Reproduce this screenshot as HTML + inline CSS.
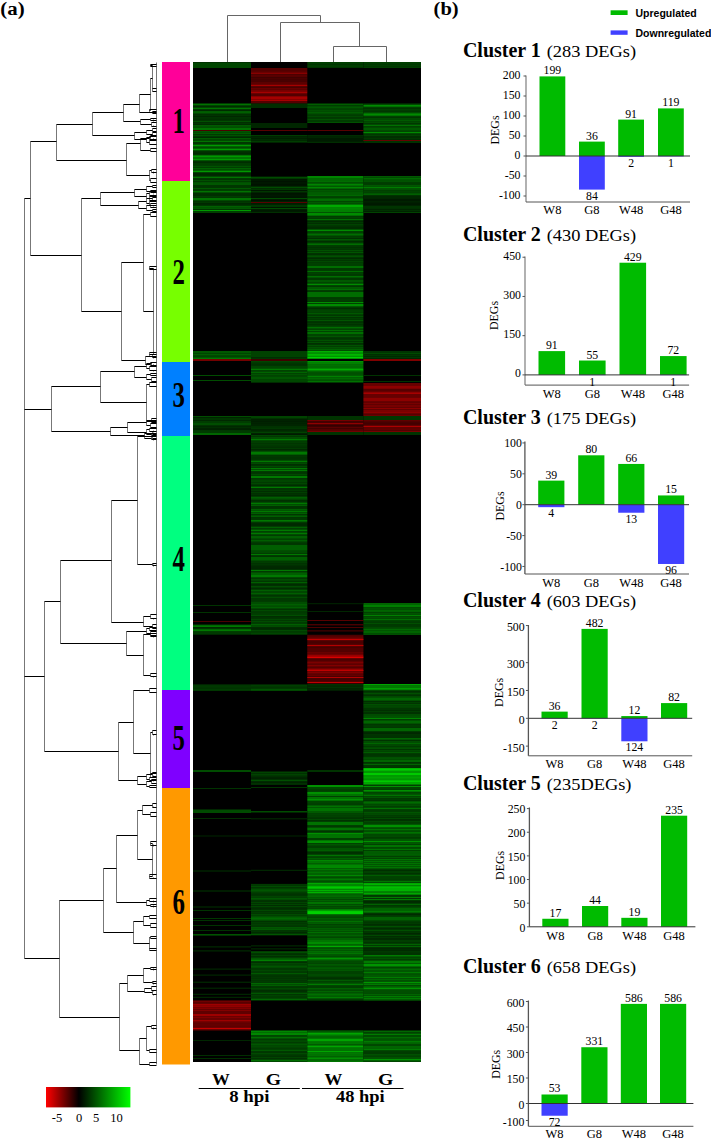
<!DOCTYPE html>
<html><head><meta charset="utf-8"><title>Figure</title>
<style>html,body{margin:0;padding:0;background:#fff;}svg{display:block;}</style></head>
<body><svg width="711" height="1141" viewBox="0 0 711 1141">
<rect width="711" height="1141" fill="#fff"/>
<text transform="translate(433.6 14.6) scale(1.08 1)" font-family="'Liberation Serif', serif" font-weight="bold" font-size="19">(b)</text>
<text transform="translate(0.3 14.6) scale(1.1 1)" font-family="'Liberation Serif', serif" font-weight="bold" font-size="19">(a)</text>
<path d="M227.5 62V15.5H320.5V22.5 M280.5 62V22.5H359.5V46.5 M333.5 62V46.5H386.5V62" stroke="#666" stroke-width="1" fill="none"/>
<rect x="193" y="62" width="228" height="1000" fill="#000"/>
<rect x="193" y="62.00" width="58" height="1.00" fill="rgb(0,50,0)"/>
<rect x="193" y="63.00" width="58" height="1.00" fill="rgb(0,70,0)"/>
<rect x="193" y="64.00" width="58" height="2.00" fill="rgb(0,70,0)"/>
<rect x="193" y="66.00" width="58" height="2.00" fill="rgb(0,70,0)"/>
<rect x="193" y="103.50" width="58" height="2.00" fill="rgb(0,115,0)"/>
<rect x="193" y="105.50" width="58" height="1.00" fill="rgb(0,78,0)"/>
<rect x="193" y="106.50" width="58" height="1.00" fill="rgb(0,51,0)"/>
<rect x="193" y="107.50" width="58" height="2.00" fill="rgb(0,115,0)"/>
<rect x="193" y="109.50" width="58" height="1.00" fill="rgb(0,59,0)"/>
<rect x="193" y="110.50" width="58" height="1.00" fill="rgb(0,56,0)"/>
<rect x="193" y="111.50" width="58" height="1.00" fill="rgb(0,153,0)"/>
<rect x="193" y="112.50" width="58" height="1.00" fill="rgb(0,115,0)"/>
<rect x="193" y="113.50" width="58" height="1.00" fill="rgb(0,85,0)"/>
<rect x="193" y="114.50" width="58" height="2.00" fill="rgb(0,52,0)"/>
<rect x="193" y="116.50" width="58" height="2.00" fill="rgb(0,53,0)"/>
<rect x="193" y="118.50" width="58" height="1.00" fill="rgb(0,77,0)"/>
<rect x="193" y="119.50" width="58" height="1.00" fill="rgb(0,57,0)"/>
<rect x="193" y="120.50" width="58" height="2.00" fill="rgb(0,81,0)"/>
<rect x="193" y="122.50" width="58" height="2.00" fill="rgb(0,55,0)"/>
<rect x="193" y="124.50" width="58" height="1.00" fill="rgb(0,60,0)"/>
<rect x="193" y="125.50" width="58" height="1.00" fill="rgb(0,153,0)"/>
<rect x="193" y="126.50" width="58" height="1.00" fill="rgb(0,90,0)"/>
<rect x="193" y="127.50" width="58" height="1.50" fill="rgb(0,115,0)"/>
<rect x="193" y="129.00" width="58" height="1.00" fill="rgb(0,115,0)"/>
<rect x="193" y="130.00" width="58" height="1.50" fill="rgb(0,115,0)"/>
<rect x="193" y="131.50" width="58" height="1.00" fill="rgb(0,115,0)"/>
<rect x="193" y="132.50" width="58" height="1.50" fill="rgb(0,91,0)"/>
<rect x="193" y="134.00" width="58" height="1.00" fill="rgb(0,58,0)"/>
<rect x="193" y="135.00" width="58" height="1.00" fill="rgb(0,82,0)"/>
<rect x="193" y="136.00" width="58" height="1.50" fill="rgb(0,57,0)"/>
<rect x="193" y="137.50" width="58" height="1.00" fill="rgb(0,57,0)"/>
<rect x="193" y="138.50" width="58" height="1.00" fill="rgb(0,153,0)"/>
<rect x="193" y="139.50" width="58" height="1.00" fill="rgb(0,65,0)"/>
<rect x="193" y="140.50" width="58" height="1.50" fill="rgb(0,115,0)"/>
<rect x="193" y="142.00" width="58" height="1.50" fill="rgb(0,55,0)"/>
<rect x="193" y="143.50" width="58" height="1.50" fill="rgb(0,86,0)"/>
<rect x="193" y="145.00" width="58" height="1.50" fill="rgb(0,153,0)"/>
<rect x="193" y="146.50" width="58" height="1.00" fill="rgb(0,115,0)"/>
<rect x="193" y="147.50" width="58" height="1.00" fill="rgb(0,91,0)"/>
<rect x="193" y="148.50" width="58" height="1.50" fill="rgb(0,153,0)"/>
<rect x="193" y="150.00" width="58" height="1.50" fill="rgb(0,81,0)"/>
<rect x="193" y="151.50" width="58" height="1.00" fill="rgb(0,63,0)"/>
<rect x="193" y="152.50" width="58" height="1.00" fill="rgb(0,65,0)"/>
<rect x="193" y="153.50" width="58" height="1.50" fill="rgb(0,52,0)"/>
<rect x="193" y="155.00" width="58" height="1.00" fill="rgb(0,115,0)"/>
<rect x="193" y="156.00" width="58" height="1.00" fill="rgb(0,153,0)"/>
<rect x="193" y="157.00" width="58" height="2.00" fill="rgb(0,115,0)"/>
<rect x="193" y="159.00" width="58" height="1.00" fill="rgb(0,153,0)"/>
<rect x="193" y="160.00" width="58" height="1.50" fill="rgb(0,86,0)"/>
<rect x="193" y="161.50" width="58" height="1.00" fill="rgb(0,60,0)"/>
<rect x="193" y="162.50" width="58" height="2.00" fill="rgb(0,60,0)"/>
<rect x="193" y="164.50" width="58" height="1.00" fill="rgb(0,90,0)"/>
<rect x="193" y="165.50" width="58" height="2.00" fill="rgb(0,83,0)"/>
<rect x="193" y="167.50" width="58" height="1.00" fill="rgb(0,83,0)"/>
<rect x="193" y="168.50" width="58" height="1.00" fill="rgb(0,153,0)"/>
<rect x="193" y="169.50" width="58" height="1.00" fill="rgb(0,78,0)"/>
<rect x="193" y="170.50" width="58" height="2.00" fill="rgb(0,153,0)"/>
<rect x="193" y="172.50" width="58" height="1.00" fill="rgb(0,58,0)"/>
<rect x="193" y="173.50" width="58" height="1.00" fill="rgb(0,51,0)"/>
<rect x="193" y="174.50" width="58" height="1.00" fill="rgb(0,52,0)"/>
<rect x="193" y="175.50" width="58" height="1.00" fill="rgb(0,59,0)"/>
<rect x="193" y="176.50" width="58" height="1.50" fill="rgb(0,115,0)"/>
<rect x="193" y="178.00" width="58" height="1.50" fill="rgb(0,57,0)"/>
<rect x="193" y="179.50" width="58" height="1.50" fill="rgb(0,79,0)"/>
<rect x="193" y="181.00" width="58" height="1.00" fill="rgb(0,57,0)"/>
<rect x="193" y="182.00" width="58" height="1.00" fill="rgb(0,80,0)"/>
<rect x="193" y="183.00" width="58" height="2.00" fill="rgb(0,87,0)"/>
<rect x="193" y="185.00" width="58" height="1.00" fill="rgb(0,54,0)"/>
<rect x="193" y="186.00" width="58" height="1.00" fill="rgb(0,54,0)"/>
<rect x="193" y="187.00" width="58" height="1.00" fill="rgb(0,55,0)"/>
<rect x="193" y="188.00" width="58" height="1.00" fill="rgb(0,88,0)"/>
<rect x="193" y="189.00" width="58" height="1.00" fill="rgb(0,59,0)"/>
<rect x="193" y="190.00" width="58" height="1.00" fill="rgb(0,62,0)"/>
<rect x="193" y="191.00" width="58" height="1.00" fill="rgb(0,115,0)"/>
<rect x="193" y="192.00" width="58" height="1.50" fill="rgb(0,77,0)"/>
<rect x="193" y="193.50" width="58" height="1.00" fill="rgb(0,57,0)"/>
<rect x="193" y="194.50" width="58" height="1.00" fill="rgb(0,64,0)"/>
<rect x="193" y="195.50" width="58" height="1.50" fill="rgb(0,61,0)"/>
<rect x="193" y="197.00" width="58" height="1.00" fill="rgb(0,55,0)"/>
<rect x="193" y="198.00" width="58" height="1.00" fill="rgb(0,115,0)"/>
<rect x="193" y="199.00" width="58" height="1.50" fill="rgb(0,115,0)"/>
<rect x="193" y="200.50" width="58" height="1.00" fill="rgb(0,92,0)"/>
<rect x="193" y="201.50" width="58" height="2.00" fill="rgb(0,57,0)"/>
<rect x="193" y="203.50" width="58" height="1.00" fill="rgb(0,51,0)"/>
<rect x="193" y="204.50" width="58" height="1.00" fill="rgb(0,62,0)"/>
<rect x="193" y="205.50" width="58" height="1.00" fill="rgb(0,79,0)"/>
<rect x="193" y="206.50" width="58" height="1.00" fill="rgb(0,153,0)"/>
<rect x="193" y="207.50" width="58" height="1.50" fill="rgb(0,88,0)"/>
<rect x="193" y="209.00" width="58" height="1.00" fill="rgb(0,52,0)"/>
<rect x="193" y="210.00" width="58" height="1.00" fill="rgb(0,153,0)"/>
<rect x="193" y="211.00" width="58" height="2.00" fill="rgb(0,62,0)"/>
<rect x="193" y="351.00" width="58" height="1.00" fill="rgb(0,88,0)"/>
<rect x="193" y="352.00" width="58" height="1.50" fill="rgb(0,87,0)"/>
<rect x="193" y="353.50" width="58" height="2.00" fill="rgb(0,94,0)"/>
<rect x="193" y="355.50" width="58" height="1.00" fill="rgb(0,99,0)"/>
<rect x="193" y="356.50" width="58" height="1.50" fill="rgb(0,86,0)"/>
<rect x="193" y="358.00" width="58" height="1.00" fill="rgb(0,120,0)"/>
<rect x="193" y="359" width="58" height="2.00" fill="rgb(115,0,0)"/>
<rect x="193" y="416.00" width="58" height="1.00" fill="rgb(0,77,0)"/>
<rect x="193" y="417.00" width="58" height="1.00" fill="rgb(0,36,0)"/>
<rect x="193" y="418.00" width="58" height="2.00" fill="rgb(0,52,0)"/>
<rect x="193" y="420.00" width="58" height="1.00" fill="rgb(0,40,0)"/>
<rect x="193" y="421.00" width="58" height="2.00" fill="rgb(0,60,0)"/>
<rect x="193" y="423.00" width="58" height="2.00" fill="rgb(0,77,0)"/>
<rect x="193" y="425.00" width="58" height="1.00" fill="rgb(0,51,0)"/>
<rect x="193" y="426.00" width="58" height="1.50" fill="rgb(0,39,0)"/>
<rect x="193" y="427.50" width="58" height="1.00" fill="rgb(0,77,0)"/>
<rect x="193" y="428.50" width="58" height="1.50" fill="rgb(0,34,0)"/>
<rect x="193" y="430.00" width="58" height="1.00" fill="rgb(0,56,0)"/>
<rect x="193" y="431.00" width="58" height="2.00" fill="rgb(0,59,0)"/>
<rect x="193" y="433.00" width="58" height="2.00" fill="rgb(0,102,0)"/>
<rect x="193" y="624.50" width="58" height="1.00" fill="rgb(0,74,0)"/>
<rect x="193" y="625.50" width="58" height="1.00" fill="rgb(0,64,0)"/>
<rect x="193" y="626.50" width="58" height="1.00" fill="rgb(0,64,0)"/>
<rect x="193" y="627.50" width="58" height="2.00" fill="rgb(0,53,0)"/>
<rect x="193" y="629.50" width="58" height="1.00" fill="rgb(0,64,0)"/>
<rect x="193" y="630.50" width="58" height="1.50" fill="rgb(0,62,0)"/>
<rect x="193" y="632.00" width="58" height="2.00" fill="rgb(0,57,0)"/>
<rect x="193" y="634.00" width="58" height="0.70" fill="rgb(0,57,0)"/>
<rect x="193" y="684.50" width="58" height="1.00" fill="rgb(0,66,0)"/>
<rect x="193" y="685.50" width="58" height="1.00" fill="rgb(0,76,0)"/>
<rect x="193" y="686.50" width="58" height="1.00" fill="rgb(0,75,0)"/>
<rect x="193" y="687.50" width="58" height="1.00" fill="rgb(0,70,0)"/>
<rect x="193" y="688.50" width="58" height="1.00" fill="rgb(0,68,0)"/>
<rect x="193" y="689.50" width="58" height="1.00" fill="rgb(0,87,0)"/>
<rect x="193" y="690.50" width="58" height="0.50" fill="rgb(0,66,0)"/>
<rect x="193" y="770" width="58" height="2.00" fill="rgb(0,76,0)"/>
<rect x="193" y="809.5" width="58" height="3.50" fill="rgb(0,76,0)"/>
<rect x="193" y="1000.50" width="58" height="1.00" fill="rgb(127,0,0)"/>
<rect x="193" y="1001.50" width="58" height="1.00" fill="rgb(158,0,0)"/>
<rect x="193" y="1002.50" width="58" height="1.50" fill="rgb(99,0,0)"/>
<rect x="193" y="1004.00" width="58" height="1.50" fill="rgb(158,0,0)"/>
<rect x="193" y="1005.50" width="58" height="1.00" fill="rgb(196,0,0)"/>
<rect x="193" y="1006.50" width="58" height="1.00" fill="rgb(196,0,0)"/>
<rect x="193" y="1007.50" width="58" height="2.00" fill="rgb(131,0,0)"/>
<rect x="193" y="1009.50" width="58" height="1.50" fill="rgb(129,0,0)"/>
<rect x="193" y="1011.00" width="58" height="2.00" fill="rgb(95,0,0)"/>
<rect x="193" y="1013.00" width="58" height="1.00" fill="rgb(95,0,0)"/>
<rect x="193" y="1014.00" width="58" height="1.00" fill="rgb(158,0,0)"/>
<rect x="193" y="1015.00" width="58" height="1.00" fill="rgb(158,0,0)"/>
<rect x="193" y="1016.00" width="58" height="1.00" fill="rgb(106,0,0)"/>
<rect x="193" y="1017.00" width="58" height="1.00" fill="rgb(128,0,0)"/>
<rect x="193" y="1018.00" width="58" height="2.00" fill="rgb(104,0,0)"/>
<rect x="193" y="1020.00" width="58" height="1.00" fill="rgb(158,0,0)"/>
<rect x="193" y="1021.00" width="58" height="1.00" fill="rgb(121,0,0)"/>
<rect x="193" y="1022.00" width="58" height="1.00" fill="rgb(105,0,0)"/>
<rect x="193" y="1023.00" width="58" height="1.00" fill="rgb(96,0,0)"/>
<rect x="193" y="1024.00" width="58" height="1.00" fill="rgb(100,0,0)"/>
<rect x="193" y="1025.00" width="58" height="1.00" fill="rgb(99,0,0)"/>
<rect x="193" y="1026.00" width="58" height="1.00" fill="rgb(94,0,0)"/>
<rect x="193" y="1027.00" width="58" height="1.00" fill="rgb(108,0,0)"/>
<rect x="193" y="1028.00" width="58" height="1.00" fill="rgb(196,0,0)"/>
<rect x="193" y="1029.00" width="58" height="1.00" fill="rgb(103,0,0)"/>
<rect x="193" y="1030.00" width="58" height="0.50" fill="rgb(98,0,0)"/>
<rect x="251" y="68.00" width="56.30000000000001" height="2.00" fill="rgb(85,0,0)"/>
<rect x="251" y="70.00" width="56.30000000000001" height="1.00" fill="rgb(83,0,0)"/>
<rect x="251" y="71.00" width="56.30000000000001" height="1.00" fill="rgb(89,0,0)"/>
<rect x="251" y="72.00" width="56.30000000000001" height="1.00" fill="rgb(107,0,0)"/>
<rect x="251" y="73.00" width="56.30000000000001" height="1.50" fill="rgb(134,0,0)"/>
<rect x="251" y="74.50" width="56.30000000000001" height="1.50" fill="rgb(89,0,0)"/>
<rect x="251" y="76.00" width="56.30000000000001" height="1.50" fill="rgb(86,0,0)"/>
<rect x="251" y="77.50" width="56.30000000000001" height="1.00" fill="rgb(86,0,0)"/>
<rect x="251" y="78.50" width="56.30000000000001" height="1.00" fill="rgb(108,0,0)"/>
<rect x="251" y="79.50" width="56.30000000000001" height="1.00" fill="rgb(82,0,0)"/>
<rect x="251" y="80.50" width="56.30000000000001" height="1.00" fill="rgb(104,0,0)"/>
<rect x="251" y="81.50" width="56.30000000000001" height="1.50" fill="rgb(90,0,0)"/>
<rect x="251" y="83.00" width="56.30000000000001" height="1.00" fill="rgb(91,0,0)"/>
<rect x="251" y="84.00" width="56.30000000000001" height="1.00" fill="rgb(105,0,0)"/>
<rect x="251" y="85.00" width="56.30000000000001" height="1.50" fill="rgb(165,0,0)"/>
<rect x="251" y="86.50" width="56.30000000000001" height="1.00" fill="rgb(94,0,0)"/>
<rect x="251" y="87.50" width="56.30000000000001" height="2.00" fill="rgb(104,0,0)"/>
<rect x="251" y="89.50" width="56.30000000000001" height="1.00" fill="rgb(134,0,0)"/>
<rect x="251" y="90.50" width="56.30000000000001" height="1.00" fill="rgb(165,0,0)"/>
<rect x="251" y="91.50" width="56.30000000000001" height="1.50" fill="rgb(165,0,0)"/>
<rect x="251" y="93.00" width="56.30000000000001" height="1.00" fill="rgb(106,0,0)"/>
<rect x="251" y="94.00" width="56.30000000000001" height="2.00" fill="rgb(83,0,0)"/>
<rect x="251" y="96.00" width="56.30000000000001" height="1.00" fill="rgb(134,0,0)"/>
<rect x="251" y="97.00" width="56.30000000000001" height="2.00" fill="rgb(165,0,0)"/>
<rect x="251" y="99.00" width="56.30000000000001" height="1.00" fill="rgb(134,0,0)"/>
<rect x="251" y="100.00" width="56.30000000000001" height="1.00" fill="rgb(165,0,0)"/>
<rect x="251" y="101.00" width="56.30000000000001" height="2.00" fill="rgb(84,0,0)"/>
<rect x="251" y="103.00" width="56.30000000000001" height="0.50" fill="rgb(108,0,0)"/>
<rect x="251" y="103.5" width="56.30000000000001" height="4.50" fill="rgb(0,46,0)"/>
<rect x="251" y="123" width="56.30000000000001" height="5.00" fill="rgb(0,38,0)"/>
<rect x="251" y="135.00" width="56.30000000000001" height="1.50" fill="rgb(0,61,0)"/>
<rect x="251" y="136.50" width="56.30000000000001" height="2.00" fill="rgb(0,40,0)"/>
<rect x="251" y="138.50" width="56.30000000000001" height="2.00" fill="rgb(0,43,0)"/>
<rect x="251" y="140.50" width="56.30000000000001" height="2.00" fill="rgb(0,61,0)"/>
<rect x="251" y="142.50" width="56.30000000000001" height="0.50" fill="rgb(0,42,0)"/>
<rect x="251" y="176.00" width="56.30000000000001" height="1.00" fill="rgb(0,25,0)"/>
<rect x="251" y="177.00" width="56.30000000000001" height="1.00" fill="rgb(0,75,0)"/>
<rect x="251" y="178.00" width="56.30000000000001" height="1.00" fill="rgb(0,55,0)"/>
<rect x="251" y="179.00" width="56.30000000000001" height="1.00" fill="rgb(0,23,0)"/>
<rect x="251" y="180.00" width="56.30000000000001" height="1.50" fill="rgb(0,25,0)"/>
<rect x="251" y="181.50" width="56.30000000000001" height="2.00" fill="rgb(0,24,0)"/>
<rect x="251" y="183.50" width="56.30000000000001" height="1.00" fill="rgb(0,35,0)"/>
<rect x="251" y="184.50" width="56.30000000000001" height="2.00" fill="rgb(0,21,0)"/>
<rect x="251" y="186.50" width="56.30000000000001" height="2.00" fill="rgb(0,75,0)"/>
<rect x="251" y="188.50" width="56.30000000000001" height="1.50" fill="rgb(0,55,0)"/>
<rect x="251" y="190.00" width="56.30000000000001" height="1.00" fill="rgb(0,22,0)"/>
<rect x="251" y="191.00" width="56.30000000000001" height="1.00" fill="rgb(0,55,0)"/>
<rect x="251" y="192.00" width="56.30000000000001" height="1.50" fill="rgb(0,37,0)"/>
<rect x="251" y="193.50" width="56.30000000000001" height="1.50" fill="rgb(0,22,0)"/>
<rect x="251" y="195.00" width="56.30000000000001" height="1.00" fill="rgb(0,25,0)"/>
<rect x="251" y="196.00" width="56.30000000000001" height="1.00" fill="rgb(0,23,0)"/>
<rect x="251" y="197.00" width="56.30000000000001" height="1.00" fill="rgb(0,21,0)"/>
<rect x="251" y="198.00" width="56.30000000000001" height="1.50" fill="rgb(0,75,0)"/>
<rect x="251" y="199.50" width="56.30000000000001" height="1.00" fill="rgb(0,21,0)"/>
<rect x="251" y="200.50" width="56.30000000000001" height="1.00" fill="rgb(0,22,0)"/>
<rect x="251" y="201.50" width="56.30000000000001" height="2.00" fill="rgb(0,55,0)"/>
<rect x="251" y="203.50" width="56.30000000000001" height="1.50" fill="rgb(0,35,0)"/>
<rect x="251" y="205.00" width="56.30000000000001" height="2.00" fill="rgb(0,55,0)"/>
<rect x="251" y="207.00" width="56.30000000000001" height="1.00" fill="rgb(0,20,0)"/>
<rect x="251" y="208.00" width="56.30000000000001" height="1.50" fill="rgb(0,75,0)"/>
<rect x="251" y="209.50" width="56.30000000000001" height="2.00" fill="rgb(0,24,0)"/>
<rect x="251" y="211.50" width="56.30000000000001" height="1.00" fill="rgb(0,42,0)"/>
<rect x="251" y="212.50" width="56.30000000000001" height="0.50" fill="rgb(0,75,0)"/>
<rect x="251" y="351.00" width="56.30000000000001" height="1.00" fill="rgb(0,66,0)"/>
<rect x="251" y="352.00" width="56.30000000000001" height="2.00" fill="rgb(0,66,0)"/>
<rect x="251" y="354.00" width="56.30000000000001" height="1.00" fill="rgb(0,66,0)"/>
<rect x="251" y="355.00" width="56.30000000000001" height="2.00" fill="rgb(0,66,0)"/>
<rect x="251" y="357.00" width="56.30000000000001" height="1.00" fill="rgb(0,46,0)"/>
<rect x="251" y="358.00" width="56.30000000000001" height="1.00" fill="rgb(0,54,0)"/>
<rect x="251" y="359" width="56.30000000000001" height="2.00" fill="rgb(64,0,0)"/>
<rect x="251" y="361.00" width="56.30000000000001" height="1.50" fill="rgb(0,69,0)"/>
<rect x="251" y="362.50" width="56.30000000000001" height="1.00" fill="rgb(0,83,0)"/>
<rect x="251" y="363.50" width="56.30000000000001" height="1.00" fill="rgb(0,66,0)"/>
<rect x="251" y="364.50" width="56.30000000000001" height="1.00" fill="rgb(0,67,0)"/>
<rect x="251" y="365.50" width="56.30000000000001" height="1.00" fill="rgb(0,73,0)"/>
<rect x="251" y="366.50" width="56.30000000000001" height="1.00" fill="rgb(0,100,0)"/>
<rect x="251" y="367.50" width="56.30000000000001" height="1.00" fill="rgb(0,88,0)"/>
<rect x="251" y="368.50" width="56.30000000000001" height="2.00" fill="rgb(0,121,0)"/>
<rect x="251" y="370.50" width="56.30000000000001" height="1.50" fill="rgb(0,73,0)"/>
<rect x="251" y="372.00" width="56.30000000000001" height="1.00" fill="rgb(0,100,0)"/>
<rect x="251" y="373.00" width="56.30000000000001" height="1.00" fill="rgb(0,67,0)"/>
<rect x="251" y="374.00" width="56.30000000000001" height="1.00" fill="rgb(0,83,0)"/>
<rect x="251" y="375.00" width="56.30000000000001" height="1.00" fill="rgb(0,69,0)"/>
<rect x="251" y="376.00" width="56.30000000000001" height="1.00" fill="rgb(0,71,0)"/>
<rect x="251" y="377.00" width="56.30000000000001" height="2.00" fill="rgb(0,86,0)"/>
<rect x="251" y="379.00" width="56.30000000000001" height="1.00" fill="rgb(0,69,0)"/>
<rect x="251" y="380.00" width="56.30000000000001" height="2.00" fill="rgb(0,71,0)"/>
<rect x="251" y="382.00" width="56.30000000000001" height="0.50" fill="rgb(0,88,0)"/>
<rect x="251" y="416.00" width="56.30000000000001" height="2.00" fill="rgb(0,67,0)"/>
<rect x="251" y="418.00" width="56.30000000000001" height="1.50" fill="rgb(0,49,0)"/>
<rect x="251" y="419.50" width="56.30000000000001" height="1.00" fill="rgb(0,41,0)"/>
<rect x="251" y="420.50" width="56.30000000000001" height="1.00" fill="rgb(0,49,0)"/>
<rect x="251" y="421.50" width="56.30000000000001" height="1.50" fill="rgb(0,36,0)"/>
<rect x="251" y="423.00" width="56.30000000000001" height="1.00" fill="rgb(0,33,0)"/>
<rect x="251" y="424.00" width="56.30000000000001" height="2.00" fill="rgb(0,37,0)"/>
<rect x="251" y="426.00" width="56.30000000000001" height="1.00" fill="rgb(0,50,0)"/>
<rect x="251" y="427.00" width="56.30000000000001" height="1.50" fill="rgb(0,51,0)"/>
<rect x="251" y="428.50" width="56.30000000000001" height="1.00" fill="rgb(0,88,0)"/>
<rect x="251" y="429.50" width="56.30000000000001" height="1.00" fill="rgb(0,35,0)"/>
<rect x="251" y="430.50" width="56.30000000000001" height="1.00" fill="rgb(0,67,0)"/>
<rect x="251" y="431.50" width="56.30000000000001" height="2.00" fill="rgb(0,67,0)"/>
<rect x="251" y="433.50" width="56.30000000000001" height="1.00" fill="rgb(0,36,0)"/>
<rect x="251" y="434.50" width="56.30000000000001" height="0.50" fill="rgb(0,34,0)"/>
<rect x="251" y="435.00" width="56.30000000000001" height="1.00" fill="rgb(0,69,0)"/>
<rect x="251" y="436.00" width="56.30000000000001" height="1.00" fill="rgb(0,55,0)"/>
<rect x="251" y="437.00" width="56.30000000000001" height="2.00" fill="rgb(0,77,0)"/>
<rect x="251" y="439.00" width="56.30000000000001" height="1.00" fill="rgb(0,120,0)"/>
<rect x="251" y="440.00" width="56.30000000000001" height="1.00" fill="rgb(0,75,0)"/>
<rect x="251" y="441.00" width="56.30000000000001" height="1.50" fill="rgb(0,60,0)"/>
<rect x="251" y="442.50" width="56.30000000000001" height="1.00" fill="rgb(0,94,0)"/>
<rect x="251" y="443.50" width="56.30000000000001" height="1.50" fill="rgb(0,60,0)"/>
<rect x="251" y="445.00" width="56.30000000000001" height="1.50" fill="rgb(0,56,0)"/>
<rect x="251" y="446.50" width="56.30000000000001" height="1.00" fill="rgb(0,78,0)"/>
<rect x="251" y="447.50" width="56.30000000000001" height="2.00" fill="rgb(0,61,0)"/>
<rect x="251" y="449.50" width="56.30000000000001" height="1.00" fill="rgb(0,53,0)"/>
<rect x="251" y="450.50" width="56.30000000000001" height="1.00" fill="rgb(0,76,0)"/>
<rect x="251" y="451.50" width="56.30000000000001" height="1.50" fill="rgb(0,120,0)"/>
<rect x="251" y="453.00" width="56.30000000000001" height="1.00" fill="rgb(0,120,0)"/>
<rect x="251" y="454.00" width="56.30000000000001" height="1.00" fill="rgb(0,94,0)"/>
<rect x="251" y="455.00" width="56.30000000000001" height="1.00" fill="rgb(0,54,0)"/>
<rect x="251" y="456.00" width="56.30000000000001" height="1.00" fill="rgb(0,56,0)"/>
<rect x="251" y="457.00" width="56.30000000000001" height="1.50" fill="rgb(0,52,0)"/>
<rect x="251" y="458.50" width="56.30000000000001" height="1.00" fill="rgb(0,78,0)"/>
<rect x="251" y="459.50" width="56.30000000000001" height="1.00" fill="rgb(0,71,0)"/>
<rect x="251" y="460.50" width="56.30000000000001" height="2.00" fill="rgb(0,120,0)"/>
<rect x="251" y="462.50" width="56.30000000000001" height="2.00" fill="rgb(0,74,0)"/>
<rect x="251" y="464.50" width="56.30000000000001" height="1.00" fill="rgb(0,60,0)"/>
<rect x="251" y="465.50" width="56.30000000000001" height="1.50" fill="rgb(0,74,0)"/>
<rect x="251" y="467.00" width="56.30000000000001" height="1.00" fill="rgb(0,58,0)"/>
<rect x="251" y="468.00" width="56.30000000000001" height="1.00" fill="rgb(0,120,0)"/>
<rect x="251" y="469.00" width="56.30000000000001" height="1.00" fill="rgb(0,76,0)"/>
<rect x="251" y="470.00" width="56.30000000000001" height="1.50" fill="rgb(0,120,0)"/>
<rect x="251" y="471.50" width="56.30000000000001" height="1.00" fill="rgb(0,60,0)"/>
<rect x="251" y="472.50" width="56.30000000000001" height="1.00" fill="rgb(0,76,0)"/>
<rect x="251" y="473.50" width="56.30000000000001" height="1.50" fill="rgb(0,73,0)"/>
<rect x="251" y="475.00" width="56.30000000000001" height="1.00" fill="rgb(0,59,0)"/>
<rect x="251" y="476.00" width="56.30000000000001" height="2.00" fill="rgb(0,120,0)"/>
<rect x="251" y="478.00" width="56.30000000000001" height="1.50" fill="rgb(0,54,0)"/>
<rect x="251" y="479.50" width="56.30000000000001" height="1.00" fill="rgb(0,94,0)"/>
<rect x="251" y="480.50" width="56.30000000000001" height="1.00" fill="rgb(0,94,0)"/>
<rect x="251" y="481.50" width="56.30000000000001" height="1.00" fill="rgb(0,94,0)"/>
<rect x="251" y="482.50" width="56.30000000000001" height="2.00" fill="rgb(0,71,0)"/>
<rect x="251" y="484.50" width="56.30000000000001" height="1.00" fill="rgb(0,78,0)"/>
<rect x="251" y="485.50" width="56.30000000000001" height="1.00" fill="rgb(0,52,0)"/>
<rect x="251" y="486.50" width="56.30000000000001" height="1.50" fill="rgb(0,120,0)"/>
<rect x="251" y="488.00" width="56.30000000000001" height="1.00" fill="rgb(0,52,0)"/>
<rect x="251" y="489.00" width="56.30000000000001" height="1.00" fill="rgb(0,53,0)"/>
<rect x="251" y="490.00" width="56.30000000000001" height="1.50" fill="rgb(0,60,0)"/>
<rect x="251" y="491.50" width="56.30000000000001" height="1.00" fill="rgb(0,61,0)"/>
<rect x="251" y="492.50" width="56.30000000000001" height="1.00" fill="rgb(0,94,0)"/>
<rect x="251" y="493.50" width="56.30000000000001" height="2.00" fill="rgb(0,51,0)"/>
<rect x="251" y="495.50" width="56.30000000000001" height="1.50" fill="rgb(0,61,0)"/>
<rect x="251" y="497.00" width="56.30000000000001" height="1.50" fill="rgb(0,94,0)"/>
<rect x="251" y="498.50" width="56.30000000000001" height="1.00" fill="rgb(0,120,0)"/>
<rect x="251" y="499.50" width="56.30000000000001" height="1.00" fill="rgb(0,79,0)"/>
<rect x="251" y="500.50" width="56.30000000000001" height="1.00" fill="rgb(0,59,0)"/>
<rect x="251" y="501.50" width="56.30000000000001" height="1.50" fill="rgb(0,77,0)"/>
<rect x="251" y="503.00" width="56.30000000000001" height="1.50" fill="rgb(0,120,0)"/>
<rect x="251" y="504.50" width="56.30000000000001" height="1.50" fill="rgb(0,94,0)"/>
<rect x="251" y="506.00" width="56.30000000000001" height="2.00" fill="rgb(0,53,0)"/>
<rect x="251" y="508.00" width="56.30000000000001" height="1.00" fill="rgb(0,56,0)"/>
<rect x="251" y="509.00" width="56.30000000000001" height="1.50" fill="rgb(0,94,0)"/>
<rect x="251" y="510.50" width="56.30000000000001" height="1.50" fill="rgb(0,120,0)"/>
<rect x="251" y="512.00" width="56.30000000000001" height="1.00" fill="rgb(0,77,0)"/>
<rect x="251" y="513.00" width="56.30000000000001" height="1.00" fill="rgb(0,94,0)"/>
<rect x="251" y="514.00" width="56.30000000000001" height="1.00" fill="rgb(0,54,0)"/>
<rect x="251" y="515.00" width="56.30000000000001" height="1.00" fill="rgb(0,79,0)"/>
<rect x="251" y="516.00" width="56.30000000000001" height="1.00" fill="rgb(0,94,0)"/>
<rect x="251" y="517.00" width="56.30000000000001" height="1.00" fill="rgb(0,54,0)"/>
<rect x="251" y="518.00" width="56.30000000000001" height="2.00" fill="rgb(0,57,0)"/>
<rect x="251" y="520.00" width="56.30000000000001" height="1.00" fill="rgb(0,120,0)"/>
<rect x="251" y="521.00" width="56.30000000000001" height="1.00" fill="rgb(0,94,0)"/>
<rect x="251" y="522.00" width="56.30000000000001" height="1.50" fill="rgb(0,55,0)"/>
<rect x="251" y="523.50" width="56.30000000000001" height="1.00" fill="rgb(0,59,0)"/>
<rect x="251" y="524.50" width="56.30000000000001" height="1.00" fill="rgb(0,53,0)"/>
<rect x="251" y="525.50" width="56.30000000000001" height="1.00" fill="rgb(0,59,0)"/>
<rect x="251" y="526.50" width="56.30000000000001" height="2.00" fill="rgb(0,94,0)"/>
<rect x="251" y="528.50" width="56.30000000000001" height="1.00" fill="rgb(0,77,0)"/>
<rect x="251" y="529.50" width="56.30000000000001" height="2.00" fill="rgb(0,120,0)"/>
<rect x="251" y="531.50" width="56.30000000000001" height="1.00" fill="rgb(0,70,0)"/>
<rect x="251" y="532.50" width="56.30000000000001" height="1.50" fill="rgb(0,120,0)"/>
<rect x="251" y="534.00" width="56.30000000000001" height="1.00" fill="rgb(0,74,0)"/>
<rect x="251" y="535.00" width="56.30000000000001" height="1.00" fill="rgb(0,60,0)"/>
<rect x="251" y="536.00" width="56.30000000000001" height="1.00" fill="rgb(0,94,0)"/>
<rect x="251" y="537.00" width="56.30000000000001" height="1.00" fill="rgb(0,94,0)"/>
<rect x="251" y="538.00" width="56.30000000000001" height="1.50" fill="rgb(0,76,0)"/>
<rect x="251" y="539.50" width="56.30000000000001" height="1.50" fill="rgb(0,94,0)"/>
<rect x="251" y="541.00" width="56.30000000000001" height="1.00" fill="rgb(0,75,0)"/>
<rect x="251" y="542.00" width="56.30000000000001" height="1.00" fill="rgb(0,60,0)"/>
<rect x="251" y="543.00" width="56.30000000000001" height="1.00" fill="rgb(0,54,0)"/>
<rect x="251" y="544.00" width="56.30000000000001" height="1.00" fill="rgb(0,55,0)"/>
<rect x="251" y="545.00" width="56.30000000000001" height="1.00" fill="rgb(0,94,0)"/>
<rect x="251" y="546.00" width="56.30000000000001" height="1.00" fill="rgb(0,94,0)"/>
<rect x="251" y="547.00" width="56.30000000000001" height="1.00" fill="rgb(0,94,0)"/>
<rect x="251" y="548.00" width="56.30000000000001" height="2.00" fill="rgb(0,94,0)"/>
<rect x="251" y="550.00" width="56.30000000000001" height="1.00" fill="rgb(0,79,0)"/>
<rect x="251" y="551.00" width="56.30000000000001" height="2.00" fill="rgb(0,75,0)"/>
<rect x="251" y="553.00" width="56.30000000000001" height="1.00" fill="rgb(0,61,0)"/>
<rect x="251" y="554.00" width="56.30000000000001" height="1.00" fill="rgb(0,120,0)"/>
<rect x="251" y="555.00" width="56.30000000000001" height="1.00" fill="rgb(0,60,0)"/>
<rect x="251" y="556.00" width="56.30000000000001" height="1.00" fill="rgb(0,53,0)"/>
<rect x="251" y="557.00" width="56.30000000000001" height="1.00" fill="rgb(0,94,0)"/>
<rect x="251" y="558.00" width="56.30000000000001" height="2.00" fill="rgb(0,94,0)"/>
<rect x="251" y="560.00" width="56.30000000000001" height="1.00" fill="rgb(0,78,0)"/>
<rect x="251" y="561.00" width="56.30000000000001" height="1.50" fill="rgb(0,59,0)"/>
<rect x="251" y="562.50" width="56.30000000000001" height="1.00" fill="rgb(0,94,0)"/>
<rect x="251" y="563.50" width="56.30000000000001" height="2.00" fill="rgb(0,55,0)"/>
<rect x="251" y="565.50" width="56.30000000000001" height="1.00" fill="rgb(0,70,0)"/>
<rect x="251" y="566.50" width="56.30000000000001" height="1.00" fill="rgb(0,51,0)"/>
<rect x="251" y="567.50" width="56.30000000000001" height="1.00" fill="rgb(0,59,0)"/>
<rect x="251" y="568.50" width="56.30000000000001" height="1.50" fill="rgb(0,53,0)"/>
<rect x="251" y="570.00" width="56.30000000000001" height="1.00" fill="rgb(0,120,0)"/>
<rect x="251" y="571.00" width="56.30000000000001" height="1.00" fill="rgb(0,57,0)"/>
<rect x="251" y="572.00" width="56.30000000000001" height="1.00" fill="rgb(0,77,0)"/>
<rect x="251" y="573.00" width="56.30000000000001" height="2.00" fill="rgb(0,94,0)"/>
<rect x="251" y="575.00" width="56.30000000000001" height="2.00" fill="rgb(0,120,0)"/>
<rect x="251" y="577.00" width="56.30000000000001" height="1.00" fill="rgb(0,72,0)"/>
<rect x="251" y="578.00" width="56.30000000000001" height="1.00" fill="rgb(0,55,0)"/>
<rect x="251" y="579.00" width="56.30000000000001" height="1.00" fill="rgb(0,75,0)"/>
<rect x="251" y="580.00" width="56.30000000000001" height="1.00" fill="rgb(0,69,0)"/>
<rect x="251" y="581.00" width="56.30000000000001" height="1.00" fill="rgb(0,55,0)"/>
<rect x="251" y="582.00" width="56.30000000000001" height="1.50" fill="rgb(0,94,0)"/>
<rect x="251" y="583.50" width="56.30000000000001" height="1.00" fill="rgb(0,70,0)"/>
<rect x="251" y="584.50" width="56.30000000000001" height="1.00" fill="rgb(0,55,0)"/>
<rect x="251" y="585.50" width="56.30000000000001" height="1.00" fill="rgb(0,71,0)"/>
<rect x="251" y="586.50" width="56.30000000000001" height="1.00" fill="rgb(0,120,0)"/>
<rect x="251" y="587.50" width="56.30000000000001" height="1.00" fill="rgb(0,60,0)"/>
<rect x="251" y="588.50" width="56.30000000000001" height="1.00" fill="rgb(0,60,0)"/>
<rect x="251" y="589.50" width="56.30000000000001" height="2.00" fill="rgb(0,94,0)"/>
<rect x="251" y="591.50" width="56.30000000000001" height="1.00" fill="rgb(0,94,0)"/>
<rect x="251" y="592.50" width="56.30000000000001" height="2.00" fill="rgb(0,94,0)"/>
<rect x="251" y="594.50" width="56.30000000000001" height="1.00" fill="rgb(0,94,0)"/>
<rect x="251" y="595.50" width="56.30000000000001" height="1.50" fill="rgb(0,59,0)"/>
<rect x="251" y="597.00" width="56.30000000000001" height="1.00" fill="rgb(0,77,0)"/>
<rect x="251" y="598.00" width="56.30000000000001" height="1.00" fill="rgb(0,56,0)"/>
<rect x="251" y="599.00" width="56.30000000000001" height="1.00" fill="rgb(0,57,0)"/>
<rect x="251" y="600.00" width="56.30000000000001" height="1.00" fill="rgb(0,57,0)"/>
<rect x="251" y="601.00" width="56.30000000000001" height="1.00" fill="rgb(0,60,0)"/>
<rect x="251" y="602.00" width="56.30000000000001" height="2.00" fill="rgb(0,77,0)"/>
<rect x="251" y="604.00" width="56.30000000000001" height="1.50" fill="rgb(0,94,0)"/>
<rect x="251" y="605.50" width="56.30000000000001" height="1.00" fill="rgb(0,120,0)"/>
<rect x="251" y="606.50" width="56.30000000000001" height="2.00" fill="rgb(0,94,0)"/>
<rect x="251" y="608.50" width="56.30000000000001" height="1.00" fill="rgb(0,94,0)"/>
<rect x="251" y="609.50" width="56.30000000000001" height="1.00" fill="rgb(0,59,0)"/>
<rect x="251" y="610.50" width="56.30000000000001" height="1.00" fill="rgb(0,120,0)"/>
<rect x="251" y="611.50" width="56.30000000000001" height="2.00" fill="rgb(0,58,0)"/>
<rect x="251" y="613.50" width="56.30000000000001" height="1.00" fill="rgb(0,94,0)"/>
<rect x="251" y="614.50" width="56.30000000000001" height="2.00" fill="rgb(0,78,0)"/>
<rect x="251" y="616.50" width="56.30000000000001" height="1.00" fill="rgb(0,54,0)"/>
<rect x="251" y="617.50" width="56.30000000000001" height="1.00" fill="rgb(0,76,0)"/>
<rect x="251" y="618.50" width="56.30000000000001" height="1.50" fill="rgb(0,71,0)"/>
<rect x="251" y="620.00" width="56.30000000000001" height="1.00" fill="rgb(0,56,0)"/>
<rect x="251" y="621.00" width="56.30000000000001" height="1.00" fill="rgb(0,75,0)"/>
<rect x="251" y="622.00" width="56.30000000000001" height="1.50" fill="rgb(0,59,0)"/>
<rect x="251" y="623.50" width="56.30000000000001" height="1.50" fill="rgb(0,94,0)"/>
<rect x="251" y="625.00" width="56.30000000000001" height="1.00" fill="rgb(0,73,0)"/>
<rect x="251" y="626.00" width="56.30000000000001" height="1.50" fill="rgb(0,76,0)"/>
<rect x="251" y="627.50" width="56.30000000000001" height="1.00" fill="rgb(0,52,0)"/>
<rect x="251" y="628.50" width="56.30000000000001" height="1.00" fill="rgb(0,56,0)"/>
<rect x="251" y="629.50" width="56.30000000000001" height="1.00" fill="rgb(0,60,0)"/>
<rect x="251" y="630.50" width="56.30000000000001" height="1.00" fill="rgb(0,120,0)"/>
<rect x="251" y="631.50" width="56.30000000000001" height="1.00" fill="rgb(0,58,0)"/>
<rect x="251" y="632.50" width="56.30000000000001" height="1.00" fill="rgb(0,94,0)"/>
<rect x="251" y="633.50" width="56.30000000000001" height="1.00" fill="rgb(0,94,0)"/>
<rect x="251" y="684.50" width="56.30000000000001" height="1.00" fill="rgb(0,72,0)"/>
<rect x="251" y="685.50" width="56.30000000000001" height="1.00" fill="rgb(0,90,0)"/>
<rect x="251" y="686.50" width="56.30000000000001" height="1.00" fill="rgb(0,70,0)"/>
<rect x="251" y="687.50" width="56.30000000000001" height="1.00" fill="rgb(0,70,0)"/>
<rect x="251" y="688.50" width="56.30000000000001" height="1.50" fill="rgb(0,83,0)"/>
<rect x="251" y="690.00" width="56.30000000000001" height="1.00" fill="rgb(0,71,0)"/>
<rect x="251" y="771.50" width="56.30000000000001" height="2.00" fill="rgb(0,66,0)"/>
<rect x="251" y="773.50" width="56.30000000000001" height="2.00" fill="rgb(0,66,0)"/>
<rect x="251" y="775.50" width="56.30000000000001" height="1.00" fill="rgb(0,79,0)"/>
<rect x="251" y="776.50" width="56.30000000000001" height="1.00" fill="rgb(0,57,0)"/>
<rect x="251" y="777.50" width="56.30000000000001" height="1.00" fill="rgb(0,49,0)"/>
<rect x="251" y="778.50" width="56.30000000000001" height="1.00" fill="rgb(0,46,0)"/>
<rect x="251" y="779.50" width="56.30000000000001" height="2.00" fill="rgb(0,79,0)"/>
<rect x="251" y="781.50" width="56.30000000000001" height="1.00" fill="rgb(0,47,0)"/>
<rect x="251" y="782.50" width="56.30000000000001" height="2.00" fill="rgb(0,49,0)"/>
<rect x="251" y="784.50" width="56.30000000000001" height="0.50" fill="rgb(0,66,0)"/>
<rect x="251" y="883.90" width="56.30000000000001" height="2.00" fill="rgb(0,58,0)"/>
<rect x="251" y="885.90" width="56.30000000000001" height="1.00" fill="rgb(0,86,0)"/>
<rect x="251" y="886.90" width="56.30000000000001" height="1.00" fill="rgb(0,58,0)"/>
<rect x="251" y="887.90" width="56.30000000000001" height="1.00" fill="rgb(0,69,0)"/>
<rect x="251" y="888.90" width="56.30000000000001" height="1.00" fill="rgb(0,86,0)"/>
<rect x="251" y="889.90" width="56.30000000000001" height="2.00" fill="rgb(0,86,0)"/>
<rect x="251" y="891.90" width="56.30000000000001" height="2.00" fill="rgb(0,62,0)"/>
<rect x="251" y="893.90" width="56.30000000000001" height="1.00" fill="rgb(0,57,0)"/>
<rect x="251" y="894.90" width="56.30000000000001" height="1.00" fill="rgb(0,58,0)"/>
<rect x="251" y="895.90" width="56.30000000000001" height="2.00" fill="rgb(0,68,0)"/>
<rect x="251" y="897.90" width="56.30000000000001" height="1.50" fill="rgb(0,86,0)"/>
<rect x="251" y="899.40" width="56.30000000000001" height="1.00" fill="rgb(0,104,0)"/>
<rect x="251" y="900.40" width="56.30000000000001" height="1.00" fill="rgb(0,58,0)"/>
<rect x="251" y="901.40" width="56.30000000000001" height="2.00" fill="rgb(0,69,0)"/>
<rect x="251" y="903.40" width="56.30000000000001" height="2.00" fill="rgb(0,69,0)"/>
<rect x="251" y="905.40" width="56.30000000000001" height="1.00" fill="rgb(0,59,0)"/>
<rect x="251" y="906.40" width="56.30000000000001" height="1.00" fill="rgb(0,104,0)"/>
<rect x="251" y="907.40" width="56.30000000000001" height="1.00" fill="rgb(0,59,0)"/>
<rect x="251" y="908.40" width="56.30000000000001" height="1.00" fill="rgb(0,62,0)"/>
<rect x="251" y="909.40" width="56.30000000000001" height="1.00" fill="rgb(0,70,0)"/>
<rect x="251" y="910.40" width="56.30000000000001" height="1.00" fill="rgb(0,104,0)"/>
<rect x="251" y="911.40" width="56.30000000000001" height="2.00" fill="rgb(0,60,0)"/>
<rect x="251" y="913.40" width="56.30000000000001" height="2.00" fill="rgb(0,75,0)"/>
<rect x="251" y="915.40" width="56.30000000000001" height="1.50" fill="rgb(0,86,0)"/>
<rect x="251" y="916.90" width="56.30000000000001" height="1.00" fill="rgb(0,104,0)"/>
<rect x="251" y="917.90" width="56.30000000000001" height="2.00" fill="rgb(0,104,0)"/>
<rect x="251" y="919.90" width="56.30000000000001" height="1.00" fill="rgb(0,86,0)"/>
<rect x="251" y="920.90" width="56.30000000000001" height="1.00" fill="rgb(0,56,0)"/>
<rect x="251" y="921.90" width="56.30000000000001" height="2.00" fill="rgb(0,62,0)"/>
<rect x="251" y="923.90" width="56.30000000000001" height="1.00" fill="rgb(0,72,0)"/>
<rect x="251" y="924.90" width="56.30000000000001" height="2.00" fill="rgb(0,58,0)"/>
<rect x="251" y="926.90" width="56.30000000000001" height="2.00" fill="rgb(0,86,0)"/>
<rect x="251" y="928.90" width="56.30000000000001" height="1.00" fill="rgb(0,104,0)"/>
<rect x="251" y="929.90" width="56.30000000000001" height="1.00" fill="rgb(0,61,0)"/>
<rect x="251" y="930.90" width="56.30000000000001" height="1.50" fill="rgb(0,55,0)"/>
<rect x="251" y="932.40" width="56.30000000000001" height="1.50" fill="rgb(0,59,0)"/>
<rect x="251" y="933.90" width="56.30000000000001" height="1.40" fill="rgb(0,86,0)"/>
<rect x="251" y="951.40" width="56.30000000000001" height="1.00" fill="rgb(0,102,0)"/>
<rect x="251" y="952.40" width="56.30000000000001" height="1.00" fill="rgb(0,102,0)"/>
<rect x="251" y="953.40" width="56.30000000000001" height="1.00" fill="rgb(0,61,0)"/>
<rect x="251" y="954.40" width="56.30000000000001" height="2.00" fill="rgb(0,66,0)"/>
<rect x="251" y="956.40" width="56.30000000000001" height="2.00" fill="rgb(0,62,0)"/>
<rect x="251" y="958.40" width="56.30000000000001" height="1.00" fill="rgb(0,128,0)"/>
<rect x="251" y="959.40" width="56.30000000000001" height="2.00" fill="rgb(0,128,0)"/>
<rect x="251" y="961.40" width="56.30000000000001" height="1.00" fill="rgb(0,67,0)"/>
<rect x="251" y="962.40" width="56.30000000000001" height="1.00" fill="rgb(0,66,0)"/>
<rect x="251" y="963.40" width="56.30000000000001" height="1.00" fill="rgb(0,102,0)"/>
<rect x="251" y="964.40" width="56.30000000000001" height="1.50" fill="rgb(0,79,0)"/>
<rect x="251" y="965.90" width="56.30000000000001" height="2.00" fill="rgb(0,85,0)"/>
<rect x="251" y="967.90" width="56.30000000000001" height="1.00" fill="rgb(0,63,0)"/>
<rect x="251" y="968.90" width="56.30000000000001" height="1.00" fill="rgb(0,62,0)"/>
<rect x="251" y="969.90" width="56.30000000000001" height="1.00" fill="rgb(0,82,0)"/>
<rect x="251" y="970.90" width="56.30000000000001" height="2.00" fill="rgb(0,60,0)"/>
<rect x="251" y="972.90" width="56.30000000000001" height="1.00" fill="rgb(0,102,0)"/>
<rect x="251" y="973.90" width="56.30000000000001" height="2.00" fill="rgb(0,62,0)"/>
<rect x="251" y="975.90" width="56.30000000000001" height="1.00" fill="rgb(0,59,0)"/>
<rect x="251" y="976.90" width="56.30000000000001" height="1.00" fill="rgb(0,65,0)"/>
<rect x="251" y="977.90" width="56.30000000000001" height="1.00" fill="rgb(0,59,0)"/>
<rect x="251" y="978.90" width="56.30000000000001" height="2.00" fill="rgb(0,61,0)"/>
<rect x="251" y="980.90" width="56.30000000000001" height="2.00" fill="rgb(0,59,0)"/>
<rect x="251" y="982.90" width="56.30000000000001" height="1.50" fill="rgb(0,102,0)"/>
<rect x="251" y="984.40" width="56.30000000000001" height="1.00" fill="rgb(0,102,0)"/>
<rect x="251" y="985.40" width="56.30000000000001" height="1.00" fill="rgb(0,128,0)"/>
<rect x="251" y="986.40" width="56.30000000000001" height="1.00" fill="rgb(0,65,0)"/>
<rect x="251" y="987.40" width="56.30000000000001" height="1.00" fill="rgb(0,78,0)"/>
<rect x="251" y="988.40" width="56.30000000000001" height="1.00" fill="rgb(0,102,0)"/>
<rect x="251" y="989.40" width="56.30000000000001" height="1.00" fill="rgb(0,77,0)"/>
<rect x="251" y="990.40" width="56.30000000000001" height="1.00" fill="rgb(0,59,0)"/>
<rect x="251" y="991.40" width="56.30000000000001" height="1.00" fill="rgb(0,66,0)"/>
<rect x="251" y="992.40" width="56.30000000000001" height="2.00" fill="rgb(0,85,0)"/>
<rect x="251" y="994.40" width="56.30000000000001" height="2.00" fill="rgb(0,67,0)"/>
<rect x="251" y="996.40" width="56.30000000000001" height="1.00" fill="rgb(0,84,0)"/>
<rect x="251" y="997.40" width="56.30000000000001" height="1.00" fill="rgb(0,77,0)"/>
<rect x="251" y="998.40" width="56.30000000000001" height="2.00" fill="rgb(0,102,0)"/>
<rect x="251" y="1000.40" width="56.30000000000001" height="0.10" fill="rgb(0,62,0)"/>
<rect x="251" y="1030.50" width="56.30000000000001" height="1.50" fill="rgb(0,135,0)"/>
<rect x="251" y="1032.00" width="56.30000000000001" height="1.00" fill="rgb(0,110,0)"/>
<rect x="251" y="1033.00" width="56.30000000000001" height="1.00" fill="rgb(0,135,0)"/>
<rect x="251" y="1034.00" width="56.30000000000001" height="1.50" fill="rgb(0,135,0)"/>
<rect x="251" y="1035.50" width="56.30000000000001" height="1.00" fill="rgb(0,72,0)"/>
<rect x="251" y="1036.50" width="56.30000000000001" height="2.00" fill="rgb(0,110,0)"/>
<rect x="251" y="1038.50" width="56.30000000000001" height="1.00" fill="rgb(0,110,0)"/>
<rect x="251" y="1039.50" width="56.30000000000001" height="1.00" fill="rgb(0,69,0)"/>
<rect x="251" y="1040.50" width="56.30000000000001" height="1.00" fill="rgb(0,110,0)"/>
<rect x="251" y="1041.50" width="56.30000000000001" height="1.00" fill="rgb(0,94,0)"/>
<rect x="251" y="1042.50" width="56.30000000000001" height="2.00" fill="rgb(0,73,0)"/>
<rect x="251" y="1044.50" width="56.30000000000001" height="1.00" fill="rgb(0,135,0)"/>
<rect x="251" y="1045.50" width="56.30000000000001" height="1.50" fill="rgb(0,74,0)"/>
<rect x="251" y="1047.00" width="56.30000000000001" height="1.50" fill="rgb(0,67,0)"/>
<rect x="251" y="1048.50" width="56.30000000000001" height="1.00" fill="rgb(0,89,0)"/>
<rect x="251" y="1049.50" width="56.30000000000001" height="2.00" fill="rgb(0,88,0)"/>
<rect x="251" y="1051.50" width="56.30000000000001" height="1.00" fill="rgb(0,68,0)"/>
<rect x="251" y="1052.50" width="56.30000000000001" height="2.00" fill="rgb(0,74,0)"/>
<rect x="251" y="1054.50" width="56.30000000000001" height="1.00" fill="rgb(0,87,0)"/>
<rect x="251" y="1055.50" width="56.30000000000001" height="1.00" fill="rgb(0,71,0)"/>
<rect x="251" y="1056.50" width="56.30000000000001" height="2.00" fill="rgb(0,68,0)"/>
<rect x="251" y="1058.50" width="56.30000000000001" height="1.50" fill="rgb(0,69,0)"/>
<rect x="251" y="1060.00" width="56.30000000000001" height="1.00" fill="rgb(0,110,0)"/>
<rect x="251" y="1061.00" width="56.30000000000001" height="1.00" fill="rgb(0,73,0)"/>
<rect x="307.3" y="62.00" width="56.099999999999966" height="2.00" fill="rgb(0,62,0)"/>
<rect x="307.3" y="64.00" width="56.099999999999966" height="1.00" fill="rgb(0,52,0)"/>
<rect x="307.3" y="65.00" width="56.099999999999966" height="2.00" fill="rgb(0,62,0)"/>
<rect x="307.3" y="67.00" width="56.099999999999966" height="1.00" fill="rgb(0,51,0)"/>
<rect x="307.3" y="103.50" width="56.099999999999966" height="2.00" fill="rgb(0,93,0)"/>
<rect x="307.3" y="105.50" width="56.099999999999966" height="1.00" fill="rgb(0,77,0)"/>
<rect x="307.3" y="106.50" width="56.099999999999966" height="1.00" fill="rgb(0,117,0)"/>
<rect x="307.3" y="107.50" width="56.099999999999966" height="1.00" fill="rgb(0,117,0)"/>
<rect x="307.3" y="108.50" width="56.099999999999966" height="1.00" fill="rgb(0,82,0)"/>
<rect x="307.3" y="109.50" width="56.099999999999966" height="1.00" fill="rgb(0,94,0)"/>
<rect x="307.3" y="110.50" width="56.099999999999966" height="1.00" fill="rgb(0,117,0)"/>
<rect x="307.3" y="111.50" width="56.099999999999966" height="1.50" fill="rgb(0,92,0)"/>
<rect x="307.3" y="113.00" width="56.099999999999966" height="1.50" fill="rgb(0,79,0)"/>
<rect x="307.3" y="114.50" width="56.099999999999966" height="1.00" fill="rgb(0,93,0)"/>
<rect x="307.3" y="115.50" width="56.099999999999966" height="2.00" fill="rgb(0,74,0)"/>
<rect x="307.3" y="117.50" width="56.099999999999966" height="1.00" fill="rgb(0,78,0)"/>
<rect x="307.3" y="118.50" width="56.099999999999966" height="2.00" fill="rgb(0,81,0)"/>
<rect x="307.3" y="120.50" width="56.099999999999966" height="1.00" fill="rgb(0,81,0)"/>
<rect x="307.3" y="121.50" width="56.099999999999966" height="1.50" fill="rgb(0,81,0)"/>
<rect x="307.3" y="135.00" width="56.099999999999966" height="1.00" fill="rgb(0,45,0)"/>
<rect x="307.3" y="136.00" width="56.099999999999966" height="1.00" fill="rgb(0,36,0)"/>
<rect x="307.3" y="137.00" width="56.099999999999966" height="1.50" fill="rgb(0,38,0)"/>
<rect x="307.3" y="138.50" width="56.099999999999966" height="1.00" fill="rgb(0,37,0)"/>
<rect x="307.3" y="139.50" width="56.099999999999966" height="1.00" fill="rgb(0,37,0)"/>
<rect x="307.3" y="140.50" width="56.099999999999966" height="1.00" fill="rgb(0,36,0)"/>
<rect x="307.3" y="141.50" width="56.099999999999966" height="1.00" fill="rgb(0,46,0)"/>
<rect x="307.3" y="142.50" width="56.099999999999966" height="0.50" fill="rgb(0,69,0)"/>
<rect x="307.3" y="176.00" width="56.099999999999966" height="2.00" fill="rgb(0,132,0)"/>
<rect x="307.3" y="178.00" width="56.099999999999966" height="1.00" fill="rgb(0,102,0)"/>
<rect x="307.3" y="179.00" width="56.099999999999966" height="2.00" fill="rgb(0,103,0)"/>
<rect x="307.3" y="181.00" width="56.099999999999966" height="1.50" fill="rgb(0,109,0)"/>
<rect x="307.3" y="182.50" width="56.099999999999966" height="1.00" fill="rgb(0,106,0)"/>
<rect x="307.3" y="183.50" width="56.099999999999966" height="1.50" fill="rgb(0,132,0)"/>
<rect x="307.3" y="185.00" width="56.099999999999966" height="1.00" fill="rgb(0,110,0)"/>
<rect x="307.3" y="186.00" width="56.099999999999966" height="1.00" fill="rgb(0,87,0)"/>
<rect x="307.3" y="187.00" width="56.099999999999966" height="1.00" fill="rgb(0,132,0)"/>
<rect x="307.3" y="188.00" width="56.099999999999966" height="1.50" fill="rgb(0,101,0)"/>
<rect x="307.3" y="189.50" width="56.099999999999966" height="1.50" fill="rgb(0,87,0)"/>
<rect x="307.3" y="191.00" width="56.099999999999966" height="1.00" fill="rgb(0,81,0)"/>
<rect x="307.3" y="192.00" width="56.099999999999966" height="1.00" fill="rgb(0,91,0)"/>
<rect x="307.3" y="193.00" width="56.099999999999966" height="2.00" fill="rgb(0,92,0)"/>
<rect x="307.3" y="195.00" width="56.099999999999966" height="1.50" fill="rgb(0,103,0)"/>
<rect x="307.3" y="196.50" width="56.099999999999966" height="1.00" fill="rgb(0,87,0)"/>
<rect x="307.3" y="197.50" width="56.099999999999966" height="1.50" fill="rgb(0,88,0)"/>
<rect x="307.3" y="199.00" width="56.099999999999966" height="1.00" fill="rgb(0,109,0)"/>
<rect x="307.3" y="200.00" width="56.099999999999966" height="1.50" fill="rgb(0,105,0)"/>
<rect x="307.3" y="201.50" width="56.099999999999966" height="2.00" fill="rgb(0,89,0)"/>
<rect x="307.3" y="203.50" width="56.099999999999966" height="1.50" fill="rgb(0,111,0)"/>
<rect x="307.3" y="205.00" width="56.099999999999966" height="1.00" fill="rgb(0,171,0)"/>
<rect x="307.3" y="206.00" width="56.099999999999966" height="1.50" fill="rgb(0,169,0)"/>
<rect x="307.3" y="207.50" width="56.099999999999966" height="1.00" fill="rgb(0,179,0)"/>
<rect x="307.3" y="208.50" width="56.099999999999966" height="1.00" fill="rgb(0,178,0)"/>
<rect x="307.3" y="209.50" width="56.099999999999966" height="1.00" fill="rgb(0,169,0)"/>
<rect x="307.3" y="210.50" width="56.099999999999966" height="1.00" fill="rgb(0,167,0)"/>
<rect x="307.3" y="211.50" width="56.099999999999966" height="0.50" fill="rgb(0,171,0)"/>
<rect x="307.3" y="212.00" width="56.099999999999966" height="1.00" fill="rgb(0,82,0)"/>
<rect x="307.3" y="213.00" width="56.099999999999966" height="2.00" fill="rgb(0,139,0)"/>
<rect x="307.3" y="215.00" width="56.099999999999966" height="1.00" fill="rgb(0,109,0)"/>
<rect x="307.3" y="216.00" width="56.099999999999966" height="1.00" fill="rgb(0,60,0)"/>
<rect x="307.3" y="217.00" width="56.099999999999966" height="1.00" fill="rgb(0,67,0)"/>
<rect x="307.3" y="218.00" width="56.099999999999966" height="1.00" fill="rgb(0,61,0)"/>
<rect x="307.3" y="219.00" width="56.099999999999966" height="1.00" fill="rgb(0,109,0)"/>
<rect x="307.3" y="220.00" width="56.099999999999966" height="1.50" fill="rgb(0,59,0)"/>
<rect x="307.3" y="221.50" width="56.099999999999966" height="2.00" fill="rgb(0,58,0)"/>
<rect x="307.3" y="223.50" width="56.099999999999966" height="2.00" fill="rgb(0,67,0)"/>
<rect x="307.3" y="225.50" width="56.099999999999966" height="1.00" fill="rgb(0,81,0)"/>
<rect x="307.3" y="226.50" width="56.099999999999966" height="1.00" fill="rgb(0,62,0)"/>
<rect x="307.3" y="227.50" width="56.099999999999966" height="1.00" fill="rgb(0,60,0)"/>
<rect x="307.3" y="228.50" width="56.099999999999966" height="1.00" fill="rgb(0,62,0)"/>
<rect x="307.3" y="229.50" width="56.099999999999966" height="2.00" fill="rgb(0,139,0)"/>
<rect x="307.3" y="231.50" width="56.099999999999966" height="1.50" fill="rgb(0,65,0)"/>
<rect x="307.3" y="233.00" width="56.099999999999966" height="1.00" fill="rgb(0,85,0)"/>
<rect x="307.3" y="234.00" width="56.099999999999966" height="1.00" fill="rgb(0,109,0)"/>
<rect x="307.3" y="235.00" width="56.099999999999966" height="1.00" fill="rgb(0,85,0)"/>
<rect x="307.3" y="236.00" width="56.099999999999966" height="1.00" fill="rgb(0,61,0)"/>
<rect x="307.3" y="237.00" width="56.099999999999966" height="1.50" fill="rgb(0,65,0)"/>
<rect x="307.3" y="238.50" width="56.099999999999966" height="1.00" fill="rgb(0,64,0)"/>
<rect x="307.3" y="239.50" width="56.099999999999966" height="1.00" fill="rgb(0,139,0)"/>
<rect x="307.3" y="240.50" width="56.099999999999966" height="1.00" fill="rgb(0,68,0)"/>
<rect x="307.3" y="241.50" width="56.099999999999966" height="1.00" fill="rgb(0,58,0)"/>
<rect x="307.3" y="242.50" width="56.099999999999966" height="1.50" fill="rgb(0,89,0)"/>
<rect x="307.3" y="244.00" width="56.099999999999966" height="1.00" fill="rgb(0,109,0)"/>
<rect x="307.3" y="245.00" width="56.099999999999966" height="1.50" fill="rgb(0,61,0)"/>
<rect x="307.3" y="246.50" width="56.099999999999966" height="1.00" fill="rgb(0,88,0)"/>
<rect x="307.3" y="247.50" width="56.099999999999966" height="2.00" fill="rgb(0,59,0)"/>
<rect x="307.3" y="249.50" width="56.099999999999966" height="1.50" fill="rgb(0,81,0)"/>
<rect x="307.3" y="251.00" width="56.099999999999966" height="1.00" fill="rgb(0,60,0)"/>
<rect x="307.3" y="252.00" width="56.099999999999966" height="1.50" fill="rgb(0,84,0)"/>
<rect x="307.3" y="253.50" width="56.099999999999966" height="1.00" fill="rgb(0,61,0)"/>
<rect x="307.3" y="254.50" width="56.099999999999966" height="1.00" fill="rgb(0,66,0)"/>
<rect x="307.3" y="255.50" width="56.099999999999966" height="1.00" fill="rgb(0,109,0)"/>
<rect x="307.3" y="256.50" width="56.099999999999966" height="1.00" fill="rgb(0,109,0)"/>
<rect x="307.3" y="257.50" width="56.099999999999966" height="1.00" fill="rgb(0,57,0)"/>
<rect x="307.3" y="258.50" width="56.099999999999966" height="2.00" fill="rgb(0,63,0)"/>
<rect x="307.3" y="260.50" width="56.099999999999966" height="1.00" fill="rgb(0,79,0)"/>
<rect x="307.3" y="261.50" width="56.099999999999966" height="1.00" fill="rgb(0,109,0)"/>
<rect x="307.3" y="262.50" width="56.099999999999966" height="1.50" fill="rgb(0,65,0)"/>
<rect x="307.3" y="264.00" width="56.099999999999966" height="2.00" fill="rgb(0,64,0)"/>
<rect x="307.3" y="266.00" width="56.099999999999966" height="2.00" fill="rgb(0,109,0)"/>
<rect x="307.3" y="268.00" width="56.099999999999966" height="2.00" fill="rgb(0,58,0)"/>
<rect x="307.3" y="270.00" width="56.099999999999966" height="1.00" fill="rgb(0,62,0)"/>
<rect x="307.3" y="271.00" width="56.099999999999966" height="1.00" fill="rgb(0,109,0)"/>
<rect x="307.3" y="272.00" width="56.099999999999966" height="1.00" fill="rgb(0,62,0)"/>
<rect x="307.3" y="273.00" width="56.099999999999966" height="1.00" fill="rgb(0,65,0)"/>
<rect x="307.3" y="274.00" width="56.099999999999966" height="1.00" fill="rgb(0,58,0)"/>
<rect x="307.3" y="275.00" width="56.099999999999966" height="1.00" fill="rgb(0,60,0)"/>
<rect x="307.3" y="276.00" width="56.099999999999966" height="1.00" fill="rgb(0,109,0)"/>
<rect x="307.3" y="277.00" width="56.099999999999966" height="1.00" fill="rgb(0,83,0)"/>
<rect x="307.3" y="278.00" width="56.099999999999966" height="2.00" fill="rgb(0,57,0)"/>
<rect x="307.3" y="280.00" width="56.099999999999966" height="2.00" fill="rgb(0,88,0)"/>
<rect x="307.3" y="282.00" width="56.099999999999966" height="1.50" fill="rgb(0,68,0)"/>
<rect x="307.3" y="283.50" width="56.099999999999966" height="1.50" fill="rgb(0,139,0)"/>
<rect x="307.3" y="285.00" width="56.099999999999966" height="1.50" fill="rgb(0,69,0)"/>
<rect x="307.3" y="286.50" width="56.099999999999966" height="1.00" fill="rgb(0,83,0)"/>
<rect x="307.3" y="287.50" width="56.099999999999966" height="1.00" fill="rgb(0,139,0)"/>
<rect x="307.3" y="288.50" width="56.099999999999966" height="1.50" fill="rgb(0,109,0)"/>
<rect x="307.3" y="290.00" width="56.099999999999966" height="1.00" fill="rgb(0,62,0)"/>
<rect x="307.3" y="291.00" width="56.099999999999966" height="1.00" fill="rgb(0,58,0)"/>
<rect x="307.3" y="292.00" width="56.099999999999966" height="1.00" fill="rgb(0,109,0)"/>
<rect x="307.3" y="293.00" width="56.099999999999966" height="1.00" fill="rgb(0,109,0)"/>
<rect x="307.3" y="294.00" width="56.099999999999966" height="1.00" fill="rgb(0,109,0)"/>
<rect x="307.3" y="295.00" width="56.099999999999966" height="2.00" fill="rgb(0,109,0)"/>
<rect x="307.3" y="297.00" width="56.099999999999966" height="1.00" fill="rgb(0,61,0)"/>
<rect x="307.3" y="298.00" width="56.099999999999966" height="1.00" fill="rgb(0,58,0)"/>
<rect x="307.3" y="299.00" width="56.099999999999966" height="2.00" fill="rgb(0,62,0)"/>
<rect x="307.3" y="301.00" width="56.099999999999966" height="1.00" fill="rgb(0,57,0)"/>
<rect x="307.3" y="302.00" width="56.099999999999966" height="1.00" fill="rgb(0,139,0)"/>
<rect x="307.3" y="303.00" width="56.099999999999966" height="1.00" fill="rgb(0,65,0)"/>
<rect x="307.3" y="304.00" width="56.099999999999966" height="2.00" fill="rgb(0,139,0)"/>
<rect x="307.3" y="306.00" width="56.099999999999966" height="1.00" fill="rgb(0,85,0)"/>
<rect x="307.3" y="307.00" width="56.099999999999966" height="1.50" fill="rgb(0,60,0)"/>
<rect x="307.3" y="308.50" width="56.099999999999966" height="2.00" fill="rgb(0,62,0)"/>
<rect x="307.3" y="310.50" width="56.099999999999966" height="1.00" fill="rgb(0,109,0)"/>
<rect x="307.3" y="311.50" width="56.099999999999966" height="1.00" fill="rgb(0,86,0)"/>
<rect x="307.3" y="312.50" width="56.099999999999966" height="1.50" fill="rgb(0,88,0)"/>
<rect x="307.3" y="314.00" width="56.099999999999966" height="1.50" fill="rgb(0,66,0)"/>
<rect x="307.3" y="315.50" width="56.099999999999966" height="2.00" fill="rgb(0,81,0)"/>
<rect x="307.3" y="317.50" width="56.099999999999966" height="2.00" fill="rgb(0,65,0)"/>
<rect x="307.3" y="319.50" width="56.099999999999966" height="2.00" fill="rgb(0,85,0)"/>
<rect x="307.3" y="321.50" width="56.099999999999966" height="1.00" fill="rgb(0,64,0)"/>
<rect x="307.3" y="322.50" width="56.099999999999966" height="1.00" fill="rgb(0,69,0)"/>
<rect x="307.3" y="323.50" width="56.099999999999966" height="1.00" fill="rgb(0,86,0)"/>
<rect x="307.3" y="324.50" width="56.099999999999966" height="2.00" fill="rgb(0,59,0)"/>
<rect x="307.3" y="326.50" width="56.099999999999966" height="1.50" fill="rgb(0,109,0)"/>
<rect x="307.3" y="328.00" width="56.099999999999966" height="1.00" fill="rgb(0,81,0)"/>
<rect x="307.3" y="329.00" width="56.099999999999966" height="1.00" fill="rgb(0,67,0)"/>
<rect x="307.3" y="330.00" width="56.099999999999966" height="1.00" fill="rgb(0,109,0)"/>
<rect x="307.3" y="331.00" width="56.099999999999966" height="1.00" fill="rgb(0,67,0)"/>
<rect x="307.3" y="332.00" width="56.099999999999966" height="2.00" fill="rgb(0,109,0)"/>
<rect x="307.3" y="334.00" width="56.099999999999966" height="2.00" fill="rgb(0,68,0)"/>
<rect x="307.3" y="336.00" width="56.099999999999966" height="1.00" fill="rgb(0,85,0)"/>
<rect x="307.3" y="337.00" width="56.099999999999966" height="1.50" fill="rgb(0,59,0)"/>
<rect x="307.3" y="338.50" width="56.099999999999966" height="1.00" fill="rgb(0,79,0)"/>
<rect x="307.3" y="339.50" width="56.099999999999966" height="1.50" fill="rgb(0,81,0)"/>
<rect x="307.3" y="341.00" width="56.099999999999966" height="1.00" fill="rgb(0,57,0)"/>
<rect x="307.3" y="342.00" width="56.099999999999966" height="1.50" fill="rgb(0,79,0)"/>
<rect x="307.3" y="343.50" width="56.099999999999966" height="1.00" fill="rgb(0,59,0)"/>
<rect x="307.3" y="344.50" width="56.099999999999966" height="2.00" fill="rgb(0,81,0)"/>
<rect x="307.3" y="346.50" width="56.099999999999966" height="2.00" fill="rgb(0,84,0)"/>
<rect x="307.3" y="348.50" width="56.099999999999966" height="1.00" fill="rgb(0,109,0)"/>
<rect x="307.3" y="349.50" width="56.099999999999966" height="1.00" fill="rgb(0,139,0)"/>
<rect x="307.3" y="350.50" width="56.099999999999966" height="0.50" fill="rgb(0,85,0)"/>
<rect x="307.3" y="351.00" width="56.099999999999966" height="1.50" fill="rgb(0,176,0)"/>
<rect x="307.3" y="352.50" width="56.099999999999966" height="1.00" fill="rgb(0,207,0)"/>
<rect x="307.3" y="353.50" width="56.099999999999966" height="1.50" fill="rgb(0,182,0)"/>
<rect x="307.3" y="355.00" width="56.099999999999966" height="1.50" fill="rgb(0,173,0)"/>
<rect x="307.3" y="356.50" width="56.099999999999966" height="2.00" fill="rgb(0,207,0)"/>
<rect x="307.3" y="358.50" width="56.099999999999966" height="0.50" fill="rgb(0,181,0)"/>
<rect x="307.3" y="361.00" width="56.099999999999966" height="1.00" fill="rgb(0,148,0)"/>
<rect x="307.3" y="362.00" width="56.099999999999966" height="2.00" fill="rgb(0,128,0)"/>
<rect x="307.3" y="364.00" width="56.099999999999966" height="1.00" fill="rgb(0,107,0)"/>
<rect x="307.3" y="365.00" width="56.099999999999966" height="1.00" fill="rgb(0,112,0)"/>
<rect x="307.3" y="366.00" width="56.099999999999966" height="2.00" fill="rgb(0,107,0)"/>
<rect x="307.3" y="368.00" width="56.099999999999966" height="1.00" fill="rgb(0,133,0)"/>
<rect x="307.3" y="369.00" width="56.099999999999966" height="1.50" fill="rgb(0,173,0)"/>
<rect x="307.3" y="370.50" width="56.099999999999966" height="1.00" fill="rgb(0,173,0)"/>
<rect x="307.3" y="371.50" width="56.099999999999966" height="1.00" fill="rgb(0,109,0)"/>
<rect x="307.3" y="372.50" width="56.099999999999966" height="1.00" fill="rgb(0,111,0)"/>
<rect x="307.3" y="373.50" width="56.099999999999966" height="1.00" fill="rgb(0,105,0)"/>
<rect x="307.3" y="374.50" width="56.099999999999966" height="1.00" fill="rgb(0,111,0)"/>
<rect x="307.3" y="375.50" width="56.099999999999966" height="2.00" fill="rgb(0,127,0)"/>
<rect x="307.3" y="377.50" width="56.099999999999966" height="1.00" fill="rgb(0,125,0)"/>
<rect x="307.3" y="378.50" width="56.099999999999966" height="1.00" fill="rgb(0,148,0)"/>
<rect x="307.3" y="379.50" width="56.099999999999966" height="1.00" fill="rgb(0,105,0)"/>
<rect x="307.3" y="380.50" width="56.099999999999966" height="2.00" fill="rgb(0,113,0)"/>
<rect x="307.3" y="416" width="56.099999999999966" height="4.00" fill="rgb(0,51,0)"/>
<rect x="307.3" y="420.00" width="56.099999999999966" height="1.00" fill="rgb(114,0,0)"/>
<rect x="307.3" y="421.00" width="56.099999999999966" height="2.00" fill="rgb(70,0,0)"/>
<rect x="307.3" y="423.00" width="56.099999999999966" height="1.50" fill="rgb(144,0,0)"/>
<rect x="307.3" y="424.50" width="56.099999999999966" height="1.00" fill="rgb(83,0,0)"/>
<rect x="307.3" y="425.50" width="56.099999999999966" height="1.00" fill="rgb(65,0,0)"/>
<rect x="307.3" y="426.50" width="56.099999999999966" height="2.00" fill="rgb(91,0,0)"/>
<rect x="307.3" y="428.50" width="56.099999999999966" height="1.50" fill="rgb(86,0,0)"/>
<rect x="307.3" y="430.00" width="56.099999999999966" height="1.00" fill="rgb(88,0,0)"/>
<rect x="307.3" y="431.00" width="56.099999999999966" height="1.00" fill="rgb(114,0,0)"/>
<rect x="307.3" y="432" width="56.099999999999966" height="3.00" fill="rgb(0,51,0)"/>
<rect x="307.3" y="634.80" width="56.099999999999966" height="1.00" fill="rgb(93,0,0)"/>
<rect x="307.3" y="635.80" width="56.099999999999966" height="1.50" fill="rgb(86,0,0)"/>
<rect x="307.3" y="637.30" width="56.099999999999966" height="1.00" fill="rgb(128,0,0)"/>
<rect x="307.3" y="638.30" width="56.099999999999966" height="1.00" fill="rgb(153,0,0)"/>
<rect x="307.3" y="639.30" width="56.099999999999966" height="2.00" fill="rgb(93,0,0)"/>
<rect x="307.3" y="641.30" width="56.099999999999966" height="1.00" fill="rgb(94,0,0)"/>
<rect x="307.3" y="642.30" width="56.099999999999966" height="1.50" fill="rgb(91,0,0)"/>
<rect x="307.3" y="643.80" width="56.099999999999966" height="1.50" fill="rgb(87,0,0)"/>
<rect x="307.3" y="645.30" width="56.099999999999966" height="1.00" fill="rgb(108,0,0)"/>
<rect x="307.3" y="646.30" width="56.099999999999966" height="1.00" fill="rgb(110,0,0)"/>
<rect x="307.3" y="647.30" width="56.099999999999966" height="1.00" fill="rgb(90,0,0)"/>
<rect x="307.3" y="648.30" width="56.099999999999966" height="1.00" fill="rgb(104,0,0)"/>
<rect x="307.3" y="649.30" width="56.099999999999966" height="1.50" fill="rgb(104,0,0)"/>
<rect x="307.3" y="650.80" width="56.099999999999966" height="1.00" fill="rgb(87,0,0)"/>
<rect x="307.3" y="651.80" width="56.099999999999966" height="1.00" fill="rgb(128,0,0)"/>
<rect x="307.3" y="652.80" width="56.099999999999966" height="1.00" fill="rgb(111,0,0)"/>
<rect x="307.3" y="653.80" width="56.099999999999966" height="1.00" fill="rgb(128,0,0)"/>
<rect x="307.3" y="654.80" width="56.099999999999966" height="2.00" fill="rgb(153,0,0)"/>
<rect x="307.3" y="656.80" width="56.099999999999966" height="1.00" fill="rgb(93,0,0)"/>
<rect x="307.3" y="657.80" width="56.099999999999966" height="1.00" fill="rgb(128,0,0)"/>
<rect x="307.3" y="658.80" width="56.099999999999966" height="1.00" fill="rgb(89,0,0)"/>
<rect x="307.3" y="659.80" width="56.099999999999966" height="1.00" fill="rgb(94,0,0)"/>
<rect x="307.3" y="660.80" width="56.099999999999966" height="1.00" fill="rgb(106,0,0)"/>
<rect x="307.3" y="661.80" width="56.099999999999966" height="1.00" fill="rgb(153,0,0)"/>
<rect x="307.3" y="662.80" width="56.099999999999966" height="1.00" fill="rgb(128,0,0)"/>
<rect x="307.3" y="663.80" width="56.099999999999966" height="1.00" fill="rgb(107,0,0)"/>
<rect x="307.3" y="664.80" width="56.099999999999966" height="2.00" fill="rgb(128,0,0)"/>
<rect x="307.3" y="666.80" width="56.099999999999966" height="1.00" fill="rgb(94,0,0)"/>
<rect x="307.3" y="667.80" width="56.099999999999966" height="1.00" fill="rgb(128,0,0)"/>
<rect x="307.3" y="668.80" width="56.099999999999966" height="1.50" fill="rgb(153,0,0)"/>
<rect x="307.3" y="670.30" width="56.099999999999966" height="1.50" fill="rgb(128,0,0)"/>
<rect x="307.3" y="671.80" width="56.099999999999966" height="2.00" fill="rgb(128,0,0)"/>
<rect x="307.3" y="673.80" width="56.099999999999966" height="1.00" fill="rgb(104,0,0)"/>
<rect x="307.3" y="674.80" width="56.099999999999966" height="1.00" fill="rgb(128,0,0)"/>
<rect x="307.3" y="675.80" width="56.099999999999966" height="1.00" fill="rgb(93,0,0)"/>
<rect x="307.3" y="676.80" width="56.099999999999966" height="1.50" fill="rgb(86,0,0)"/>
<rect x="307.3" y="678.30" width="56.099999999999966" height="1.00" fill="rgb(91,0,0)"/>
<rect x="307.3" y="679.30" width="56.099999999999966" height="1.00" fill="rgb(86,0,0)"/>
<rect x="307.3" y="680.30" width="56.099999999999966" height="1.00" fill="rgb(89,0,0)"/>
<rect x="307.3" y="681.30" width="56.099999999999966" height="1.00" fill="rgb(106,0,0)"/>
<rect x="307.3" y="682.30" width="56.099999999999966" height="1.00" fill="rgb(93,0,0)"/>
<rect x="307.3" y="683.30" width="56.099999999999966" height="0.20" fill="rgb(153,0,0)"/>
<rect x="307.3" y="684.00" width="56.099999999999966" height="1.50" fill="rgb(0,51,0)"/>
<rect x="307.3" y="685.50" width="56.099999999999966" height="1.00" fill="rgb(0,62,0)"/>
<rect x="307.3" y="686.50" width="56.099999999999966" height="2.00" fill="rgb(0,50,0)"/>
<rect x="307.3" y="688.50" width="56.099999999999966" height="1.00" fill="rgb(0,51,0)"/>
<rect x="307.3" y="689.50" width="56.099999999999966" height="1.00" fill="rgb(0,57,0)"/>
<rect x="307.3" y="770" width="56.099999999999966" height="2.00" fill="rgb(0,51,0)"/>
<rect x="307.3" y="785.00" width="56.099999999999966" height="2.00" fill="rgb(0,144,0)"/>
<rect x="307.3" y="787.00" width="56.099999999999966" height="1.00" fill="rgb(0,72,0)"/>
<rect x="307.3" y="788.00" width="56.099999999999966" height="1.00" fill="rgb(0,72,0)"/>
<rect x="307.3" y="789.00" width="56.099999999999966" height="2.00" fill="rgb(0,62,0)"/>
<rect x="307.3" y="791.00" width="56.099999999999966" height="1.00" fill="rgb(0,68,0)"/>
<rect x="307.3" y="792.00" width="56.099999999999966" height="2.00" fill="rgb(0,144,0)"/>
<rect x="307.3" y="794.00" width="56.099999999999966" height="2.00" fill="rgb(0,114,0)"/>
<rect x="307.3" y="796.00" width="56.099999999999966" height="1.00" fill="rgb(0,64,0)"/>
<rect x="307.3" y="797.00" width="56.099999999999966" height="1.00" fill="rgb(0,114,0)"/>
<rect x="307.3" y="798.00" width="56.099999999999966" height="1.00" fill="rgb(0,114,0)"/>
<rect x="307.3" y="799.00" width="56.099999999999966" height="1.00" fill="rgb(0,144,0)"/>
<rect x="307.3" y="800.00" width="56.099999999999966" height="1.00" fill="rgb(0,114,0)"/>
<rect x="307.3" y="801.00" width="56.099999999999966" height="2.00" fill="rgb(0,67,0)"/>
<rect x="307.3" y="803.00" width="56.099999999999966" height="1.00" fill="rgb(0,63,0)"/>
<rect x="307.3" y="804.00" width="56.099999999999966" height="1.00" fill="rgb(0,62,0)"/>
<rect x="307.3" y="805.00" width="56.099999999999966" height="1.00" fill="rgb(0,90,0)"/>
<rect x="307.3" y="806.00" width="56.099999999999966" height="1.00" fill="rgb(0,114,0)"/>
<rect x="307.3" y="807.00" width="56.099999999999966" height="1.00" fill="rgb(0,85,0)"/>
<rect x="307.3" y="808.00" width="56.099999999999966" height="2.00" fill="rgb(0,114,0)"/>
<rect x="307.3" y="810.00" width="56.099999999999966" height="1.00" fill="rgb(0,114,0)"/>
<rect x="307.3" y="811.00" width="56.099999999999966" height="2.00" fill="rgb(0,88,0)"/>
<rect x="307.3" y="813.00" width="56.099999999999966" height="1.00" fill="rgb(0,66,0)"/>
<rect x="307.3" y="814.00" width="56.099999999999966" height="1.50" fill="rgb(0,69,0)"/>
<rect x="307.3" y="815.50" width="56.099999999999966" height="1.00" fill="rgb(0,95,0)"/>
<rect x="307.3" y="816.50" width="56.099999999999966" height="1.00" fill="rgb(0,86,0)"/>
<rect x="307.3" y="817.50" width="56.099999999999966" height="1.00" fill="rgb(0,72,0)"/>
<rect x="307.3" y="818.50" width="56.099999999999966" height="2.00" fill="rgb(0,73,0)"/>
<rect x="307.3" y="820.50" width="56.099999999999966" height="1.50" fill="rgb(0,62,0)"/>
<rect x="307.3" y="822.00" width="56.099999999999966" height="2.00" fill="rgb(0,114,0)"/>
<rect x="307.3" y="824.00" width="56.099999999999966" height="1.00" fill="rgb(0,114,0)"/>
<rect x="307.3" y="825.00" width="56.099999999999966" height="1.50" fill="rgb(0,62,0)"/>
<rect x="307.3" y="826.50" width="56.099999999999966" height="1.00" fill="rgb(0,84,0)"/>
<rect x="307.3" y="827.50" width="56.099999999999966" height="1.50" fill="rgb(0,114,0)"/>
<rect x="307.3" y="829.00" width="56.099999999999966" height="1.00" fill="rgb(0,114,0)"/>
<rect x="307.3" y="830.00" width="56.099999999999966" height="1.50" fill="rgb(0,71,0)"/>
<rect x="307.3" y="831.50" width="56.099999999999966" height="1.50" fill="rgb(0,72,0)"/>
<rect x="307.3" y="833.00" width="56.099999999999966" height="1.00" fill="rgb(0,144,0)"/>
<rect x="307.3" y="834.00" width="56.099999999999966" height="2.00" fill="rgb(0,114,0)"/>
<rect x="307.3" y="836.00" width="56.099999999999966" height="2.00" fill="rgb(0,114,0)"/>
<rect x="307.3" y="838.00" width="56.099999999999966" height="2.00" fill="rgb(0,62,0)"/>
<rect x="307.3" y="840.00" width="56.099999999999966" height="1.00" fill="rgb(0,114,0)"/>
<rect x="307.3" y="841.00" width="56.099999999999966" height="2.00" fill="rgb(0,144,0)"/>
<rect x="307.3" y="843.00" width="56.099999999999966" height="1.00" fill="rgb(0,65,0)"/>
<rect x="307.3" y="844.00" width="56.099999999999966" height="1.00" fill="rgb(0,85,0)"/>
<rect x="307.3" y="845.00" width="56.099999999999966" height="1.00" fill="rgb(0,73,0)"/>
<rect x="307.3" y="846.00" width="56.099999999999966" height="2.00" fill="rgb(0,63,0)"/>
<rect x="307.3" y="848.00" width="56.099999999999966" height="2.00" fill="rgb(0,85,0)"/>
<rect x="307.3" y="850.00" width="56.099999999999966" height="1.00" fill="rgb(0,94,0)"/>
<rect x="307.3" y="851.00" width="56.099999999999966" height="1.50" fill="rgb(0,65,0)"/>
<rect x="307.3" y="852.50" width="56.099999999999966" height="1.00" fill="rgb(0,65,0)"/>
<rect x="307.3" y="853.50" width="56.099999999999966" height="1.50" fill="rgb(0,69,0)"/>
<rect x="307.3" y="855.00" width="56.099999999999966" height="1.50" fill="rgb(0,114,0)"/>
<rect x="307.3" y="856.50" width="56.099999999999966" height="1.00" fill="rgb(0,90,0)"/>
<rect x="307.3" y="857.50" width="56.099999999999966" height="2.00" fill="rgb(0,93,0)"/>
<rect x="307.3" y="859.50" width="56.099999999999966" height="0.50" fill="rgb(0,114,0)"/>
<rect x="307.3" y="860.00" width="56.099999999999966" height="1.00" fill="rgb(0,135,0)"/>
<rect x="307.3" y="861.00" width="56.099999999999966" height="2.00" fill="rgb(0,116,0)"/>
<rect x="307.3" y="863.00" width="56.099999999999966" height="1.00" fill="rgb(0,93,0)"/>
<rect x="307.3" y="864.00" width="56.099999999999966" height="1.00" fill="rgb(0,113,0)"/>
<rect x="307.3" y="865.00" width="56.099999999999966" height="1.00" fill="rgb(0,135,0)"/>
<rect x="307.3" y="866.00" width="56.099999999999966" height="1.00" fill="rgb(0,135,0)"/>
<rect x="307.3" y="867.00" width="56.099999999999966" height="1.00" fill="rgb(0,135,0)"/>
<rect x="307.3" y="868.00" width="56.099999999999966" height="1.00" fill="rgb(0,95,0)"/>
<rect x="307.3" y="869.00" width="56.099999999999966" height="1.00" fill="rgb(0,118,0)"/>
<rect x="307.3" y="870.00" width="56.099999999999966" height="1.00" fill="rgb(0,93,0)"/>
<rect x="307.3" y="871.00" width="56.099999999999966" height="1.00" fill="rgb(0,99,0)"/>
<rect x="307.3" y="872.00" width="56.099999999999966" height="1.00" fill="rgb(0,116,0)"/>
<rect x="307.3" y="873.00" width="56.099999999999966" height="1.00" fill="rgb(0,98,0)"/>
<rect x="307.3" y="874.00" width="56.099999999999966" height="1.00" fill="rgb(0,97,0)"/>
<rect x="307.3" y="875.00" width="56.099999999999966" height="1.50" fill="rgb(0,135,0)"/>
<rect x="307.3" y="876.50" width="56.099999999999966" height="1.00" fill="rgb(0,111,0)"/>
<rect x="307.3" y="877.50" width="56.099999999999966" height="1.50" fill="rgb(0,98,0)"/>
<rect x="307.3" y="879.00" width="56.099999999999966" height="1.50" fill="rgb(0,120,0)"/>
<rect x="307.3" y="880.50" width="56.099999999999966" height="1.00" fill="rgb(0,118,0)"/>
<rect x="307.3" y="881.50" width="56.099999999999966" height="1.50" fill="rgb(0,96,0)"/>
<rect x="307.3" y="883.00" width="56.099999999999966" height="1.50" fill="rgb(0,168,0)"/>
<rect x="307.3" y="884.50" width="56.099999999999966" height="1.00" fill="rgb(0,189,0)"/>
<rect x="307.3" y="885.50" width="56.099999999999966" height="1.50" fill="rgb(0,179,0)"/>
<rect x="307.3" y="887.00" width="56.099999999999966" height="1.00" fill="rgb(0,201,0)"/>
<rect x="307.3" y="888.00" width="56.099999999999966" height="1.50" fill="rgb(0,177,0)"/>
<rect x="307.3" y="889.50" width="56.099999999999966" height="2.00" fill="rgb(0,177,0)"/>
<rect x="307.3" y="891.50" width="56.099999999999966" height="1.50" fill="rgb(0,177,0)"/>
<rect x="307.3" y="893.00" width="56.099999999999966" height="1.00" fill="rgb(0,118,0)"/>
<rect x="307.3" y="894.00" width="56.099999999999966" height="1.00" fill="rgb(0,94,0)"/>
<rect x="307.3" y="895.00" width="56.099999999999966" height="1.50" fill="rgb(0,102,0)"/>
<rect x="307.3" y="896.50" width="56.099999999999966" height="1.00" fill="rgb(0,161,0)"/>
<rect x="307.3" y="897.50" width="56.099999999999966" height="2.00" fill="rgb(0,95,0)"/>
<rect x="307.3" y="899.50" width="56.099999999999966" height="2.00" fill="rgb(0,97,0)"/>
<rect x="307.3" y="901.50" width="56.099999999999966" height="1.50" fill="rgb(0,115,0)"/>
<rect x="307.3" y="903.00" width="56.099999999999966" height="1.50" fill="rgb(0,113,0)"/>
<rect x="307.3" y="904.50" width="56.099999999999966" height="2.00" fill="rgb(0,96,0)"/>
<rect x="307.3" y="906.50" width="56.099999999999966" height="1.00" fill="rgb(0,97,0)"/>
<rect x="307.3" y="907.50" width="56.099999999999966" height="1.00" fill="rgb(0,115,0)"/>
<rect x="307.3" y="908.50" width="56.099999999999966" height="1.00" fill="rgb(0,93,0)"/>
<rect x="307.3" y="909.50" width="56.099999999999966" height="1.00" fill="rgb(0,200,0)"/>
<rect x="307.3" y="910.50" width="56.099999999999966" height="1.50" fill="rgb(0,202,0)"/>
<rect x="307.3" y="912.00" width="56.099999999999966" height="2.00" fill="rgb(0,209,0)"/>
<rect x="307.3" y="914.00" width="56.099999999999966" height="0.50" fill="rgb(0,219,0)"/>
<rect x="307.3" y="914.50" width="56.099999999999966" height="1.00" fill="rgb(0,110,0)"/>
<rect x="307.3" y="915.50" width="56.099999999999966" height="1.00" fill="rgb(0,110,0)"/>
<rect x="307.3" y="916.50" width="56.099999999999966" height="1.00" fill="rgb(0,97,0)"/>
<rect x="307.3" y="917.50" width="56.099999999999966" height="2.00" fill="rgb(0,92,0)"/>
<rect x="307.3" y="919.50" width="56.099999999999966" height="1.00" fill="rgb(0,119,0)"/>
<rect x="307.3" y="920.50" width="56.099999999999966" height="1.00" fill="rgb(0,111,0)"/>
<rect x="307.3" y="921.50" width="56.099999999999966" height="1.00" fill="rgb(0,170,0)"/>
<rect x="307.3" y="922.50" width="56.099999999999966" height="2.00" fill="rgb(0,92,0)"/>
<rect x="307.3" y="924.50" width="56.099999999999966" height="1.00" fill="rgb(0,87,0)"/>
<rect x="307.3" y="925.50" width="56.099999999999966" height="1.00" fill="rgb(0,117,0)"/>
<rect x="307.3" y="926.50" width="56.099999999999966" height="1.00" fill="rgb(0,92,0)"/>
<rect x="307.3" y="927.50" width="56.099999999999966" height="1.00" fill="rgb(0,95,0)"/>
<rect x="307.3" y="928.50" width="56.099999999999966" height="1.00" fill="rgb(0,139,0)"/>
<rect x="307.3" y="929.50" width="56.099999999999966" height="2.00" fill="rgb(0,98,0)"/>
<rect x="307.3" y="931.50" width="56.099999999999966" height="2.00" fill="rgb(0,110,0)"/>
<rect x="307.3" y="933.50" width="56.099999999999966" height="1.00" fill="rgb(0,110,0)"/>
<rect x="307.3" y="934.50" width="56.099999999999966" height="1.00" fill="rgb(0,115,0)"/>
<rect x="307.3" y="935.50" width="56.099999999999966" height="1.00" fill="rgb(0,139,0)"/>
<rect x="307.3" y="936.50" width="56.099999999999966" height="1.00" fill="rgb(0,93,0)"/>
<rect x="307.3" y="937.50" width="56.099999999999966" height="1.50" fill="rgb(0,97,0)"/>
<rect x="307.3" y="939.00" width="56.099999999999966" height="1.00" fill="rgb(0,96,0)"/>
<rect x="307.3" y="940.00" width="56.099999999999966" height="2.00" fill="rgb(0,117,0)"/>
<rect x="307.3" y="942.00" width="56.099999999999966" height="1.00" fill="rgb(0,139,0)"/>
<rect x="307.3" y="943.00" width="56.099999999999966" height="1.00" fill="rgb(0,139,0)"/>
<rect x="307.3" y="944.00" width="56.099999999999966" height="1.00" fill="rgb(0,99,0)"/>
<rect x="307.3" y="945.00" width="56.099999999999966" height="1.00" fill="rgb(0,114,0)"/>
<rect x="307.3" y="946.00" width="56.099999999999966" height="1.50" fill="rgb(0,170,0)"/>
<rect x="307.3" y="947.50" width="56.099999999999966" height="1.00" fill="rgb(0,94,0)"/>
<rect x="307.3" y="948.50" width="56.099999999999966" height="1.00" fill="rgb(0,116,0)"/>
<rect x="307.3" y="949.50" width="56.099999999999966" height="1.00" fill="rgb(0,139,0)"/>
<rect x="307.3" y="950.50" width="56.099999999999966" height="1.00" fill="rgb(0,98,0)"/>
<rect x="307.3" y="951.50" width="56.099999999999966" height="1.00" fill="rgb(0,170,0)"/>
<rect x="307.3" y="952.50" width="56.099999999999966" height="1.50" fill="rgb(0,116,0)"/>
<rect x="307.3" y="954.00" width="56.099999999999966" height="1.00" fill="rgb(0,88,0)"/>
<rect x="307.3" y="955.00" width="56.099999999999966" height="1.50" fill="rgb(0,85,0)"/>
<rect x="307.3" y="956.50" width="56.099999999999966" height="1.50" fill="rgb(0,106,0)"/>
<rect x="307.3" y="958.00" width="56.099999999999966" height="1.50" fill="rgb(0,148,0)"/>
<rect x="307.3" y="959.50" width="56.099999999999966" height="1.00" fill="rgb(0,148,0)"/>
<rect x="307.3" y="960.50" width="56.099999999999966" height="1.00" fill="rgb(0,99,0)"/>
<rect x="307.3" y="961.50" width="56.099999999999966" height="1.00" fill="rgb(0,101,0)"/>
<rect x="307.3" y="962.50" width="56.099999999999966" height="1.00" fill="rgb(0,101,0)"/>
<rect x="307.3" y="963.50" width="56.099999999999966" height="1.50" fill="rgb(0,89,0)"/>
<rect x="307.3" y="965.00" width="56.099999999999966" height="1.50" fill="rgb(0,83,0)"/>
<rect x="307.3" y="966.50" width="56.099999999999966" height="1.00" fill="rgb(0,102,0)"/>
<rect x="307.3" y="967.50" width="56.099999999999966" height="1.00" fill="rgb(0,122,0)"/>
<rect x="307.3" y="968.50" width="56.099999999999966" height="1.00" fill="rgb(0,122,0)"/>
<rect x="307.3" y="969.50" width="56.099999999999966" height="0.50" fill="rgb(0,98,0)"/>
<rect x="307.3" y="970.00" width="56.099999999999966" height="1.00" fill="rgb(0,87,0)"/>
<rect x="307.3" y="971.00" width="56.099999999999966" height="1.00" fill="rgb(0,65,0)"/>
<rect x="307.3" y="972.00" width="56.099999999999966" height="2.00" fill="rgb(0,65,0)"/>
<rect x="307.3" y="974.00" width="56.099999999999966" height="1.00" fill="rgb(0,74,0)"/>
<rect x="307.3" y="975.00" width="56.099999999999966" height="1.00" fill="rgb(0,74,0)"/>
<rect x="307.3" y="976.00" width="56.099999999999966" height="1.50" fill="rgb(0,66,0)"/>
<rect x="307.3" y="977.50" width="56.099999999999966" height="1.00" fill="rgb(0,74,0)"/>
<rect x="307.3" y="978.50" width="56.099999999999966" height="1.50" fill="rgb(0,62,0)"/>
<rect x="307.3" y="980.00" width="56.099999999999966" height="1.50" fill="rgb(0,89,0)"/>
<rect x="307.3" y="981.50" width="56.099999999999966" height="1.00" fill="rgb(0,84,0)"/>
<rect x="307.3" y="982.50" width="56.099999999999966" height="1.00" fill="rgb(0,101,0)"/>
<rect x="307.3" y="983.50" width="56.099999999999966" height="2.00" fill="rgb(0,122,0)"/>
<rect x="307.3" y="985.50" width="56.099999999999966" height="1.00" fill="rgb(0,80,0)"/>
<rect x="307.3" y="986.50" width="56.099999999999966" height="1.00" fill="rgb(0,87,0)"/>
<rect x="307.3" y="987.50" width="56.099999999999966" height="1.00" fill="rgb(0,85,0)"/>
<rect x="307.3" y="988.50" width="56.099999999999966" height="1.00" fill="rgb(0,148,0)"/>
<rect x="307.3" y="989.50" width="56.099999999999966" height="1.00" fill="rgb(0,87,0)"/>
<rect x="307.3" y="990.50" width="56.099999999999966" height="1.00" fill="rgb(0,104,0)"/>
<rect x="307.3" y="991.50" width="56.099999999999966" height="1.00" fill="rgb(0,148,0)"/>
<rect x="307.3" y="992.50" width="56.099999999999966" height="1.00" fill="rgb(0,87,0)"/>
<rect x="307.3" y="993.50" width="56.099999999999966" height="1.00" fill="rgb(0,148,0)"/>
<rect x="307.3" y="994.50" width="56.099999999999966" height="1.00" fill="rgb(0,148,0)"/>
<rect x="307.3" y="995.50" width="56.099999999999966" height="1.00" fill="rgb(0,122,0)"/>
<rect x="307.3" y="996.50" width="56.099999999999966" height="1.50" fill="rgb(0,122,0)"/>
<rect x="307.3" y="998.00" width="56.099999999999966" height="1.50" fill="rgb(0,84,0)"/>
<rect x="307.3" y="999.50" width="56.099999999999966" height="1.00" fill="rgb(0,81,0)"/>
<rect x="307.3" y="1030.50" width="56.099999999999966" height="1.00" fill="rgb(0,121,0)"/>
<rect x="307.3" y="1031.50" width="56.099999999999966" height="1.00" fill="rgb(0,113,0)"/>
<rect x="307.3" y="1032.50" width="56.099999999999966" height="1.50" fill="rgb(0,165,0)"/>
<rect x="307.3" y="1034.00" width="56.099999999999966" height="1.50" fill="rgb(0,142,0)"/>
<rect x="307.3" y="1035.50" width="56.099999999999966" height="1.00" fill="rgb(0,165,0)"/>
<rect x="307.3" y="1036.50" width="56.099999999999966" height="1.00" fill="rgb(0,122,0)"/>
<rect x="307.3" y="1037.50" width="56.099999999999966" height="1.00" fill="rgb(0,142,0)"/>
<rect x="307.3" y="1038.50" width="56.099999999999966" height="1.50" fill="rgb(0,165,0)"/>
<rect x="307.3" y="1040.00" width="56.099999999999966" height="1.00" fill="rgb(0,165,0)"/>
<rect x="307.3" y="1041.00" width="56.099999999999966" height="1.00" fill="rgb(0,120,0)"/>
<rect x="307.3" y="1042.00" width="56.099999999999966" height="1.00" fill="rgb(0,115,0)"/>
<rect x="307.3" y="1043.00" width="56.099999999999966" height="1.50" fill="rgb(0,116,0)"/>
<rect x="307.3" y="1044.50" width="56.099999999999966" height="1.50" fill="rgb(0,120,0)"/>
<rect x="307.3" y="1046.00" width="56.099999999999966" height="1.00" fill="rgb(0,165,0)"/>
<rect x="307.3" y="1047.00" width="56.099999999999966" height="1.00" fill="rgb(0,123,0)"/>
<rect x="307.3" y="1048.00" width="56.099999999999966" height="2.00" fill="rgb(0,113,0)"/>
<rect x="307.3" y="1050.00" width="56.099999999999966" height="1.00" fill="rgb(0,113,0)"/>
<rect x="307.3" y="1051.00" width="56.099999999999966" height="1.00" fill="rgb(0,165,0)"/>
<rect x="307.3" y="1052.00" width="56.099999999999966" height="1.00" fill="rgb(0,114,0)"/>
<rect x="307.3" y="1053.00" width="56.099999999999966" height="1.50" fill="rgb(0,120,0)"/>
<rect x="307.3" y="1054.50" width="56.099999999999966" height="1.00" fill="rgb(0,165,0)"/>
<rect x="307.3" y="1055.50" width="56.099999999999966" height="1.00" fill="rgb(0,146,0)"/>
<rect x="307.3" y="1056.50" width="56.099999999999966" height="1.50" fill="rgb(0,121,0)"/>
<rect x="307.3" y="1058.00" width="56.099999999999966" height="1.50" fill="rgb(0,142,0)"/>
<rect x="307.3" y="1059.50" width="56.099999999999966" height="1.00" fill="rgb(0,140,0)"/>
<rect x="307.3" y="1060.50" width="56.099999999999966" height="1.00" fill="rgb(0,136,0)"/>
<rect x="307.3" y="1061.50" width="56.099999999999966" height="0.50" fill="rgb(0,165,0)"/>
<rect x="363.4" y="62.00" width="57.60000000000002" height="2.00" fill="rgb(0,62,0)"/>
<rect x="363.4" y="64.00" width="57.60000000000002" height="1.00" fill="rgb(0,55,0)"/>
<rect x="363.4" y="65.00" width="57.60000000000002" height="1.00" fill="rgb(0,62,0)"/>
<rect x="363.4" y="66.00" width="57.60000000000002" height="1.00" fill="rgb(0,55,0)"/>
<rect x="363.4" y="67.00" width="57.60000000000002" height="1.00" fill="rgb(0,62,0)"/>
<rect x="363.4" y="103.50" width="57.60000000000002" height="1.50" fill="rgb(0,71,0)"/>
<rect x="363.4" y="105.00" width="57.60000000000002" height="1.00" fill="rgb(0,138,0)"/>
<rect x="363.4" y="106.00" width="57.60000000000002" height="1.50" fill="rgb(0,112,0)"/>
<rect x="363.4" y="107.50" width="57.60000000000002" height="1.00" fill="rgb(0,70,0)"/>
<rect x="363.4" y="108.50" width="57.60000000000002" height="1.00" fill="rgb(0,71,0)"/>
<rect x="363.4" y="109.50" width="57.60000000000002" height="1.00" fill="rgb(0,94,0)"/>
<rect x="363.4" y="110.50" width="57.60000000000002" height="1.00" fill="rgb(0,70,0)"/>
<rect x="363.4" y="111.50" width="57.60000000000002" height="1.50" fill="rgb(0,73,0)"/>
<rect x="363.4" y="113.00" width="57.60000000000002" height="1.00" fill="rgb(0,112,0)"/>
<rect x="363.4" y="114.00" width="57.60000000000002" height="1.00" fill="rgb(0,138,0)"/>
<rect x="363.4" y="115.00" width="57.60000000000002" height="1.50" fill="rgb(0,112,0)"/>
<rect x="363.4" y="116.50" width="57.60000000000002" height="1.00" fill="rgb(0,72,0)"/>
<rect x="363.4" y="117.50" width="57.60000000000002" height="1.00" fill="rgb(0,73,0)"/>
<rect x="363.4" y="118.50" width="57.60000000000002" height="1.00" fill="rgb(0,112,0)"/>
<rect x="363.4" y="119.50" width="57.60000000000002" height="1.50" fill="rgb(0,90,0)"/>
<rect x="363.4" y="121.00" width="57.60000000000002" height="1.00" fill="rgb(0,69,0)"/>
<rect x="363.4" y="122.00" width="57.60000000000002" height="1.50" fill="rgb(0,77,0)"/>
<rect x="363.4" y="123.50" width="57.60000000000002" height="1.00" fill="rgb(0,72,0)"/>
<rect x="363.4" y="124.50" width="57.60000000000002" height="2.00" fill="rgb(0,112,0)"/>
<rect x="363.4" y="126.50" width="57.60000000000002" height="1.50" fill="rgb(0,74,0)"/>
<rect x="363.4" y="128.00" width="57.60000000000002" height="2.00" fill="rgb(0,90,0)"/>
<rect x="363.4" y="130.00" width="57.60000000000002" height="1.00" fill="rgb(0,75,0)"/>
<rect x="363.4" y="131.00" width="57.60000000000002" height="1.00" fill="rgb(0,70,0)"/>
<rect x="363.4" y="132.00" width="57.60000000000002" height="1.00" fill="rgb(0,138,0)"/>
<rect x="363.4" y="133.00" width="57.60000000000002" height="1.50" fill="rgb(0,72,0)"/>
<rect x="363.4" y="134.50" width="57.60000000000002" height="0.50" fill="rgb(0,74,0)"/>
<rect x="363.4" y="135.00" width="57.60000000000002" height="1.00" fill="rgb(0,66,0)"/>
<rect x="363.4" y="136.00" width="57.60000000000002" height="1.00" fill="rgb(0,46,0)"/>
<rect x="363.4" y="137.00" width="57.60000000000002" height="1.00" fill="rgb(0,46,0)"/>
<rect x="363.4" y="138.00" width="57.60000000000002" height="1.00" fill="rgb(0,56,0)"/>
<rect x="363.4" y="139.00" width="57.60000000000002" height="1.00" fill="rgb(0,46,0)"/>
<rect x="363.4" y="140.00" width="57.60000000000002" height="1.00" fill="rgb(0,79,0)"/>
<rect x="363.4" y="141.00" width="57.60000000000002" height="2.00" fill="rgb(0,49,0)"/>
<rect x="363.4" y="176.00" width="57.60000000000002" height="1.50" fill="rgb(0,89,0)"/>
<rect x="363.4" y="177.50" width="57.60000000000002" height="1.50" fill="rgb(0,104,0)"/>
<rect x="363.4" y="179.00" width="57.60000000000002" height="1.00" fill="rgb(0,85,0)"/>
<rect x="363.4" y="180.00" width="57.60000000000002" height="1.00" fill="rgb(0,81,0)"/>
<rect x="363.4" y="181.00" width="57.60000000000002" height="1.50" fill="rgb(0,83,0)"/>
<rect x="363.4" y="182.50" width="57.60000000000002" height="1.00" fill="rgb(0,84,0)"/>
<rect x="363.4" y="183.50" width="57.60000000000002" height="1.00" fill="rgb(0,79,0)"/>
<rect x="363.4" y="184.50" width="57.60000000000002" height="2.00" fill="rgb(0,87,0)"/>
<rect x="363.4" y="186.50" width="57.60000000000002" height="1.50" fill="rgb(0,122,0)"/>
<rect x="363.4" y="188.00" width="57.60000000000002" height="1.00" fill="rgb(0,84,0)"/>
<rect x="363.4" y="189.00" width="57.60000000000002" height="1.50" fill="rgb(0,80,0)"/>
<rect x="363.4" y="190.50" width="57.60000000000002" height="1.00" fill="rgb(0,87,0)"/>
<rect x="363.4" y="191.50" width="57.60000000000002" height="1.00" fill="rgb(0,97,0)"/>
<rect x="363.4" y="192.50" width="57.60000000000002" height="2.00" fill="rgb(0,85,0)"/>
<rect x="363.4" y="194.50" width="57.60000000000002" height="0.50" fill="rgb(0,148,0)"/>
<rect x="363.4" y="195.00" width="57.60000000000002" height="1.00" fill="rgb(0,50,0)"/>
<rect x="363.4" y="196.00" width="57.60000000000002" height="2.00" fill="rgb(0,40,0)"/>
<rect x="363.4" y="198.00" width="57.60000000000002" height="1.50" fill="rgb(0,38,0)"/>
<rect x="363.4" y="199.50" width="57.60000000000002" height="1.00" fill="rgb(0,35,0)"/>
<rect x="363.4" y="200.50" width="57.60000000000002" height="1.00" fill="rgb(0,36,0)"/>
<rect x="363.4" y="201.50" width="57.60000000000002" height="1.00" fill="rgb(0,52,0)"/>
<rect x="363.4" y="202.50" width="57.60000000000002" height="1.00" fill="rgb(0,37,0)"/>
<rect x="363.4" y="203.50" width="57.60000000000002" height="1.00" fill="rgb(0,34,0)"/>
<rect x="363.4" y="204.50" width="57.60000000000002" height="1.50" fill="rgb(0,34,0)"/>
<rect x="363.4" y="206.00" width="57.60000000000002" height="2.00" fill="rgb(0,52,0)"/>
<rect x="363.4" y="208.00" width="57.60000000000002" height="1.50" fill="rgb(0,49,0)"/>
<rect x="363.4" y="209.50" width="57.60000000000002" height="1.50" fill="rgb(0,48,0)"/>
<rect x="363.4" y="211.00" width="57.60000000000002" height="1.00" fill="rgb(0,34,0)"/>
<rect x="363.4" y="212.00" width="57.60000000000002" height="1.00" fill="rgb(0,67,0)"/>
<rect x="363.4" y="351.00" width="57.60000000000002" height="1.00" fill="rgb(0,53,0)"/>
<rect x="363.4" y="352.00" width="57.60000000000002" height="1.00" fill="rgb(0,53,0)"/>
<rect x="363.4" y="353.00" width="57.60000000000002" height="1.50" fill="rgb(0,74,0)"/>
<rect x="363.4" y="354.50" width="57.60000000000002" height="2.00" fill="rgb(0,56,0)"/>
<rect x="363.4" y="356.50" width="57.60000000000002" height="2.00" fill="rgb(0,57,0)"/>
<rect x="363.4" y="358.50" width="57.60000000000002" height="0.50" fill="rgb(0,53,0)"/>
<rect x="363.4" y="359" width="57.60000000000002" height="2.00" fill="rgb(128,0,0)"/>
<rect x="363.4" y="383.00" width="57.60000000000002" height="2.00" fill="rgb(104,0,0)"/>
<rect x="363.4" y="385.00" width="57.60000000000002" height="1.00" fill="rgb(107,0,0)"/>
<rect x="363.4" y="386.00" width="57.60000000000002" height="2.00" fill="rgb(140,0,0)"/>
<rect x="363.4" y="388.00" width="57.60000000000002" height="1.50" fill="rgb(125,0,0)"/>
<rect x="363.4" y="389.50" width="57.60000000000002" height="1.00" fill="rgb(105,0,0)"/>
<rect x="363.4" y="390.50" width="57.60000000000002" height="1.00" fill="rgb(121,0,0)"/>
<rect x="363.4" y="391.50" width="57.60000000000002" height="1.50" fill="rgb(140,0,0)"/>
<rect x="363.4" y="393.00" width="57.60000000000002" height="1.00" fill="rgb(166,0,0)"/>
<rect x="363.4" y="394.00" width="57.60000000000002" height="2.00" fill="rgb(102,0,0)"/>
<rect x="363.4" y="396.00" width="57.60000000000002" height="1.00" fill="rgb(101,0,0)"/>
<rect x="363.4" y="397.00" width="57.60000000000002" height="1.00" fill="rgb(106,0,0)"/>
<rect x="363.4" y="398.00" width="57.60000000000002" height="2.00" fill="rgb(140,0,0)"/>
<rect x="363.4" y="400.00" width="57.60000000000002" height="1.00" fill="rgb(140,0,0)"/>
<rect x="363.4" y="401.00" width="57.60000000000002" height="1.00" fill="rgb(104,0,0)"/>
<rect x="363.4" y="402.00" width="57.60000000000002" height="1.00" fill="rgb(98,0,0)"/>
<rect x="363.4" y="403.00" width="57.60000000000002" height="1.00" fill="rgb(120,0,0)"/>
<rect x="363.4" y="404.00" width="57.60000000000002" height="1.00" fill="rgb(97,0,0)"/>
<rect x="363.4" y="405.00" width="57.60000000000002" height="2.00" fill="rgb(118,0,0)"/>
<rect x="363.4" y="407.00" width="57.60000000000002" height="1.00" fill="rgb(98,0,0)"/>
<rect x="363.4" y="408.00" width="57.60000000000002" height="1.00" fill="rgb(140,0,0)"/>
<rect x="363.4" y="409.00" width="57.60000000000002" height="1.00" fill="rgb(97,0,0)"/>
<rect x="363.4" y="410.00" width="57.60000000000002" height="2.00" fill="rgb(123,0,0)"/>
<rect x="363.4" y="412.00" width="57.60000000000002" height="1.50" fill="rgb(140,0,0)"/>
<rect x="363.4" y="413.50" width="57.60000000000002" height="1.00" fill="rgb(140,0,0)"/>
<rect x="363.4" y="414.50" width="57.60000000000002" height="1.50" fill="rgb(106,0,0)"/>
<rect x="363.4" y="416" width="57.60000000000002" height="4.00" fill="rgb(0,56,0)"/>
<rect x="363.4" y="420.00" width="57.60000000000002" height="1.50" fill="rgb(94,0,0)"/>
<rect x="363.4" y="421.50" width="57.60000000000002" height="1.00" fill="rgb(117,0,0)"/>
<rect x="363.4" y="422.50" width="57.60000000000002" height="1.00" fill="rgb(87,0,0)"/>
<rect x="363.4" y="423.50" width="57.60000000000002" height="1.00" fill="rgb(93,0,0)"/>
<rect x="363.4" y="424.50" width="57.60000000000002" height="1.50" fill="rgb(97,0,0)"/>
<rect x="363.4" y="426.00" width="57.60000000000002" height="1.00" fill="rgb(170,0,0)"/>
<rect x="363.4" y="427.00" width="57.60000000000002" height="2.00" fill="rgb(96,0,0)"/>
<rect x="363.4" y="429.00" width="57.60000000000002" height="1.50" fill="rgb(99,0,0)"/>
<rect x="363.4" y="430.50" width="57.60000000000002" height="1.50" fill="rgb(119,0,0)"/>
<rect x="363.4" y="432" width="57.60000000000002" height="3.00" fill="rgb(0,51,0)"/>
<rect x="363.4" y="603.00" width="57.60000000000002" height="2.00" fill="rgb(0,100,0)"/>
<rect x="363.4" y="605.00" width="57.60000000000002" height="2.00" fill="rgb(0,126,0)"/>
<rect x="363.4" y="607.00" width="57.60000000000002" height="1.00" fill="rgb(0,75,0)"/>
<rect x="363.4" y="608.00" width="57.60000000000002" height="1.00" fill="rgb(0,83,0)"/>
<rect x="363.4" y="609.00" width="57.60000000000002" height="1.00" fill="rgb(0,79,0)"/>
<rect x="363.4" y="610.00" width="57.60000000000002" height="1.00" fill="rgb(0,100,0)"/>
<rect x="363.4" y="611.00" width="57.60000000000002" height="1.50" fill="rgb(0,96,0)"/>
<rect x="363.4" y="612.50" width="57.60000000000002" height="1.50" fill="rgb(0,82,0)"/>
<rect x="363.4" y="614.00" width="57.60000000000002" height="1.00" fill="rgb(0,76,0)"/>
<rect x="363.4" y="615.00" width="57.60000000000002" height="1.50" fill="rgb(0,126,0)"/>
<rect x="363.4" y="616.50" width="57.60000000000002" height="2.00" fill="rgb(0,79,0)"/>
<rect x="363.4" y="618.50" width="57.60000000000002" height="2.00" fill="rgb(0,108,0)"/>
<rect x="363.4" y="620.50" width="57.60000000000002" height="1.00" fill="rgb(0,86,0)"/>
<rect x="363.4" y="621.50" width="57.60000000000002" height="1.00" fill="rgb(0,84,0)"/>
<rect x="363.4" y="622.50" width="57.60000000000002" height="2.00" fill="rgb(0,79,0)"/>
<rect x="363.4" y="624.50" width="57.60000000000002" height="1.00" fill="rgb(0,77,0)"/>
<rect x="363.4" y="625.50" width="57.60000000000002" height="1.00" fill="rgb(0,78,0)"/>
<rect x="363.4" y="626.50" width="57.60000000000002" height="1.00" fill="rgb(0,81,0)"/>
<rect x="363.4" y="627.50" width="57.60000000000002" height="1.00" fill="rgb(0,103,0)"/>
<rect x="363.4" y="628.50" width="57.60000000000002" height="1.50" fill="rgb(0,104,0)"/>
<rect x="363.4" y="630.00" width="57.60000000000002" height="1.00" fill="rgb(0,84,0)"/>
<rect x="363.4" y="631.00" width="57.60000000000002" height="2.00" fill="rgb(0,99,0)"/>
<rect x="363.4" y="633.00" width="57.60000000000002" height="1.00" fill="rgb(0,76,0)"/>
<rect x="363.4" y="634.00" width="57.60000000000002" height="0.50" fill="rgb(0,157,0)"/>
<rect x="363.4" y="684.00" width="57.60000000000002" height="1.50" fill="rgb(0,165,0)"/>
<rect x="363.4" y="685.50" width="57.60000000000002" height="1.00" fill="rgb(0,157,0)"/>
<rect x="363.4" y="686.50" width="57.60000000000002" height="1.00" fill="rgb(0,165,0)"/>
<rect x="363.4" y="687.50" width="57.60000000000002" height="2.00" fill="rgb(0,159,0)"/>
<rect x="363.4" y="689.50" width="57.60000000000002" height="1.00" fill="rgb(0,189,0)"/>
<rect x="363.4" y="690.50" width="57.60000000000002" height="1.00" fill="rgb(0,50,0)"/>
<rect x="363.4" y="691.50" width="57.60000000000002" height="1.00" fill="rgb(0,75,0)"/>
<rect x="363.4" y="692.50" width="57.60000000000002" height="1.50" fill="rgb(0,80,0)"/>
<rect x="363.4" y="694.00" width="57.60000000000002" height="1.50" fill="rgb(0,60,0)"/>
<rect x="363.4" y="695.50" width="57.60000000000002" height="1.50" fill="rgb(0,73,0)"/>
<rect x="363.4" y="697.00" width="57.60000000000002" height="1.00" fill="rgb(0,80,0)"/>
<rect x="363.4" y="698.00" width="57.60000000000002" height="1.00" fill="rgb(0,101,0)"/>
<rect x="363.4" y="699.00" width="57.60000000000002" height="1.00" fill="rgb(0,101,0)"/>
<rect x="363.4" y="700.00" width="57.60000000000002" height="1.50" fill="rgb(0,81,0)"/>
<rect x="363.4" y="701.50" width="57.60000000000002" height="1.00" fill="rgb(0,57,0)"/>
<rect x="363.4" y="702.50" width="57.60000000000002" height="1.00" fill="rgb(0,101,0)"/>
<rect x="363.4" y="703.50" width="57.60000000000002" height="1.00" fill="rgb(0,56,0)"/>
<rect x="363.4" y="704.50" width="57.60000000000002" height="1.00" fill="rgb(0,132,0)"/>
<rect x="363.4" y="705.50" width="57.60000000000002" height="2.00" fill="rgb(0,72,0)"/>
<rect x="363.4" y="707.50" width="57.60000000000002" height="1.00" fill="rgb(0,101,0)"/>
<rect x="363.4" y="708.50" width="57.60000000000002" height="1.00" fill="rgb(0,60,0)"/>
<rect x="363.4" y="709.50" width="57.60000000000002" height="1.00" fill="rgb(0,81,0)"/>
<rect x="363.4" y="710.50" width="57.60000000000002" height="1.00" fill="rgb(0,54,0)"/>
<rect x="363.4" y="711.50" width="57.60000000000002" height="1.00" fill="rgb(0,101,0)"/>
<rect x="363.4" y="712.50" width="57.60000000000002" height="1.50" fill="rgb(0,50,0)"/>
<rect x="363.4" y="714.00" width="57.60000000000002" height="2.00" fill="rgb(0,76,0)"/>
<rect x="363.4" y="716.00" width="57.60000000000002" height="2.00" fill="rgb(0,82,0)"/>
<rect x="363.4" y="718.00" width="57.60000000000002" height="1.00" fill="rgb(0,132,0)"/>
<rect x="363.4" y="719.00" width="57.60000000000002" height="1.00" fill="rgb(0,61,0)"/>
<rect x="363.4" y="720.00" width="57.60000000000002" height="1.00" fill="rgb(0,79,0)"/>
<rect x="363.4" y="721.00" width="57.60000000000002" height="1.00" fill="rgb(0,101,0)"/>
<rect x="363.4" y="722.00" width="57.60000000000002" height="1.00" fill="rgb(0,101,0)"/>
<rect x="363.4" y="723.00" width="57.60000000000002" height="1.00" fill="rgb(0,81,0)"/>
<rect x="363.4" y="724.00" width="57.60000000000002" height="1.00" fill="rgb(0,54,0)"/>
<rect x="363.4" y="725.00" width="57.60000000000002" height="2.00" fill="rgb(0,60,0)"/>
<rect x="363.4" y="727.00" width="57.60000000000002" height="1.00" fill="rgb(0,56,0)"/>
<rect x="363.4" y="728.00" width="57.60000000000002" height="1.00" fill="rgb(0,101,0)"/>
<rect x="363.4" y="729.00" width="57.60000000000002" height="2.00" fill="rgb(0,101,0)"/>
<rect x="363.4" y="731.00" width="57.60000000000002" height="1.50" fill="rgb(0,58,0)"/>
<rect x="363.4" y="732.50" width="57.60000000000002" height="1.00" fill="rgb(0,56,0)"/>
<rect x="363.4" y="733.50" width="57.60000000000002" height="1.50" fill="rgb(0,53,0)"/>
<rect x="363.4" y="735.00" width="57.60000000000002" height="2.00" fill="rgb(0,51,0)"/>
<rect x="363.4" y="737.00" width="57.60000000000002" height="1.00" fill="rgb(0,50,0)"/>
<rect x="363.4" y="738.00" width="57.60000000000002" height="1.00" fill="rgb(0,101,0)"/>
<rect x="363.4" y="739.00" width="57.60000000000002" height="1.00" fill="rgb(0,82,0)"/>
<rect x="363.4" y="740.00" width="57.60000000000002" height="1.00" fill="rgb(0,50,0)"/>
<rect x="363.4" y="741.00" width="57.60000000000002" height="2.00" fill="rgb(0,77,0)"/>
<rect x="363.4" y="743.00" width="57.60000000000002" height="1.00" fill="rgb(0,101,0)"/>
<rect x="363.4" y="744.00" width="57.60000000000002" height="2.00" fill="rgb(0,72,0)"/>
<rect x="363.4" y="746.00" width="57.60000000000002" height="1.00" fill="rgb(0,59,0)"/>
<rect x="363.4" y="747.00" width="57.60000000000002" height="1.00" fill="rgb(0,75,0)"/>
<rect x="363.4" y="748.00" width="57.60000000000002" height="1.00" fill="rgb(0,81,0)"/>
<rect x="363.4" y="749.00" width="57.60000000000002" height="1.00" fill="rgb(0,53,0)"/>
<rect x="363.4" y="750.00" width="57.60000000000002" height="1.50" fill="rgb(0,74,0)"/>
<rect x="363.4" y="751.50" width="57.60000000000002" height="1.00" fill="rgb(0,101,0)"/>
<rect x="363.4" y="752.50" width="57.60000000000002" height="1.00" fill="rgb(0,132,0)"/>
<rect x="363.4" y="753.50" width="57.60000000000002" height="1.50" fill="rgb(0,53,0)"/>
<rect x="363.4" y="755.00" width="57.60000000000002" height="1.00" fill="rgb(0,54,0)"/>
<rect x="363.4" y="756.00" width="57.60000000000002" height="1.50" fill="rgb(0,57,0)"/>
<rect x="363.4" y="757.50" width="57.60000000000002" height="1.00" fill="rgb(0,132,0)"/>
<rect x="363.4" y="758.50" width="57.60000000000002" height="1.00" fill="rgb(0,101,0)"/>
<rect x="363.4" y="759.50" width="57.60000000000002" height="1.50" fill="rgb(0,101,0)"/>
<rect x="363.4" y="761.00" width="57.60000000000002" height="1.00" fill="rgb(0,101,0)"/>
<rect x="363.4" y="762.00" width="57.60000000000002" height="1.50" fill="rgb(0,53,0)"/>
<rect x="363.4" y="763.50" width="57.60000000000002" height="1.50" fill="rgb(0,101,0)"/>
<rect x="363.4" y="765.00" width="57.60000000000002" height="2.00" fill="rgb(0,55,0)"/>
<rect x="363.4" y="767.00" width="57.60000000000002" height="1.00" fill="rgb(0,51,0)"/>
<rect x="363.4" y="768.00" width="57.60000000000002" height="1.00" fill="rgb(0,182,0)"/>
<rect x="363.4" y="769.00" width="57.60000000000002" height="1.00" fill="rgb(0,202,0)"/>
<rect x="363.4" y="770.00" width="57.60000000000002" height="1.00" fill="rgb(0,182,0)"/>
<rect x="363.4" y="771.00" width="57.60000000000002" height="2.00" fill="rgb(0,151,0)"/>
<rect x="363.4" y="773.00" width="57.60000000000002" height="2.00" fill="rgb(0,202,0)"/>
<rect x="363.4" y="775.00" width="57.60000000000002" height="1.00" fill="rgb(0,153,0)"/>
<rect x="363.4" y="776.00" width="57.60000000000002" height="1.00" fill="rgb(0,154,0)"/>
<rect x="363.4" y="777.00" width="57.60000000000002" height="1.00" fill="rgb(0,163,0)"/>
<rect x="363.4" y="778.00" width="57.60000000000002" height="1.00" fill="rgb(0,154,0)"/>
<rect x="363.4" y="779.00" width="57.60000000000002" height="1.00" fill="rgb(0,147,0)"/>
<rect x="363.4" y="780.00" width="57.60000000000002" height="1.00" fill="rgb(0,182,0)"/>
<rect x="363.4" y="781.00" width="57.60000000000002" height="1.00" fill="rgb(0,202,0)"/>
<rect x="363.4" y="782.00" width="57.60000000000002" height="1.00" fill="rgb(0,165,0)"/>
<rect x="363.4" y="783.00" width="57.60000000000002" height="1.50" fill="rgb(0,169,0)"/>
<rect x="363.4" y="784.50" width="57.60000000000002" height="0.50" fill="rgb(0,155,0)"/>
<rect x="363.4" y="785.00" width="57.60000000000002" height="1.00" fill="rgb(0,64,0)"/>
<rect x="363.4" y="786.00" width="57.60000000000002" height="1.00" fill="rgb(0,144,0)"/>
<rect x="363.4" y="787.00" width="57.60000000000002" height="2.00" fill="rgb(0,69,0)"/>
<rect x="363.4" y="789.00" width="57.60000000000002" height="1.00" fill="rgb(0,62,0)"/>
<rect x="363.4" y="790.00" width="57.60000000000002" height="1.00" fill="rgb(0,144,0)"/>
<rect x="363.4" y="791.00" width="57.60000000000002" height="1.00" fill="rgb(0,114,0)"/>
<rect x="363.4" y="792.00" width="57.60000000000002" height="1.50" fill="rgb(0,68,0)"/>
<rect x="363.4" y="793.50" width="57.60000000000002" height="1.00" fill="rgb(0,114,0)"/>
<rect x="363.4" y="794.50" width="57.60000000000002" height="2.00" fill="rgb(0,114,0)"/>
<rect x="363.4" y="796.50" width="57.60000000000002" height="2.00" fill="rgb(0,85,0)"/>
<rect x="363.4" y="798.50" width="57.60000000000002" height="1.00" fill="rgb(0,73,0)"/>
<rect x="363.4" y="799.50" width="57.60000000000002" height="1.00" fill="rgb(0,86,0)"/>
<rect x="363.4" y="800.50" width="57.60000000000002" height="1.00" fill="rgb(0,65,0)"/>
<rect x="363.4" y="801.50" width="57.60000000000002" height="1.00" fill="rgb(0,144,0)"/>
<rect x="363.4" y="802.50" width="57.60000000000002" height="1.00" fill="rgb(0,144,0)"/>
<rect x="363.4" y="803.50" width="57.60000000000002" height="1.00" fill="rgb(0,114,0)"/>
<rect x="363.4" y="804.50" width="57.60000000000002" height="1.00" fill="rgb(0,90,0)"/>
<rect x="363.4" y="805.50" width="57.60000000000002" height="1.00" fill="rgb(0,114,0)"/>
<rect x="363.4" y="806.50" width="57.60000000000002" height="1.00" fill="rgb(0,70,0)"/>
<rect x="363.4" y="807.50" width="57.60000000000002" height="2.00" fill="rgb(0,114,0)"/>
<rect x="363.4" y="809.50" width="57.60000000000002" height="1.00" fill="rgb(0,74,0)"/>
<rect x="363.4" y="810.50" width="57.60000000000002" height="1.00" fill="rgb(0,87,0)"/>
<rect x="363.4" y="811.50" width="57.60000000000002" height="1.50" fill="rgb(0,85,0)"/>
<rect x="363.4" y="813.00" width="57.60000000000002" height="1.50" fill="rgb(0,72,0)"/>
<rect x="363.4" y="814.50" width="57.60000000000002" height="1.00" fill="rgb(0,114,0)"/>
<rect x="363.4" y="815.50" width="57.60000000000002" height="2.00" fill="rgb(0,65,0)"/>
<rect x="363.4" y="817.50" width="57.60000000000002" height="2.00" fill="rgb(0,74,0)"/>
<rect x="363.4" y="819.50" width="57.60000000000002" height="1.00" fill="rgb(0,63,0)"/>
<rect x="363.4" y="820.50" width="57.60000000000002" height="2.00" fill="rgb(0,73,0)"/>
<rect x="363.4" y="822.50" width="57.60000000000002" height="1.00" fill="rgb(0,90,0)"/>
<rect x="363.4" y="823.50" width="57.60000000000002" height="1.50" fill="rgb(0,87,0)"/>
<rect x="363.4" y="825.00" width="57.60000000000002" height="2.00" fill="rgb(0,144,0)"/>
<rect x="363.4" y="827.00" width="57.60000000000002" height="1.50" fill="rgb(0,90,0)"/>
<rect x="363.4" y="828.50" width="57.60000000000002" height="1.50" fill="rgb(0,114,0)"/>
<rect x="363.4" y="830.00" width="57.60000000000002" height="1.50" fill="rgb(0,84,0)"/>
<rect x="363.4" y="831.50" width="57.60000000000002" height="2.00" fill="rgb(0,114,0)"/>
<rect x="363.4" y="833.50" width="57.60000000000002" height="1.00" fill="rgb(0,144,0)"/>
<rect x="363.4" y="834.50" width="57.60000000000002" height="2.00" fill="rgb(0,73,0)"/>
<rect x="363.4" y="836.50" width="57.60000000000002" height="1.00" fill="rgb(0,114,0)"/>
<rect x="363.4" y="837.50" width="57.60000000000002" height="1.50" fill="rgb(0,66,0)"/>
<rect x="363.4" y="839.00" width="57.60000000000002" height="2.00" fill="rgb(0,86,0)"/>
<rect x="363.4" y="841.00" width="57.60000000000002" height="1.00" fill="rgb(0,144,0)"/>
<rect x="363.4" y="842.00" width="57.60000000000002" height="2.00" fill="rgb(0,86,0)"/>
<rect x="363.4" y="844.00" width="57.60000000000002" height="1.00" fill="rgb(0,65,0)"/>
<rect x="363.4" y="845.00" width="57.60000000000002" height="1.00" fill="rgb(0,114,0)"/>
<rect x="363.4" y="846.00" width="57.60000000000002" height="1.50" fill="rgb(0,114,0)"/>
<rect x="363.4" y="847.50" width="57.60000000000002" height="1.00" fill="rgb(0,88,0)"/>
<rect x="363.4" y="848.50" width="57.60000000000002" height="1.50" fill="rgb(0,114,0)"/>
<rect x="363.4" y="850.00" width="57.60000000000002" height="1.00" fill="rgb(0,66,0)"/>
<rect x="363.4" y="851.00" width="57.60000000000002" height="1.00" fill="rgb(0,93,0)"/>
<rect x="363.4" y="852.00" width="57.60000000000002" height="2.00" fill="rgb(0,91,0)"/>
<rect x="363.4" y="854.00" width="57.60000000000002" height="1.00" fill="rgb(0,95,0)"/>
<rect x="363.4" y="855.00" width="57.60000000000002" height="1.00" fill="rgb(0,89,0)"/>
<rect x="363.4" y="856.00" width="57.60000000000002" height="1.00" fill="rgb(0,64,0)"/>
<rect x="363.4" y="857.00" width="57.60000000000002" height="1.00" fill="rgb(0,90,0)"/>
<rect x="363.4" y="858.00" width="57.60000000000002" height="1.00" fill="rgb(0,68,0)"/>
<rect x="363.4" y="859.00" width="57.60000000000002" height="1.50" fill="rgb(0,114,0)"/>
<rect x="363.4" y="860.50" width="57.60000000000002" height="2.00" fill="rgb(0,114,0)"/>
<rect x="363.4" y="862.50" width="57.60000000000002" height="2.00" fill="rgb(0,114,0)"/>
<rect x="363.4" y="864.50" width="57.60000000000002" height="2.00" fill="rgb(0,114,0)"/>
<rect x="363.4" y="866.50" width="57.60000000000002" height="2.00" fill="rgb(0,114,0)"/>
<rect x="363.4" y="868.50" width="57.60000000000002" height="1.00" fill="rgb(0,114,0)"/>
<rect x="363.4" y="869.50" width="57.60000000000002" height="1.00" fill="rgb(0,63,0)"/>
<rect x="363.4" y="870.50" width="57.60000000000002" height="1.50" fill="rgb(0,64,0)"/>
<rect x="363.4" y="872.00" width="57.60000000000002" height="1.50" fill="rgb(0,65,0)"/>
<rect x="363.4" y="873.50" width="57.60000000000002" height="1.00" fill="rgb(0,70,0)"/>
<rect x="363.4" y="874.50" width="57.60000000000002" height="1.50" fill="rgb(0,92,0)"/>
<rect x="363.4" y="876.00" width="57.60000000000002" height="1.00" fill="rgb(0,67,0)"/>
<rect x="363.4" y="877.00" width="57.60000000000002" height="2.00" fill="rgb(0,66,0)"/>
<rect x="363.4" y="879.00" width="57.60000000000002" height="1.50" fill="rgb(0,63,0)"/>
<rect x="363.4" y="880.50" width="57.60000000000002" height="2.00" fill="rgb(0,114,0)"/>
<rect x="363.4" y="882.50" width="57.60000000000002" height="0.50" fill="rgb(0,91,0)"/>
<rect x="363.4" y="883.00" width="57.60000000000002" height="1.00" fill="rgb(0,167,0)"/>
<rect x="363.4" y="884.00" width="57.60000000000002" height="1.50" fill="rgb(0,179,0)"/>
<rect x="363.4" y="885.50" width="57.60000000000002" height="1.50" fill="rgb(0,170,0)"/>
<rect x="363.4" y="887.00" width="57.60000000000002" height="1.00" fill="rgb(0,189,0)"/>
<rect x="363.4" y="888.00" width="57.60000000000002" height="2.00" fill="rgb(0,178,0)"/>
<rect x="363.4" y="890.00" width="57.60000000000002" height="1.50" fill="rgb(0,178,0)"/>
<rect x="363.4" y="891.50" width="57.60000000000002" height="1.00" fill="rgb(0,178,0)"/>
<rect x="363.4" y="892.50" width="57.60000000000002" height="2.00" fill="rgb(0,167,0)"/>
<rect x="363.4" y="894.50" width="57.60000000000002" height="0.50" fill="rgb(0,169,0)"/>
<rect x="363.4" y="895.00" width="57.60000000000002" height="1.00" fill="rgb(0,57,0)"/>
<rect x="363.4" y="896.00" width="57.60000000000002" height="1.00" fill="rgb(0,61,0)"/>
<rect x="363.4" y="897.00" width="57.60000000000002" height="1.00" fill="rgb(0,122,0)"/>
<rect x="363.4" y="898.00" width="57.60000000000002" height="1.00" fill="rgb(0,54,0)"/>
<rect x="363.4" y="899.00" width="57.60000000000002" height="1.50" fill="rgb(0,122,0)"/>
<rect x="363.4" y="900.50" width="57.60000000000002" height="1.00" fill="rgb(0,54,0)"/>
<rect x="363.4" y="901.50" width="57.60000000000002" height="1.00" fill="rgb(0,58,0)"/>
<rect x="363.4" y="902.50" width="57.60000000000002" height="1.00" fill="rgb(0,61,0)"/>
<rect x="363.4" y="903.50" width="57.60000000000002" height="2.00" fill="rgb(0,97,0)"/>
<rect x="363.4" y="905.50" width="57.60000000000002" height="1.50" fill="rgb(0,62,0)"/>
<rect x="363.4" y="907.00" width="57.60000000000002" height="1.00" fill="rgb(0,73,0)"/>
<rect x="363.4" y="908.00" width="57.60000000000002" height="1.00" fill="rgb(0,97,0)"/>
<rect x="363.4" y="909.00" width="57.60000000000002" height="2.00" fill="rgb(0,97,0)"/>
<rect x="363.4" y="911.00" width="57.60000000000002" height="1.00" fill="rgb(0,122,0)"/>
<rect x="363.4" y="912.00" width="57.60000000000002" height="1.50" fill="rgb(0,97,0)"/>
<rect x="363.4" y="913.50" width="57.60000000000002" height="1.00" fill="rgb(0,59,0)"/>
<rect x="363.4" y="914.50" width="57.60000000000002" height="1.50" fill="rgb(0,57,0)"/>
<rect x="363.4" y="916.00" width="57.60000000000002" height="1.00" fill="rgb(0,62,0)"/>
<rect x="363.4" y="917.00" width="57.60000000000002" height="2.00" fill="rgb(0,97,0)"/>
<rect x="363.4" y="919.00" width="57.60000000000002" height="1.00" fill="rgb(0,97,0)"/>
<rect x="363.4" y="920.00" width="57.60000000000002" height="1.00" fill="rgb(0,75,0)"/>
<rect x="363.4" y="921.00" width="57.60000000000002" height="1.50" fill="rgb(0,61,0)"/>
<rect x="363.4" y="922.50" width="57.60000000000002" height="1.00" fill="rgb(0,80,0)"/>
<rect x="363.4" y="923.50" width="57.60000000000002" height="1.00" fill="rgb(0,79,0)"/>
<rect x="363.4" y="924.50" width="57.60000000000002" height="1.00" fill="rgb(0,54,0)"/>
<rect x="363.4" y="925.50" width="57.60000000000002" height="1.00" fill="rgb(0,77,0)"/>
<rect x="363.4" y="926.50" width="57.60000000000002" height="1.00" fill="rgb(0,122,0)"/>
<rect x="363.4" y="927.50" width="57.60000000000002" height="1.00" fill="rgb(0,57,0)"/>
<rect x="363.4" y="928.50" width="57.60000000000002" height="1.00" fill="rgb(0,60,0)"/>
<rect x="363.4" y="929.50" width="57.60000000000002" height="1.50" fill="rgb(0,79,0)"/>
<rect x="363.4" y="931.00" width="57.60000000000002" height="1.00" fill="rgb(0,54,0)"/>
<rect x="363.4" y="932.00" width="57.60000000000002" height="1.50" fill="rgb(0,55,0)"/>
<rect x="363.4" y="933.50" width="57.60000000000002" height="1.00" fill="rgb(0,54,0)"/>
<rect x="363.4" y="934.50" width="57.60000000000002" height="2.00" fill="rgb(0,72,0)"/>
<rect x="363.4" y="936.50" width="57.60000000000002" height="2.00" fill="rgb(0,55,0)"/>
<rect x="363.4" y="938.50" width="57.60000000000002" height="1.00" fill="rgb(0,60,0)"/>
<rect x="363.4" y="939.50" width="57.60000000000002" height="1.00" fill="rgb(0,59,0)"/>
<rect x="363.4" y="940.50" width="57.60000000000002" height="1.00" fill="rgb(0,97,0)"/>
<rect x="363.4" y="941.50" width="57.60000000000002" height="1.00" fill="rgb(0,76,0)"/>
<rect x="363.4" y="942.50" width="57.60000000000002" height="1.00" fill="rgb(0,63,0)"/>
<rect x="363.4" y="943.50" width="57.60000000000002" height="1.50" fill="rgb(0,97,0)"/>
<rect x="363.4" y="945.00" width="57.60000000000002" height="1.00" fill="rgb(0,58,0)"/>
<rect x="363.4" y="946.00" width="57.60000000000002" height="1.50" fill="rgb(0,97,0)"/>
<rect x="363.4" y="947.50" width="57.60000000000002" height="1.00" fill="rgb(0,55,0)"/>
<rect x="363.4" y="948.50" width="57.60000000000002" height="1.00" fill="rgb(0,57,0)"/>
<rect x="363.4" y="949.50" width="57.60000000000002" height="1.00" fill="rgb(0,62,0)"/>
<rect x="363.4" y="950.50" width="57.60000000000002" height="2.00" fill="rgb(0,57,0)"/>
<rect x="363.4" y="952.50" width="57.60000000000002" height="1.00" fill="rgb(0,80,0)"/>
<rect x="363.4" y="953.50" width="57.60000000000002" height="1.00" fill="rgb(0,60,0)"/>
<rect x="363.4" y="954.50" width="57.60000000000002" height="0.50" fill="rgb(0,72,0)"/>
<rect x="363.4" y="955.00" width="57.60000000000002" height="1.50" fill="rgb(0,122,0)"/>
<rect x="363.4" y="956.50" width="57.60000000000002" height="1.00" fill="rgb(0,122,0)"/>
<rect x="363.4" y="957.50" width="57.60000000000002" height="2.00" fill="rgb(0,81,0)"/>
<rect x="363.4" y="959.50" width="57.60000000000002" height="1.00" fill="rgb(0,83,0)"/>
<rect x="363.4" y="960.50" width="57.60000000000002" height="1.50" fill="rgb(0,122,0)"/>
<rect x="363.4" y="962.00" width="57.60000000000002" height="1.00" fill="rgb(0,122,0)"/>
<rect x="363.4" y="963.00" width="57.60000000000002" height="1.00" fill="rgb(0,89,0)"/>
<rect x="363.4" y="964.00" width="57.60000000000002" height="2.00" fill="rgb(0,148,0)"/>
<rect x="363.4" y="966.00" width="57.60000000000002" height="1.50" fill="rgb(0,105,0)"/>
<rect x="363.4" y="967.50" width="57.60000000000002" height="1.50" fill="rgb(0,88,0)"/>
<rect x="363.4" y="969.00" width="57.60000000000002" height="1.00" fill="rgb(0,106,0)"/>
<rect x="363.4" y="970.00" width="57.60000000000002" height="2.00" fill="rgb(0,87,0)"/>
<rect x="363.4" y="972.00" width="57.60000000000002" height="1.00" fill="rgb(0,122,0)"/>
<rect x="363.4" y="973.00" width="57.60000000000002" height="1.00" fill="rgb(0,87,0)"/>
<rect x="363.4" y="974.00" width="57.60000000000002" height="1.00" fill="rgb(0,82,0)"/>
<rect x="363.4" y="975.00" width="57.60000000000002" height="2.00" fill="rgb(0,89,0)"/>
<rect x="363.4" y="977.00" width="57.60000000000002" height="1.00" fill="rgb(0,122,0)"/>
<rect x="363.4" y="978.00" width="57.60000000000002" height="1.00" fill="rgb(0,80,0)"/>
<rect x="363.4" y="979.00" width="57.60000000000002" height="1.00" fill="rgb(0,102,0)"/>
<rect x="363.4" y="980.00" width="57.60000000000002" height="1.00" fill="rgb(0,81,0)"/>
<rect x="363.4" y="981.00" width="57.60000000000002" height="1.00" fill="rgb(0,86,0)"/>
<rect x="363.4" y="982.00" width="57.60000000000002" height="1.50" fill="rgb(0,148,0)"/>
<rect x="363.4" y="983.50" width="57.60000000000002" height="2.00" fill="rgb(0,122,0)"/>
<rect x="363.4" y="985.50" width="57.60000000000002" height="1.00" fill="rgb(0,84,0)"/>
<rect x="363.4" y="986.50" width="57.60000000000002" height="1.00" fill="rgb(0,148,0)"/>
<rect x="363.4" y="987.50" width="57.60000000000002" height="2.00" fill="rgb(0,148,0)"/>
<rect x="363.4" y="989.50" width="57.60000000000002" height="1.00" fill="rgb(0,105,0)"/>
<rect x="363.4" y="990.50" width="57.60000000000002" height="1.00" fill="rgb(0,104,0)"/>
<rect x="363.4" y="991.50" width="57.60000000000002" height="1.00" fill="rgb(0,104,0)"/>
<rect x="363.4" y="992.50" width="57.60000000000002" height="1.00" fill="rgb(0,105,0)"/>
<rect x="363.4" y="993.50" width="57.60000000000002" height="1.50" fill="rgb(0,100,0)"/>
<rect x="363.4" y="995.00" width="57.60000000000002" height="1.00" fill="rgb(0,80,0)"/>
<rect x="363.4" y="996.00" width="57.60000000000002" height="1.50" fill="rgb(0,122,0)"/>
<rect x="363.4" y="997.50" width="57.60000000000002" height="2.00" fill="rgb(0,122,0)"/>
<rect x="363.4" y="999.50" width="57.60000000000002" height="1.00" fill="rgb(0,122,0)"/>
<rect x="363.4" y="1030.50" width="57.60000000000002" height="2.00" fill="rgb(0,102,0)"/>
<rect x="363.4" y="1032.50" width="57.60000000000002" height="1.00" fill="rgb(0,82,0)"/>
<rect x="363.4" y="1033.50" width="57.60000000000002" height="2.00" fill="rgb(0,122,0)"/>
<rect x="363.4" y="1035.50" width="57.60000000000002" height="1.00" fill="rgb(0,86,0)"/>
<rect x="363.4" y="1036.50" width="57.60000000000002" height="2.00" fill="rgb(0,106,0)"/>
<rect x="363.4" y="1038.50" width="57.60000000000002" height="1.00" fill="rgb(0,122,0)"/>
<rect x="363.4" y="1039.50" width="57.60000000000002" height="1.00" fill="rgb(0,105,0)"/>
<rect x="363.4" y="1040.50" width="57.60000000000002" height="2.00" fill="rgb(0,122,0)"/>
<rect x="363.4" y="1042.50" width="57.60000000000002" height="1.00" fill="rgb(0,148,0)"/>
<rect x="363.4" y="1043.50" width="57.60000000000002" height="1.00" fill="rgb(0,122,0)"/>
<rect x="363.4" y="1044.50" width="57.60000000000002" height="1.00" fill="rgb(0,83,0)"/>
<rect x="363.4" y="1045.50" width="57.60000000000002" height="2.00" fill="rgb(0,100,0)"/>
<rect x="363.4" y="1047.50" width="57.60000000000002" height="1.00" fill="rgb(0,148,0)"/>
<rect x="363.4" y="1048.50" width="57.60000000000002" height="2.00" fill="rgb(0,122,0)"/>
<rect x="363.4" y="1050.50" width="57.60000000000002" height="1.00" fill="rgb(0,87,0)"/>
<rect x="363.4" y="1051.50" width="57.60000000000002" height="1.00" fill="rgb(0,80,0)"/>
<rect x="363.4" y="1052.50" width="57.60000000000002" height="1.00" fill="rgb(0,79,0)"/>
<rect x="363.4" y="1053.50" width="57.60000000000002" height="2.00" fill="rgb(0,81,0)"/>
<rect x="363.4" y="1055.50" width="57.60000000000002" height="1.00" fill="rgb(0,105,0)"/>
<rect x="363.4" y="1056.50" width="57.60000000000002" height="1.50" fill="rgb(0,81,0)"/>
<rect x="363.4" y="1058.00" width="57.60000000000002" height="1.00" fill="rgb(0,83,0)"/>
<rect x="363.4" y="1059.00" width="57.60000000000002" height="1.50" fill="rgb(0,148,0)"/>
<rect x="363.4" y="1060.50" width="57.60000000000002" height="1.00" fill="rgb(0,122,0)"/>
<rect x="363.4" y="1061.50" width="57.60000000000002" height="0.50" fill="rgb(0,81,0)"/>
<rect x="193" y="375" width="58" height="1" fill="rgb(0,76,0)"/>
<rect x="193" y="380" width="58" height="1" fill="rgb(0,76,0)"/>
<rect x="193" y="605" width="58" height="1" fill="rgb(0,51,0)"/>
<rect x="193" y="612" width="58" height="1" fill="rgb(0,51,0)"/>
<rect x="193" y="621" width="58" height="1" fill="rgb(76,0,0)"/>
<rect x="193" y="625.5" width="58" height="1.2" fill="rgb(0,153,0)"/>
<rect x="193" y="629.5" width="58" height="1.2" fill="rgb(0,153,0)"/>
<rect x="193" y="788" width="58" height="1" fill="rgb(0,51,0)"/>
<rect x="193" y="818" width="58" height="1" fill="rgb(0,46,0)"/>
<rect x="193" y="835.5" width="58" height="1" fill="rgb(0,38,0)"/>
<rect x="193" y="870.5" width="58" height="1" fill="rgb(0,51,0)"/>
<rect x="193" y="890.5" width="58" height="1" fill="rgb(0,56,0)"/>
<rect x="193" y="906.5" width="58" height="1" fill="rgb(0,51,0)"/>
<rect x="193" y="910" width="58" height="1" fill="rgb(0,51,0)"/>
<rect x="193" y="918" width="58" height="1" fill="rgb(0,56,0)"/>
<rect x="193" y="920" width="58" height="1" fill="rgb(0,51,0)"/>
<rect x="193" y="925" width="58" height="1" fill="rgb(0,51,0)"/>
<rect x="193" y="930" width="58" height="1" fill="rgb(0,51,0)"/>
<rect x="193" y="934" width="58" height="1.6" fill="rgb(0,82,0)"/>
<rect x="193" y="946.4" width="58" height="1" fill="rgb(0,51,0)"/>
<rect x="193" y="950.4" width="58" height="1" fill="rgb(0,51,0)"/>
<rect x="193" y="968.6" width="58" height="1" fill="rgb(0,46,0)"/>
<rect x="193" y="974.6" width="58" height="1" fill="rgb(0,46,0)"/>
<rect x="193" y="981.7" width="58" height="1" fill="rgb(0,51,0)"/>
<rect x="193" y="987.7" width="58" height="1" fill="rgb(0,46,0)"/>
<rect x="193" y="993.8" width="58" height="1" fill="rgb(0,46,0)"/>
<rect x="193" y="996.8" width="58" height="1" fill="rgb(0,46,0)"/>
<rect x="193" y="1040" width="58" height="1" fill="rgb(0,38,0)"/>
<rect x="193" y="1055" width="58" height="1" fill="rgb(0,46,0)"/>
<rect x="193" y="1058" width="58" height="1" fill="rgb(0,46,0)"/>
<rect x="193" y="130" width="58" height="1" fill="rgb(76,0,0)"/>
<rect x="251" y="130" width="56.30000000000001" height="1" fill="rgb(89,0,0)"/>
<rect x="251" y="202" width="56.30000000000001" height="1" fill="rgb(89,0,0)"/>
<rect x="251" y="787" width="56.30000000000001" height="1" fill="rgb(0,51,0)"/>
<rect x="251" y="818.3" width="56.30000000000001" height="1" fill="rgb(0,46,0)"/>
<rect x="251" y="835.5" width="56.30000000000001" height="1" fill="rgb(0,38,0)"/>
<rect x="251" y="869.8" width="56.30000000000001" height="1" fill="rgb(0,46,0)"/>
<rect x="251" y="945.4" width="56.30000000000001" height="1" fill="rgb(0,51,0)"/>
<rect x="251" y="948.4" width="56.30000000000001" height="1" fill="rgb(0,51,0)"/>
<rect x="251" y="811" width="56.30000000000001" height="1.5" fill="rgb(0,76,0)"/>
<rect x="307.3" y="130" width="56.099999999999966" height="1" fill="rgb(89,0,0)"/>
<rect x="307.3" y="603.2" width="56.099999999999966" height="1" fill="rgb(0,38,0)"/>
<rect x="307.3" y="611" width="56.099999999999966" height="1" fill="rgb(0,38,0)"/>
<rect x="307.3" y="620" width="56.099999999999966" height="1" fill="rgb(89,0,0)"/>
<rect x="307.3" y="624.3" width="56.099999999999966" height="1" fill="rgb(102,0,0)"/>
<rect x="307.3" y="627" width="56.099999999999966" height="1" fill="rgb(76,0,0)"/>
<rect x="307.3" y="630.4" width="56.099999999999966" height="1" fill="rgb(89,0,0)"/>
<rect x="307.3" y="656.5" width="56.099999999999966" height="1.5" fill="rgb(217,0,0)"/>
<rect x="307.3" y="639" width="56.099999999999966" height="1" fill="rgb(191,0,0)"/>
<rect x="307.3" y="645" width="56.099999999999966" height="1" fill="rgb(178,0,0)"/>
<rect x="307.3" y="670" width="56.099999999999966" height="1" fill="rgb(191,0,0)"/>
<rect x="307.3" y="677" width="56.099999999999966" height="1" fill="rgb(178,0,0)"/>
<rect x="307.3" y="682" width="56.099999999999966" height="1" fill="rgb(191,0,0)"/>
<rect x="363.4" y="140" width="57.60000000000002" height="1" fill="rgb(102,0,0)"/>
<rect x="363.4" y="375" width="57.60000000000002" height="1" fill="rgb(0,51,0)"/>
<rect x="363.4" y="381" width="57.60000000000002" height="1" fill="rgb(0,51,0)"/>
<rect x="162" y="62" width="28" height="119" fill="#FF0099"/>
<text x="0" y="0" transform="translate(178.6 133.0) scale(0.69 1)" text-anchor="middle" font-family="'Liberation Serif', serif" font-weight="bold" font-size="36" fill="#000">1</text>
<rect x="162" y="181" width="28" height="181" fill="#77FF00"/>
<text x="0" y="0" transform="translate(178.6 283.7) scale(0.69 1)" text-anchor="middle" font-family="'Liberation Serif', serif" font-weight="bold" font-size="36" fill="#000">2</text>
<rect x="162" y="362" width="28" height="74" fill="#0080FF"/>
<text x="0" y="0" transform="translate(178.6 407.2) scale(0.69 1)" text-anchor="middle" font-family="'Liberation Serif', serif" font-weight="bold" font-size="36" fill="#000">3</text>
<rect x="162" y="436" width="28" height="254" fill="#00FF80"/>
<text x="0" y="0" transform="translate(178.6 571.3) scale(0.69 1)" text-anchor="middle" font-family="'Liberation Serif', serif" font-weight="bold" font-size="36" fill="#000">4</text>
<rect x="162" y="690" width="28" height="98" fill="#7F00FF"/>
<text x="0" y="0" transform="translate(178.6 750.0) scale(0.69 1)" text-anchor="middle" font-family="'Liberation Serif', serif" font-weight="bold" font-size="36" fill="#000">5</text>
<rect x="162" y="788" width="28" height="276.5" fill="#FF9900"/>
<text x="0" y="0" transform="translate(178.6 914.0) scale(0.69 1)" text-anchor="middle" font-family="'Liberation Serif', serif" font-weight="bold" font-size="36" fill="#000">6</text>
<path d="M24.5 198.5V958.5 M30.5 141.5V255.5 M56.5 124.5V160.5 M92.5 112.5V135.5 M123.5 104.5V121.5 M140.5 119.5V124.5 M150.5 118.5V120.5 M153.5 119.5V121.5 M151.5 122.5V126.5 M153.5 125.5V126.5 M139.5 94.5V112.5 M152.5 111.5V113.5 M150.5 78.5V110.5 M149.5 109.5V112.5 M153.5 111.5V112.5 M152.5 65.5V90.5 M150.5 64.5V66.5 M152.5 88.5V91.5 M134.5 132.5V139.5 M146.5 130.5V134.5 M152.5 128.5V131.5 M152.5 132.5V136.5 M146.5 137.5V142.5 M150.5 135.5V139.5 M153.5 138.5V140.5 M149.5 140.5V144.5 M126.5 143.5V175.5 M140.5 138.5V150.5 M149.5 136.5V139.5 M153.5 138.5V140.5 M150.5 148.5V151.5 M149.5 170.5V180.5 M151.5 169.5V172.5 M153.5 171.5V173.5 M150.5 178.5V182.5 M81.5 198.5V311.5 M100.5 192.5V205.5 M134.5 189.5V196.5 M146.5 186.5V191.5 M152.5 185.5V187.5 M150.5 190.5V192.5 M153.5 192.5V193.5 M146.5 193.5V198.5 M149.5 191.5V195.5 M153.5 194.5V196.5 M149.5 196.5V200.5 M138.5 201.5V208.5 M146.5 198.5V203.5 M152.5 197.5V200.5 M149.5 201.5V205.5 M146.5 205.5V210.5 M150.5 203.5V207.5 M153.5 206.5V207.5 M152.5 209.5V211.5 M121.5 262.5V360.5 M143.5 214.5V311.5 M150.5 212.5V216.5 M153.5 268.5V354.5 M149.5 266.5V269.5 M153.5 268.5V270.5 M149.5 352.5V356.5 M153.5 356.5V357.5 M145.5 356.5V364.5 M152.5 354.5V357.5 M153.5 356.5V358.5 M150.5 362.5V365.5 M153.5 364.5V366.5 M51.5 386.5V431.5 M100.5 371.5V402.5 M134.5 366.5V377.5 M146.5 363.5V368.5 M151.5 362.5V365.5 M153.5 364.5V365.5 M149.5 366.5V370.5 M153.5 370.5V371.5 M146.5 374.5V379.5 M150.5 373.5V375.5 M151.5 377.5V381.5 M146.5 384.5V421.5 M149.5 382.5V386.5 M151.5 420.5V422.5 M153.5 421.5V423.5 M110.5 427.5V435.5 M144.5 433.5V438.5 M152.5 431.5V434.5 M151.5 436.5V439.5 M153.5 439.5V440.5 M127.5 422.5V432.5 M146.5 420.5V425.5 M151.5 418.5V421.5 M153.5 420.5V422.5 M150.5 423.5V427.5 M146.5 429.5V434.5 M149.5 428.5V431.5 M153.5 430.5V432.5 M151.5 433.5V435.5 M153.5 435.5V436.5 M44.5 601.5V751.5 M60.5 560.5V643.5 M111.5 500.5V622.5 M137.5 436.5V564.5 M152.5 435.5V438.5 M152.5 563.5V565.5 M153.5 564.5V566.5 M143.5 616.5V626.5 M150.5 614.5V618.5 M153.5 618.5V619.5 M152.5 624.5V628.5 M126.5 631.5V655.5 M146.5 628.5V633.5 M149.5 627.5V630.5 M150.5 631.5V635.5 M153.5 635.5V636.5 M143.5 634.5V675.5 M150.5 633.5V636.5 M153.5 635.5V637.5 M150.5 673.5V676.5 M153.5 676.5V677.5 M118.5 722.5V780.5 M133.5 690.5V753.5 M149.5 688.5V692.5 M150.5 732.5V775.5 M152.5 730.5V734.5 M153.5 734.5V735.5 M150.5 773.5V777.5 M137.5 776.5V784.5 M146.5 774.5V779.5 M152.5 772.5V776.5 M153.5 775.5V777.5 M149.5 777.5V780.5 M153.5 780.5V781.5 M146.5 781.5V786.5 M151.5 779.5V783.5 M149.5 785.5V787.5 M59.5 900.5V1017.5 M103.5 868.5V932.5 M116.5 835.5V902.5 M146.5 900.5V905.5 M149.5 898.5V901.5 M153.5 900.5V902.5 M150.5 904.5V906.5 M153.5 905.5V907.5 M137.5 810.5V859.5 M142.5 805.5V814.5 M152.5 803.5V807.5 M153.5 806.5V807.5 M150.5 812.5V816.5 M152.5 843.5V876.5 M150.5 841.5V845.5 M153.5 844.5V846.5 M149.5 874.5V878.5 M153.5 877.5V878.5 M133.5 921.5V943.5 M143.5 916.5V925.5 M149.5 915.5V918.5 M150.5 923.5V927.5 M149.5 937.5V949.5 M150.5 936.5V938.5 M149.5 948.5V950.5 M119.5 983.5V1050.5 M127.5 975.5V991.5 M143.5 968.5V982.5 M150.5 967.5V969.5 M153.5 968.5V970.5 M152.5 981.5V983.5 M153.5 982.5V984.5 M144.5 988.5V992.5 M151.5 986.5V990.5 M153.5 990.5V991.5 M152.5 990.5V994.5 M153.5 994.5V995.5 M139.5 1038.5V1064.5 M149.5 1062.5V1065.5 M146.5 1026.5V1050.5 M151.5 1025.5V1028.5 M153.5 1027.5V1029.5 M149.5 1049.5V1052.5 M156.5 62.5V1064.5" stroke="#777" stroke-width="1" fill="none"/><path d="M24.5 198.5H30.5 M24.5 409.5H51.5 M24.5 676.5H44.5 M24.5 958.5H59.5 M30.5 141.5H56.5 M30.5 255.5H81.5 M56.5 124.5H92.5 M56.5 160.5H126.5 M92.5 112.5H123.5 M92.5 135.5H134.5 M123.5 104.5H139.5 M150.5 118.5H156.5 M150.5 120.5H156.5 M140.5 119.5H150.5 M151.5 122.5H156.5 M151.5 126.5H156.5 M140.5 124.5H151.5 M123.5 121.5H140.5 M139.5 94.5H150.5 M152.5 111.5H156.5 M152.5 113.5H156.5 M139.5 112.5H152.5 M150.5 78.5H152.5 M149.5 109.5H156.5 M149.5 112.5H156.5 M150.5 110.5H149.5 M150.5 64.5H156.5 M150.5 66.5H156.5 M152.5 65.5H150.5 M152.5 88.5H156.5 M152.5 91.5H156.5 M152.5 90.5H152.5 M152.5 128.5H156.5 M152.5 131.5H156.5 M146.5 130.5H152.5 M152.5 132.5H156.5 M152.5 136.5H156.5 M146.5 134.5H152.5 M134.5 132.5H146.5 M150.5 135.5H156.5 M150.5 139.5H156.5 M146.5 137.5H150.5 M149.5 140.5H156.5 M149.5 144.5H156.5 M146.5 142.5H149.5 M134.5 139.5H146.5 M126.5 143.5H140.5 M126.5 175.5H149.5 M149.5 136.5H156.5 M149.5 139.5H156.5 M140.5 138.5H149.5 M150.5 148.5H156.5 M150.5 151.5H156.5 M140.5 150.5H150.5 M151.5 169.5H156.5 M151.5 172.5H156.5 M149.5 170.5H151.5 M150.5 178.5H156.5 M150.5 182.5H156.5 M149.5 180.5H150.5 M81.5 198.5H100.5 M81.5 311.5H121.5 M100.5 192.5H134.5 M100.5 205.5H138.5 M152.5 185.5H156.5 M152.5 187.5H156.5 M146.5 186.5H152.5 M150.5 190.5H156.5 M150.5 192.5H156.5 M146.5 191.5H150.5 M134.5 189.5H146.5 M149.5 191.5H156.5 M149.5 195.5H156.5 M146.5 193.5H149.5 M149.5 196.5H156.5 M149.5 200.5H156.5 M146.5 198.5H149.5 M134.5 196.5H146.5 M152.5 197.5H156.5 M152.5 200.5H156.5 M146.5 198.5H152.5 M149.5 201.5H156.5 M149.5 205.5H156.5 M146.5 203.5H149.5 M138.5 201.5H146.5 M150.5 203.5H156.5 M150.5 207.5H156.5 M146.5 205.5H150.5 M152.5 209.5H156.5 M152.5 211.5H156.5 M146.5 210.5H152.5 M138.5 208.5H146.5 M121.5 262.5H143.5 M121.5 360.5H145.5 M150.5 212.5H156.5 M150.5 216.5H156.5 M143.5 214.5H150.5 M143.5 311.5H153.5 M149.5 266.5H156.5 M149.5 269.5H156.5 M153.5 268.5H149.5 M149.5 352.5H156.5 M149.5 356.5H156.5 M153.5 354.5H149.5 M152.5 354.5H156.5 M152.5 357.5H156.5 M145.5 356.5H152.5 M150.5 362.5H156.5 M150.5 365.5H156.5 M145.5 364.5H150.5 M51.5 386.5H100.5 M51.5 431.5H110.5 M100.5 371.5H134.5 M100.5 402.5H146.5 M151.5 362.5H156.5 M151.5 365.5H156.5 M146.5 363.5H151.5 M149.5 366.5H156.5 M149.5 370.5H156.5 M146.5 368.5H149.5 M134.5 366.5H146.5 M150.5 373.5H156.5 M150.5 375.5H156.5 M146.5 374.5H150.5 M151.5 377.5H156.5 M151.5 381.5H156.5 M146.5 379.5H151.5 M134.5 377.5H146.5 M149.5 382.5H156.5 M149.5 386.5H156.5 M146.5 384.5H149.5 M151.5 420.5H156.5 M151.5 422.5H156.5 M146.5 421.5H151.5 M110.5 427.5H127.5 M152.5 431.5H156.5 M152.5 434.5H156.5 M144.5 433.5H152.5 M151.5 436.5H156.5 M151.5 439.5H156.5 M144.5 438.5H151.5 M110.5 435.5H144.5 M151.5 418.5H156.5 M151.5 421.5H156.5 M146.5 420.5H151.5 M150.5 423.5H156.5 M150.5 427.5H156.5 M146.5 425.5H150.5 M127.5 422.5H146.5 M149.5 428.5H156.5 M149.5 431.5H156.5 M146.5 429.5H149.5 M151.5 433.5H156.5 M151.5 435.5H156.5 M146.5 434.5H151.5 M127.5 432.5H146.5 M44.5 601.5H60.5 M44.5 751.5H118.5 M60.5 560.5H111.5 M60.5 643.5H126.5 M111.5 500.5H137.5 M111.5 622.5H143.5 M152.5 435.5H156.5 M152.5 438.5H156.5 M137.5 436.5H152.5 M152.5 563.5H156.5 M152.5 565.5H156.5 M137.5 564.5H152.5 M150.5 614.5H156.5 M150.5 618.5H156.5 M143.5 616.5H150.5 M152.5 624.5H156.5 M152.5 628.5H156.5 M143.5 626.5H152.5 M149.5 627.5H156.5 M149.5 630.5H156.5 M146.5 628.5H149.5 M150.5 631.5H156.5 M150.5 635.5H156.5 M146.5 633.5H150.5 M126.5 631.5H146.5 M126.5 655.5H143.5 M150.5 633.5H156.5 M150.5 636.5H156.5 M143.5 634.5H150.5 M150.5 673.5H156.5 M150.5 676.5H156.5 M143.5 675.5H150.5 M118.5 722.5H133.5 M118.5 780.5H137.5 M149.5 688.5H156.5 M149.5 692.5H156.5 M133.5 690.5H149.5 M133.5 753.5H150.5 M152.5 730.5H156.5 M152.5 734.5H156.5 M150.5 732.5H152.5 M150.5 773.5H156.5 M150.5 777.5H156.5 M150.5 775.5H150.5 M152.5 772.5H156.5 M152.5 776.5H156.5 M146.5 774.5H152.5 M149.5 777.5H156.5 M149.5 780.5H156.5 M146.5 779.5H149.5 M137.5 776.5H146.5 M151.5 779.5H156.5 M151.5 783.5H156.5 M146.5 781.5H151.5 M149.5 785.5H156.5 M149.5 787.5H156.5 M146.5 786.5H149.5 M137.5 784.5H146.5 M59.5 900.5H103.5 M59.5 1017.5H119.5 M103.5 868.5H116.5 M103.5 932.5H133.5 M116.5 835.5H137.5 M149.5 898.5H156.5 M149.5 901.5H156.5 M146.5 900.5H149.5 M150.5 904.5H156.5 M150.5 906.5H156.5 M146.5 905.5H150.5 M116.5 902.5H146.5 M137.5 810.5H142.5 M137.5 859.5H152.5 M152.5 803.5H156.5 M152.5 807.5H156.5 M142.5 805.5H152.5 M150.5 812.5H156.5 M150.5 816.5H156.5 M142.5 814.5H150.5 M150.5 841.5H156.5 M150.5 845.5H156.5 M152.5 843.5H150.5 M149.5 874.5H156.5 M149.5 878.5H156.5 M152.5 876.5H149.5 M133.5 921.5H143.5 M133.5 943.5H149.5 M149.5 915.5H156.5 M149.5 918.5H156.5 M143.5 916.5H149.5 M150.5 923.5H156.5 M150.5 927.5H156.5 M143.5 925.5H150.5 M150.5 936.5H156.5 M150.5 938.5H156.5 M149.5 937.5H150.5 M149.5 948.5H156.5 M149.5 950.5H156.5 M149.5 949.5H149.5 M119.5 983.5H127.5 M119.5 1050.5H139.5 M127.5 975.5H143.5 M127.5 991.5H144.5 M150.5 967.5H156.5 M150.5 969.5H156.5 M143.5 968.5H150.5 M152.5 981.5H156.5 M152.5 983.5H156.5 M143.5 982.5H152.5 M151.5 986.5H156.5 M151.5 990.5H156.5 M144.5 988.5H151.5 M152.5 990.5H156.5 M152.5 994.5H156.5 M144.5 992.5H152.5 M139.5 1038.5H146.5 M149.5 1062.5H156.5 M149.5 1065.5H156.5 M139.5 1064.5H149.5 M151.5 1025.5H156.5 M151.5 1028.5H156.5 M146.5 1026.5H151.5 M149.5 1049.5H156.5 M149.5 1052.5H156.5 M146.5 1050.5H149.5" stroke="#000" stroke-width="1.1" fill="none"/>
<text transform="translate(221 1084.8) scale(1.08 1)" text-anchor="middle" font-family="'Liberation Serif', serif" font-weight="bold" font-size="16.5">W</text>
<text transform="translate(273.4 1084.8) scale(1.2 1)" text-anchor="middle" font-family="'Liberation Serif', serif" font-weight="bold" font-size="16.5">G</text>
<text transform="translate(333.4 1084.8) scale(1.08 1)" text-anchor="middle" font-family="'Liberation Serif', serif" font-weight="bold" font-size="16.5">W</text>
<text transform="translate(385.7 1084.8) scale(1.2 1)" text-anchor="middle" font-family="'Liberation Serif', serif" font-weight="bold" font-size="16.5">G</text>
<path d="M198.7 1088.5H299.8 M302 1088.5H403.5" stroke="#000" stroke-width="1"/>
<text transform="translate(249.3 1101.8) scale(1.14 1)" text-anchor="middle" font-family="'Liberation Serif', serif" font-weight="bold" font-size="16.5">8 hpi</text>
<text transform="translate(360.3 1101.8) scale(1.12 1)" text-anchor="middle" font-family="'Liberation Serif', serif" font-weight="bold" font-size="16.5">48 hpi</text>
<defs><linearGradient id="cs" x1="0" x2="1" y1="0" y2="0"><stop offset="0" stop-color="#FF0000"/><stop offset="0.39" stop-color="#000"/><stop offset="1" stop-color="#00FF00"/></linearGradient></defs>
<rect x="46" y="1087" width="84.4" height="20.4" fill="url(#cs)"/>
<text x="57" y="1122.2" text-anchor="middle" font-family="'Liberation Serif', serif" font-size="12.5" transform="">-5</text>
<text x="79" y="1122.2" text-anchor="middle" font-family="'Liberation Serif', serif" font-size="12.5" transform="">0</text>
<text x="96.2" y="1122.2" text-anchor="middle" font-family="'Liberation Serif', serif" font-size="12.5" transform="">5</text>
<text x="116.4" y="1122.2" text-anchor="middle" font-family="'Liberation Serif', serif" font-size="12.5" transform="">10</text>
<rect x="610.6" y="10.3" width="17" height="4.7" fill="#00BB00"/>
<rect x="610.6" y="30.4" width="17" height="4.4" fill="#4040FF"/>
<text x="635.5" y="16.5" font-family="'Liberation Sans', sans-serif" font-weight="bold" font-size="10.5">Upregulated</text>
<text x="635.5" y="36.5" font-family="'Liberation Sans', sans-serif" font-weight="bold" font-size="10.5">Downregulated</text>
<text x="462.9" y="57.3" font-family="'Liberation Serif', serif" font-weight="bold" font-size="20">Cluster 1</text>
<text transform="translate(546.7 57.3) scale(1.15 1)" font-family="'Liberation Serif', serif" font-size="16">(283 DEGs)</text>
<rect x="539.5" y="76.40" width="25.8" height="79.60" fill="#00BB00"/>
<rect x="579" y="141.60" width="25.8" height="14.40" fill="#00BB00"/>
<rect x="579" y="156" width="25.8" height="33.60" fill="#4040FF"/>
<rect x="618.2" y="119.60" width="25.8" height="36.40" fill="#00BB00"/>
<rect x="618.2" y="156" width="25.8" height="0.80" fill="#4040FF"/>
<rect x="658" y="108.40" width="25.8" height="47.60" fill="#00BB00"/>
<rect x="658" y="156" width="25.8" height="0.40" fill="#4040FF"/>
<path d="M526 75.5V202" stroke="#888" stroke-width="1.3" fill="none"/>
<path d="M526 156H690" stroke="#333" stroke-width="1" fill="none"/>
<path d="M526 202H690" stroke="#555" stroke-width="1" fill="none"/>
<path d="M523.5 76.00H526" stroke="#555" stroke-width="1"/>
<text x="520.5" y="79.40" text-anchor="end" font-family="'Liberation Serif', serif" font-size="11.8">200</text>
<path d="M523.5 96.00H526" stroke="#555" stroke-width="1"/>
<text x="520.5" y="99.40" text-anchor="end" font-family="'Liberation Serif', serif" font-size="11.8">150</text>
<path d="M523.5 116.00H526" stroke="#555" stroke-width="1"/>
<text x="520.5" y="119.40" text-anchor="end" font-family="'Liberation Serif', serif" font-size="11.8">100</text>
<path d="M523.5 136.00H526" stroke="#555" stroke-width="1"/>
<text x="520.5" y="139.40" text-anchor="end" font-family="'Liberation Serif', serif" font-size="11.8">50</text>
<path d="M523.5 156.00H526" stroke="#555" stroke-width="1"/>
<text x="520.5" y="159.40" text-anchor="end" font-family="'Liberation Serif', serif" font-size="11.8">0</text>
<path d="M523.5 176.00H526" stroke="#555" stroke-width="1"/>
<text x="520.5" y="179.40" text-anchor="end" font-family="'Liberation Serif', serif" font-size="11.8">-50</text>
<path d="M523.5 196.00H526" stroke="#555" stroke-width="1"/>
<text x="520.5" y="199.40" text-anchor="end" font-family="'Liberation Serif', serif" font-size="11.8">-100</text>
<text x="552.4" y="74.40" text-anchor="middle" font-family="'Liberation Serif', serif" font-size="11.8">199</text>
<text x="591.9" y="139.60" text-anchor="middle" font-family="'Liberation Serif', serif" font-size="11.8">36</text>
<text x="591.9" y="199.60" text-anchor="middle" font-family="'Liberation Serif', serif" font-size="11.8">84</text>
<text x="631.1" y="117.60" text-anchor="middle" font-family="'Liberation Serif', serif" font-size="11.8">91</text>
<text x="631.1" y="167.00" text-anchor="middle" font-family="'Liberation Serif', serif" font-size="11.8">2</text>
<text x="670.9" y="106.40" text-anchor="middle" font-family="'Liberation Serif', serif" font-size="11.8">119</text>
<text x="670.9" y="167.00" text-anchor="middle" font-family="'Liberation Serif', serif" font-size="11.8">1</text>
<text x="552.4" y="213.9" text-anchor="middle" font-family="'Liberation Serif', serif" font-size="12.5">W8</text>
<text x="591.9" y="213.9" text-anchor="middle" font-family="'Liberation Serif', serif" font-size="12.5">G8</text>
<text x="631.1" y="213.9" text-anchor="middle" font-family="'Liberation Serif', serif" font-size="12.5">W48</text>
<text x="670.9" y="213.9" text-anchor="middle" font-family="'Liberation Serif', serif" font-size="12.5">G48</text>
<text transform="translate(499 130) rotate(-90) scale(0.93 1)" text-anchor="middle" font-family="'Liberation Serif', serif" font-size="12.8">DEGs</text>
<text x="462.9" y="240.9" font-family="'Liberation Serif', serif" font-weight="bold" font-size="20">Cluster 2</text>
<text transform="translate(546.7 240.9) scale(1.15 1)" font-family="'Liberation Serif', serif" font-size="16">(430 DEGs)</text>
<rect x="538.5" y="351.10" width="26.6" height="23.80" fill="#00BB00"/>
<rect x="579" y="360.52" width="26.6" height="14.38" fill="#00BB00"/>
<rect x="579" y="374.9" width="26.6" height="0.26" fill="#4040FF"/>
<rect x="619.5" y="262.72" width="26.6" height="112.18" fill="#00BB00"/>
<rect x="660" y="356.07" width="26.6" height="18.83" fill="#00BB00"/>
<rect x="660" y="374.9" width="26.6" height="0.26" fill="#4040FF"/>
<path d="M525 256.5V385.1" stroke="#888" stroke-width="1.3" fill="none"/>
<path d="M525 374.9H689.1" stroke="#333" stroke-width="1" fill="none"/>
<path d="M525 385.1H689.1" stroke="#555" stroke-width="1" fill="none"/>
<path d="M522.5 257.22H525" stroke="#555" stroke-width="1"/>
<text x="521" y="259.62" text-anchor="end" font-family="'Liberation Serif', serif" font-size="11.8">450</text>
<path d="M522.5 296.45H525" stroke="#555" stroke-width="1"/>
<text x="521" y="298.85" text-anchor="end" font-family="'Liberation Serif', serif" font-size="11.8">300</text>
<path d="M522.5 335.67H525" stroke="#555" stroke-width="1"/>
<text x="521" y="338.07" text-anchor="end" font-family="'Liberation Serif', serif" font-size="11.8">150</text>
<path d="M522.5 374.90H525" stroke="#555" stroke-width="1"/>
<text x="521" y="377.30" text-anchor="end" font-family="'Liberation Serif', serif" font-size="11.8">0</text>
<text x="551.8" y="349.10" text-anchor="middle" font-family="'Liberation Serif', serif" font-size="11.8">91</text>
<text x="592.3" y="358.52" text-anchor="middle" font-family="'Liberation Serif', serif" font-size="11.8">55</text>
<text x="592.3" y="385.90" text-anchor="middle" font-family="'Liberation Serif', serif" font-size="11.8">1</text>
<text x="632.8" y="260.72" text-anchor="middle" font-family="'Liberation Serif', serif" font-size="11.8">429</text>
<text x="673.3" y="354.07" text-anchor="middle" font-family="'Liberation Serif', serif" font-size="11.8">72</text>
<text x="673.3" y="385.90" text-anchor="middle" font-family="'Liberation Serif', serif" font-size="11.8">1</text>
<text x="551.8" y="397.7" text-anchor="middle" font-family="'Liberation Serif', serif" font-size="12.5">W8</text>
<text x="592.3" y="397.7" text-anchor="middle" font-family="'Liberation Serif', serif" font-size="12.5">G8</text>
<text x="632.8" y="397.7" text-anchor="middle" font-family="'Liberation Serif', serif" font-size="12.5">W48</text>
<text x="673.3" y="397.7" text-anchor="middle" font-family="'Liberation Serif', serif" font-size="12.5">G48</text>
<text transform="translate(497.9 315.5) rotate(-90) scale(0.93 1)" text-anchor="middle" font-family="'Liberation Serif', serif" font-size="12.8">DEGs</text>
<text x="462.9" y="423.8" font-family="'Liberation Serif', serif" font-weight="bold" font-size="20">Cluster 3</text>
<text transform="translate(546.7 423.8) scale(1.15 1)" font-family="'Liberation Serif', serif" font-size="16">(175 DEGs)</text>
<rect x="538.2" y="480.62" width="26.2" height="24.08" fill="#00BB00"/>
<rect x="538.2" y="504.7" width="26.2" height="2.47" fill="#4040FF"/>
<rect x="578.2" y="455.30" width="26.2" height="49.40" fill="#00BB00"/>
<rect x="618.2" y="463.94" width="26.2" height="40.76" fill="#00BB00"/>
<rect x="618.2" y="504.7" width="26.2" height="8.03" fill="#4040FF"/>
<rect x="658" y="495.44" width="26.2" height="9.26" fill="#00BB00"/>
<rect x="658" y="504.7" width="26.2" height="59.28" fill="#4040FF"/>
<path d="M524.9 441.5V574" stroke="#555" stroke-width="1.3" fill="none"/>
<path d="M524.9 504.7H689" stroke="#333" stroke-width="1" fill="none"/>
<path d="M524.9 574H689" stroke="#555" stroke-width="1" fill="none"/>
<path d="M522.4 442.95H524.9" stroke="#555" stroke-width="1"/>
<text x="521.9" y="447.45" text-anchor="end" font-family="'Liberation Serif', serif" font-size="11.8">100</text>
<path d="M522.4 473.82H524.9" stroke="#555" stroke-width="1"/>
<text x="521.9" y="478.32" text-anchor="end" font-family="'Liberation Serif', serif" font-size="11.8">50</text>
<path d="M522.4 504.70H524.9" stroke="#555" stroke-width="1"/>
<text x="521.9" y="509.20" text-anchor="end" font-family="'Liberation Serif', serif" font-size="11.8">0</text>
<path d="M522.4 535.58H524.9" stroke="#555" stroke-width="1"/>
<text x="521.9" y="540.08" text-anchor="end" font-family="'Liberation Serif', serif" font-size="11.8">-50</text>
<path d="M522.4 566.45H524.9" stroke="#555" stroke-width="1"/>
<text x="521.9" y="570.95" text-anchor="end" font-family="'Liberation Serif', serif" font-size="11.8">-100</text>
<text x="551.3000000000001" y="478.62" text-anchor="middle" font-family="'Liberation Serif', serif" font-size="11.8">39</text>
<text x="551.3000000000001" y="517.17" text-anchor="middle" font-family="'Liberation Serif', serif" font-size="11.8">4</text>
<text x="591.3000000000001" y="453.30" text-anchor="middle" font-family="'Liberation Serif', serif" font-size="11.8">80</text>
<text x="631.3000000000001" y="461.94" text-anchor="middle" font-family="'Liberation Serif', serif" font-size="11.8">66</text>
<text x="631.3000000000001" y="522.73" text-anchor="middle" font-family="'Liberation Serif', serif" font-size="11.8">13</text>
<text x="671.1" y="493.44" text-anchor="middle" font-family="'Liberation Serif', serif" font-size="11.8">15</text>
<text x="671.1" y="573.98" text-anchor="middle" font-family="'Liberation Serif', serif" font-size="11.8">96</text>
<text x="551.3000000000001" y="586.7" text-anchor="middle" font-family="'Liberation Serif', serif" font-size="12.5">W8</text>
<text x="591.3000000000001" y="586.7" text-anchor="middle" font-family="'Liberation Serif', serif" font-size="12.5">G8</text>
<text x="631.3000000000001" y="586.7" text-anchor="middle" font-family="'Liberation Serif', serif" font-size="12.5">W48</text>
<text x="671.1" y="586.7" text-anchor="middle" font-family="'Liberation Serif', serif" font-size="12.5">G48</text>
<text transform="translate(503.8 506) rotate(-90) scale(0.93 1)" text-anchor="middle" font-family="'Liberation Serif', serif" font-size="12.8">DEGs</text>
<text x="462.9" y="606.6" font-family="'Liberation Serif', serif" font-weight="bold" font-size="20">Cluster 4</text>
<text transform="translate(546.7 606.6) scale(1.15 1)" font-family="'Liberation Serif', serif" font-size="16">(603 DEGs)</text>
<rect x="541.5" y="711.62" width="26.2" height="6.68" fill="#00BB00"/>
<rect x="541.5" y="718.3" width="26.2" height="0.37" fill="#4040FF"/>
<rect x="581.5" y="628.89" width="26.2" height="89.41" fill="#00BB00"/>
<rect x="581.5" y="718.3" width="26.2" height="0.37" fill="#4040FF"/>
<rect x="621.3" y="716.07" width="26.2" height="2.23" fill="#00BB00"/>
<rect x="621.3" y="718.3" width="26.2" height="23.00" fill="#4040FF"/>
<rect x="661" y="703.09" width="26.2" height="15.21" fill="#00BB00"/>
<path d="M528.4 625V755.8" stroke="#555" stroke-width="1.3" fill="none"/>
<path d="M528.4 718.3H692.2" stroke="#333" stroke-width="1" fill="none"/>
<path d="M528.4 755.8H692.2" stroke="#555" stroke-width="1" fill="none"/>
<path d="M525.9 625.55H528.4" stroke="#555" stroke-width="1"/>
<text x="524.6" y="631.05" text-anchor="end" font-family="'Liberation Serif', serif" font-size="11.8">500</text>
<path d="M525.9 662.65H528.4" stroke="#555" stroke-width="1"/>
<text x="524.6" y="668.15" text-anchor="end" font-family="'Liberation Serif', serif" font-size="11.8">300</text>
<path d="M525.9 690.47H528.4" stroke="#555" stroke-width="1"/>
<text x="524.6" y="695.97" text-anchor="end" font-family="'Liberation Serif', serif" font-size="11.8">150</text>
<path d="M525.9 718.30H528.4" stroke="#555" stroke-width="1"/>
<text x="524.6" y="723.80" text-anchor="end" font-family="'Liberation Serif', serif" font-size="11.8">0</text>
<path d="M525.9 746.12H528.4" stroke="#555" stroke-width="1"/>
<text x="524.6" y="751.62" text-anchor="end" font-family="'Liberation Serif', serif" font-size="11.8">-150</text>
<text x="554.6" y="709.62" text-anchor="middle" font-family="'Liberation Serif', serif" font-size="11.8">36</text>
<text x="554.6" y="729.30" text-anchor="middle" font-family="'Liberation Serif', serif" font-size="11.8">2</text>
<text x="594.6" y="626.89" text-anchor="middle" font-family="'Liberation Serif', serif" font-size="11.8">482</text>
<text x="594.6" y="729.30" text-anchor="middle" font-family="'Liberation Serif', serif" font-size="11.8">2</text>
<text x="634.4" y="714.07" text-anchor="middle" font-family="'Liberation Serif', serif" font-size="11.8">12</text>
<text x="634.4" y="751.30" text-anchor="middle" font-family="'Liberation Serif', serif" font-size="11.8">124</text>
<text x="674.1" y="701.09" text-anchor="middle" font-family="'Liberation Serif', serif" font-size="11.8">82</text>
<text x="554.6" y="767.7" text-anchor="middle" font-family="'Liberation Serif', serif" font-size="12.5">W8</text>
<text x="594.6" y="767.7" text-anchor="middle" font-family="'Liberation Serif', serif" font-size="12.5">G8</text>
<text x="634.4" y="767.7" text-anchor="middle" font-family="'Liberation Serif', serif" font-size="12.5">W48</text>
<text x="674.1" y="767.7" text-anchor="middle" font-family="'Liberation Serif', serif" font-size="12.5">G48</text>
<text transform="translate(503 692.4) rotate(-90) scale(0.93 1)" text-anchor="middle" font-family="'Liberation Serif', serif" font-size="12.8">DEGs</text>
<text x="462.9" y="789.7" font-family="'Liberation Serif', serif" font-weight="bold" font-size="20">Cluster 5</text>
<text transform="translate(546.7 789.7) scale(1.15 1)" font-family="'Liberation Serif', serif" font-size="16">(235DEGs)</text>
<rect x="542.3" y="918.76" width="26.2" height="8.04" fill="#00BB00"/>
<rect x="582" y="906.00" width="26.2" height="20.80" fill="#00BB00"/>
<rect x="621.3" y="917.82" width="26.2" height="8.98" fill="#00BB00"/>
<rect x="661" y="815.69" width="26.2" height="111.11" fill="#00BB00"/>
<path d="M529.4 807.5V926.8" stroke="#555" stroke-width="1.3" fill="none"/>
<path d="M529.4 926.8H695.4" stroke="#333" stroke-width="1" fill="none"/>
<path d="M526.9 808.60H529.4" stroke="#555" stroke-width="1"/>
<text x="525.4" y="813.40" text-anchor="end" font-family="'Liberation Serif', serif" font-size="11.8">250</text>
<path d="M526.9 832.24H529.4" stroke="#555" stroke-width="1"/>
<text x="525.4" y="837.04" text-anchor="end" font-family="'Liberation Serif', serif" font-size="11.8">200</text>
<path d="M526.9 855.88H529.4" stroke="#555" stroke-width="1"/>
<text x="525.4" y="860.68" text-anchor="end" font-family="'Liberation Serif', serif" font-size="11.8">150</text>
<path d="M526.9 879.52H529.4" stroke="#555" stroke-width="1"/>
<text x="525.4" y="884.32" text-anchor="end" font-family="'Liberation Serif', serif" font-size="11.8">100</text>
<path d="M526.9 903.16H529.4" stroke="#555" stroke-width="1"/>
<text x="525.4" y="907.96" text-anchor="end" font-family="'Liberation Serif', serif" font-size="11.8">50</text>
<path d="M526.9 926.80H529.4" stroke="#555" stroke-width="1"/>
<text x="525.4" y="931.60" text-anchor="end" font-family="'Liberation Serif', serif" font-size="11.8">0</text>
<text x="555.4" y="916.76" text-anchor="middle" font-family="'Liberation Serif', serif" font-size="11.8">17</text>
<text x="595.1" y="904.00" text-anchor="middle" font-family="'Liberation Serif', serif" font-size="11.8">44</text>
<text x="634.4" y="915.82" text-anchor="middle" font-family="'Liberation Serif', serif" font-size="11.8">19</text>
<text x="674.1" y="813.69" text-anchor="middle" font-family="'Liberation Serif', serif" font-size="11.8">235</text>
<text x="555.4" y="940" text-anchor="middle" font-family="'Liberation Serif', serif" font-size="12.5">W8</text>
<text x="595.1" y="940" text-anchor="middle" font-family="'Liberation Serif', serif" font-size="12.5">G8</text>
<text x="634.4" y="940" text-anchor="middle" font-family="'Liberation Serif', serif" font-size="12.5">W48</text>
<text x="674.1" y="940" text-anchor="middle" font-family="'Liberation Serif', serif" font-size="12.5">G48</text>
<text transform="translate(504 865.4) rotate(-90) scale(0.93 1)" text-anchor="middle" font-family="'Liberation Serif', serif" font-size="12.8">DEGs</text>
<text x="462.9" y="973.4" font-family="'Liberation Serif', serif" font-weight="bold" font-size="20">Cluster 6</text>
<text transform="translate(546.7 973.4) scale(1.15 1)" font-family="'Liberation Serif', serif" font-size="16">(658 DEGs)</text>
<rect x="541.5" y="1094.49" width="26.2" height="9.01" fill="#00BB00"/>
<rect x="541.5" y="1103.5" width="26.2" height="12.24" fill="#4040FF"/>
<rect x="581.3" y="1047.23" width="26.2" height="56.27" fill="#00BB00"/>
<rect x="620.8" y="1003.88" width="26.2" height="99.62" fill="#00BB00"/>
<rect x="660" y="1003.88" width="26.2" height="99.62" fill="#00BB00"/>
<path d="M528.4 1000.5V1126.3" stroke="#555" stroke-width="1.3" fill="none"/>
<path d="M528.4 1103.5H693.4" stroke="#333" stroke-width="1" fill="none"/>
<path d="M528.4 1126.3H693.4" stroke="#555" stroke-width="1" fill="none"/>
<path d="M525.9 1001.50H528.4" stroke="#555" stroke-width="1"/>
<text x="524.4" y="1006.50" text-anchor="end" font-family="'Liberation Serif', serif" font-size="11.8">600</text>
<path d="M525.9 1027.00H528.4" stroke="#555" stroke-width="1"/>
<text x="524.4" y="1032.00" text-anchor="end" font-family="'Liberation Serif', serif" font-size="11.8">450</text>
<path d="M525.9 1052.50H528.4" stroke="#555" stroke-width="1"/>
<text x="524.4" y="1057.50" text-anchor="end" font-family="'Liberation Serif', serif" font-size="11.8">300</text>
<path d="M525.9 1078.00H528.4" stroke="#555" stroke-width="1"/>
<text x="524.4" y="1083.00" text-anchor="end" font-family="'Liberation Serif', serif" font-size="11.8">150</text>
<path d="M525.9 1103.50H528.4" stroke="#555" stroke-width="1"/>
<text x="524.4" y="1108.50" text-anchor="end" font-family="'Liberation Serif', serif" font-size="11.8">0</text>
<path d="M525.9 1120.50H528.4" stroke="#555" stroke-width="1"/>
<text x="524.4" y="1125.50" text-anchor="end" font-family="'Liberation Serif', serif" font-size="11.8">-100</text>
<text x="554.6" y="1092.49" text-anchor="middle" font-family="'Liberation Serif', serif" font-size="11.8">53</text>
<text x="554.6" y="1125.74" text-anchor="middle" font-family="'Liberation Serif', serif" font-size="11.8">72</text>
<text x="594.4" y="1045.23" text-anchor="middle" font-family="'Liberation Serif', serif" font-size="11.8">331</text>
<text x="633.9" y="1001.88" text-anchor="middle" font-family="'Liberation Serif', serif" font-size="11.8">586</text>
<text x="673.1" y="1001.88" text-anchor="middle" font-family="'Liberation Serif', serif" font-size="11.8">586</text>
<text x="554.6" y="1138.2" text-anchor="middle" font-family="'Liberation Serif', serif" font-size="12.5">W8</text>
<text x="594.4" y="1138.2" text-anchor="middle" font-family="'Liberation Serif', serif" font-size="12.5">G8</text>
<text x="633.9" y="1138.2" text-anchor="middle" font-family="'Liberation Serif', serif" font-size="12.5">W48</text>
<text x="673.1" y="1138.2" text-anchor="middle" font-family="'Liberation Serif', serif" font-size="12.5">G48</text>
<text transform="translate(499.7 1064.3) rotate(-90) scale(0.93 1)" text-anchor="middle" font-family="'Liberation Serif', serif" font-size="12.8">DEGs</text>
</svg></body></html>
